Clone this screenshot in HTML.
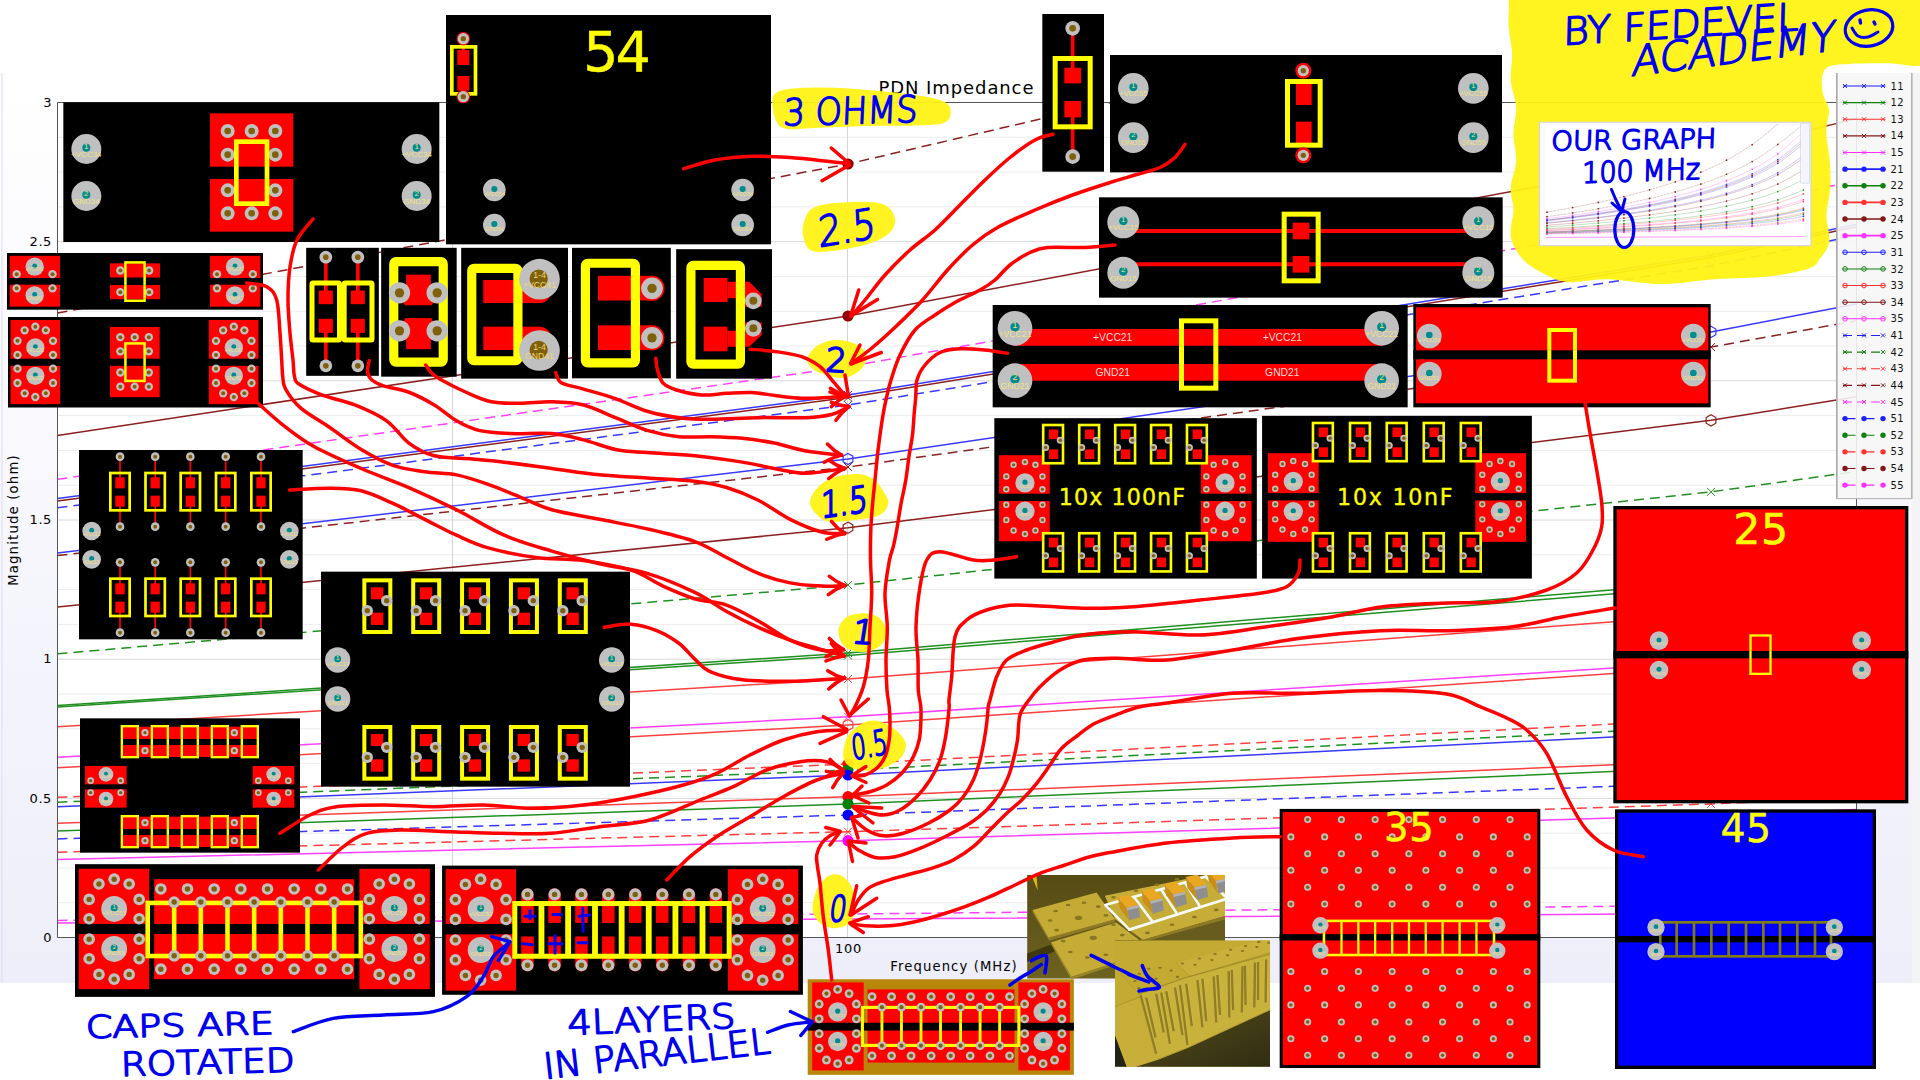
<!DOCTYPE html>
<html lang="en"><head><meta charset="utf-8"><title>PDN Impedance - capacitor layout comparison</title>
<style>html,body{margin:0;padding:0;background:#fff;overflow:hidden}svg{display:block}text{white-space:pre}</style></head>
<body><svg width="1920" height="1080" viewBox="0 0 1920 1080">
<defs>
<linearGradient id="wg" x1="0" y1="0" x2="0" y2="1"><stop offset="0" stop-color="#ffffff"/><stop offset="1" stop-color="#eeeefa"/></linearGradient>
<linearGradient id="g3d1" x1="0" y1="0" x2="0" y2="1"><stop offset="0" stop-color="#554b14"/><stop offset="1" stop-color="#6e6220"/></linearGradient>
<linearGradient id="g3d2" x1="0" y1="0" x2="1" y2="1"><stop offset="0" stop-color="#5a5018"/><stop offset="1" stop-color="#2e2c14"/></linearGradient>
<clipPath id="plotclip"><rect x="57.5" y="102.5" width="1799" height="835"/></clipPath>
<clipPath id="c3d1"><rect x="1027.2" y="875.1" width="197.8" height="103.4"/></clipPath>
<clipPath id="c3d2"><rect x="1114.9" y="940.2" width="155.1" height="126.6"/></clipPath>
</defs>
<rect x="0" y="0" width="1920" height="1080" fill="#ffffff"/>
<rect x="0" y="73" width="1912" height="910" fill="url(#wg)"/>
<rect x="1912" y="73" width="8" height="910" fill="#f4f4f6"/>
<rect x="1.5" y="73" width="1" height="910" fill="#dcdcf4"/>
<rect x="57.5" y="102.5" width="1799" height="835" fill="#ffffff"/>
<line x1="57.5" y1="102.5" x2="1856.5" y2="102.5" stroke="#d8d8d8" stroke-width="1"/>
<line x1="57.5" y1="137.29" x2="1856.5" y2="137.29" stroke="#ececec" stroke-width="1"/>
<line x1="57.5" y1="172.08" x2="1856.5" y2="172.08" stroke="#ececec" stroke-width="1"/>
<line x1="57.5" y1="206.88" x2="1856.5" y2="206.88" stroke="#ececec" stroke-width="1"/>
<line x1="57.5" y1="241.67" x2="1856.5" y2="241.67" stroke="#d8d8d8" stroke-width="1"/>
<line x1="57.5" y1="276.46" x2="1856.5" y2="276.46" stroke="#ececec" stroke-width="1"/>
<line x1="57.5" y1="311.25" x2="1856.5" y2="311.25" stroke="#ececec" stroke-width="1"/>
<line x1="57.5" y1="346.04" x2="1856.5" y2="346.04" stroke="#ececec" stroke-width="1"/>
<line x1="57.5" y1="380.83" x2="1856.5" y2="380.83" stroke="#d8d8d8" stroke-width="1"/>
<line x1="57.5" y1="415.62" x2="1856.5" y2="415.62" stroke="#ececec" stroke-width="1"/>
<line x1="57.5" y1="450.42" x2="1856.5" y2="450.42" stroke="#ececec" stroke-width="1"/>
<line x1="57.5" y1="485.21" x2="1856.5" y2="485.21" stroke="#ececec" stroke-width="1"/>
<line x1="57.5" y1="520" x2="1856.5" y2="520" stroke="#d8d8d8" stroke-width="1"/>
<line x1="57.5" y1="554.79" x2="1856.5" y2="554.79" stroke="#ececec" stroke-width="1"/>
<line x1="57.5" y1="589.58" x2="1856.5" y2="589.58" stroke="#ececec" stroke-width="1"/>
<line x1="57.5" y1="624.38" x2="1856.5" y2="624.38" stroke="#ececec" stroke-width="1"/>
<line x1="57.5" y1="659.17" x2="1856.5" y2="659.17" stroke="#d8d8d8" stroke-width="1"/>
<line x1="57.5" y1="693.96" x2="1856.5" y2="693.96" stroke="#ececec" stroke-width="1"/>
<line x1="57.5" y1="728.75" x2="1856.5" y2="728.75" stroke="#ececec" stroke-width="1"/>
<line x1="57.5" y1="763.54" x2="1856.5" y2="763.54" stroke="#ececec" stroke-width="1"/>
<line x1="57.5" y1="798.33" x2="1856.5" y2="798.33" stroke="#d8d8d8" stroke-width="1"/>
<line x1="57.5" y1="833.12" x2="1856.5" y2="833.12" stroke="#ececec" stroke-width="1"/>
<line x1="57.5" y1="867.92" x2="1856.5" y2="867.92" stroke="#ececec" stroke-width="1"/>
<line x1="57.5" y1="902.71" x2="1856.5" y2="902.71" stroke="#ececec" stroke-width="1"/>
<line x1="57.5" y1="937.5" x2="1856.5" y2="937.5" stroke="#d8d8d8" stroke-width="1"/>
<line x1="452.5" y1="102.5" x2="452.5" y2="937.5" stroke="#d4d4d4" stroke-width="1"/>
<line x1="847.5" y1="102.5" x2="847.5" y2="937.5" stroke="#d4d4d4" stroke-width="1"/>
<g clip-path="url(#plotclip)">
<path d="M57.5 313L848 164L1711 -37.71L1856.5 -81.91" fill="none" stroke="#8c2020" stroke-width="1.5" stroke-dasharray="10 6"/>
<circle cx="848" cy="164" r="5.6" fill="#900000"/>
<circle cx="1711" cy="-37.71" r="5.6" fill="#900000"/>
<path d="M57.5 435.6L848 316L1711 154.09L1856.5 118.61" fill="none" stroke="#8c2020" stroke-width="1.5"/>
<circle cx="848" cy="316" r="5.6" fill="#900000"/>
<circle cx="1711" cy="154.09" r="5.6" fill="#900000"/>
<path d="M57.5 479.3L848 366.5L1711 213.8L1856.5 180.33" fill="none" stroke="#ff40ff" stroke-width="1.5" stroke-dasharray="10 6"/>
<path d="M844 362.5l8 8m0 -8l-8 8" stroke="#ff40ff" stroke-width="1" fill="none"/>
<path d="M1707 209.8l8 8m0 -8l-8 8" stroke="#ff40ff" stroke-width="1" fill="none"/>
<path d="M57.5 498.4L848 395L1711 255.02L1856.5 224.35" fill="none" stroke="#3838ff" stroke-width="1.5"/>
<path d="M844 391l8 8m0 -8l-8 8" stroke="#3838ff" stroke-width="1" fill="none"/>
<path d="M1707 251.02l8 8m0 -8l-8 8" stroke="#3838ff" stroke-width="1" fill="none"/>
<path d="M57.5 501L848 397.5L1711 257.39L1856.5 226.68" fill="none" stroke="#8c2020" stroke-width="1.5"/>
<path d="M844 393.5l8 8m0 -8l-8 8" stroke="#8c2020" stroke-width="1" fill="none"/>
<path d="M1707 253.39l8 8m0 -8l-8 8" stroke="#8c2020" stroke-width="1" fill="none"/>
<path d="M57.5 507.8L848 405L1711 265.84L1856.5 235.34" fill="none" stroke="#3838ff" stroke-width="1.5" stroke-dasharray="10 6"/>
<path d="M844 401l8 8m0 -8l-8 8" stroke="#3838ff" stroke-width="1" fill="none"/>
<path d="M1707 261.84l8 8m0 -8l-8 8" stroke="#3838ff" stroke-width="1" fill="none"/>
<path d="M57.5 552.9L848 459L1711 331.89L1856.5 304.02" fill="none" stroke="#3838ff" stroke-width="1.5"/>
<polygon points="848,453.4 852.85,456.2 852.85,461.8 848,464.6 843.15,461.8 843.15,456.2" fill="none" stroke="#3838ff" stroke-width="1.2"/>
<polygon points="1711,326.29 1715.85,329.09 1715.85,334.69 1711,337.49 1706.15,334.69 1706.15,329.09" fill="none" stroke="#3838ff" stroke-width="1.2"/>
<path d="M57.5 555.6L848 467L1711 347.06L1856.5 320.77" fill="none" stroke="#8c2020" stroke-width="1.5" stroke-dasharray="10 6"/>
<path d="M844 463l8 8m0 -8l-8 8" stroke="#8c2020" stroke-width="1" fill="none"/>
<path d="M1707 343.06l8 8m0 -8l-8 8" stroke="#8c2020" stroke-width="1" fill="none"/>
<path d="M57.5 607L848 527.7L1711 420.35L1856.5 396.82" fill="none" stroke="#8c2020" stroke-width="1.5"/>
<polygon points="848,522.1 852.85,524.9 852.85,530.5 848,533.3 843.15,530.5 843.15,524.9" fill="none" stroke="#8c2020" stroke-width="1.2"/>
<polygon points="1711,414.75 1715.85,417.55 1715.85,423.15 1711,425.95 1706.15,423.15 1706.15,417.55" fill="none" stroke="#8c2020" stroke-width="1.2"/>
<path d="M57.5 653.8L848 585L1711 491.86L1856.5 471.45" fill="none" stroke="#209020" stroke-width="1.5" stroke-dasharray="10 6"/>
<path d="M844 581l8 8m0 -8l-8 8" stroke="#209020" stroke-width="1" fill="none"/>
<path d="M1707 487.86l8 8m0 -8l-8 8" stroke="#209020" stroke-width="1" fill="none"/>
<path d="M57.5 705.6L848 653L1711 581.79L1856.5 566.19" fill="none" stroke="#209020" stroke-width="1.5"/>
<path d="M844 649l8 8m0 -8l-8 8" stroke="#209020" stroke-width="1" fill="none"/>
<path d="M1707 577.79l8 8m0 -8l-8 8" stroke="#209020" stroke-width="1" fill="none"/>
<path d="M57.5 707L848 655.6L1711 586.02L1856.5 570.77" fill="none" stroke="#209020" stroke-width="1.5"/>
<path d="M844 651.6l8 8m0 -8l-8 8" stroke="#209020" stroke-width="1" fill="none"/>
<path d="M1707 582.02l8 8m0 -8l-8 8" stroke="#209020" stroke-width="1" fill="none"/>
<path d="M57.5 726.7L848 679L1711 614.43L1856.5 600.27" fill="none" stroke="#ff4040" stroke-width="1.5"/>
<path d="M844 675l8 8m0 -8l-8 8" stroke="#ff4040" stroke-width="1" fill="none"/>
<path d="M1707 610.43l8 8m0 -8l-8 8" stroke="#ff4040" stroke-width="1" fill="none"/>
<path d="M57.5 757.3L848 716.7L1711 661.74L1856.5 649.69" fill="none" stroke="#ff40ff" stroke-width="1.5"/>
<path d="M844 712.7l8 8m0 -8l-8 8" stroke="#ff40ff" stroke-width="1" fill="none"/>
<path d="M1707 657.74l8 8m0 -8l-8 8" stroke="#ff40ff" stroke-width="1" fill="none"/>
<path d="M57.5 767.8L848 725L1711 667.06L1856.5 654.36" fill="none" stroke="#ff4040" stroke-width="1.5"/>
<polygon points="848,719.4 852.85,722.2 852.85,727.8 848,730.6 843.15,727.8 843.15,722.2" fill="none" stroke="#ff4040" stroke-width="1.2"/>
<polygon points="1711,661.46 1715.85,664.26 1715.85,669.86 1711,672.66 1706.15,669.86 1706.15,664.26" fill="none" stroke="#ff4040" stroke-width="1.2"/>
<path d="M57.5 797.3L848 764L1711 718.92L1856.5 709.04" fill="none" stroke="#ff4040" stroke-width="1.5" stroke-dasharray="10 6"/>
<circle cx="848" cy="764" r="5.6" fill="#ff0000"/>
<circle cx="1711" cy="718.92" r="5.6" fill="#ff0000"/>
<path d="M57.5 802.2L848 770L1711 726.41L1856.5 716.86" fill="none" stroke="#209020" stroke-width="1.5" stroke-dasharray="10 6"/>
<circle cx="848" cy="770" r="5.6" fill="#008000"/>
<circle cx="1711" cy="726.41" r="5.6" fill="#008000"/>
<path d="M57.5 806.7L848 775L1711 732.09L1856.5 722.68" fill="none" stroke="#3838ff" stroke-width="1.5"/>
<circle cx="848" cy="775" r="5.6" fill="#0000ff"/>
<circle cx="1711" cy="732.09" r="5.6" fill="#0000ff"/>
<path d="M57.5 823.3L848 796.7L1711 760.69L1856.5 752.8" fill="none" stroke="#ff4040" stroke-width="1.5"/>
<circle cx="848" cy="796.7" r="5.6" fill="#ff0000"/>
<circle cx="1711" cy="760.69" r="5.6" fill="#ff0000"/>
<path d="M57.5 831.1L848 804L1711 767.31L1856.5 759.27" fill="none" stroke="#209020" stroke-width="1.5"/>
<circle cx="848" cy="804" r="5.6" fill="#008000"/>
<circle cx="1711" cy="767.31" r="5.6" fill="#008000"/>
<path d="M57.5 838.9L848 815L1711 782.65L1856.5 775.55" fill="none" stroke="#3838ff" stroke-width="1.5" stroke-dasharray="10 6"/>
<circle cx="848" cy="815" r="5.6" fill="#0000ff"/>
<circle cx="1711" cy="782.65" r="5.6" fill="#0000ff"/>
<path d="M57.5 852.2L848 831.7L1711 803.95L1856.5 797.87" fill="none" stroke="#ff4040" stroke-width="1.5" stroke-dasharray="10 6"/>
<path d="M844 827.7l8 8m0 -8l-8 8" stroke="#ff4040" stroke-width="1" fill="none"/>
<path d="M1707 799.95l8 8m0 -8l-8 8" stroke="#ff4040" stroke-width="1" fill="none"/>
<path d="M57.5 859.6L848 840.7L1711 815.11L1856.5 809.51" fill="none" stroke="#ff40ff" stroke-width="1.5"/>
<circle cx="848" cy="840.7" r="5.6" fill="#ff00ff"/>
<circle cx="1711" cy="815.11" r="5.6" fill="#ff00ff"/>
<path d="M57.5 920.4L848 914L1711 905.34L1856.5 903.44" fill="none" stroke="#ff40ff" stroke-width="1.5" stroke-dasharray="10 6"/>
<path d="M57.5 923L848 919L1711 913.59L1856.5 912.4" fill="none" stroke="#ff40ff" stroke-width="1.5"/>
</g>
<path d="M57.5 102.5V937.5H1856.5V102.5Z" fill="none" stroke="#555555" stroke-width="1"/>
<text x="52" y="106.7" font-size="13" fill="#000" font-family='"DejaVu Sans", "Liberation Sans", sans-serif' text-anchor="end" letter-spacing="0.6">3</text>
<text x="52" y="245.87" font-size="13" fill="#000" font-family='"DejaVu Sans", "Liberation Sans", sans-serif' text-anchor="end" letter-spacing="0.6">2.5</text>
<text x="52" y="385.03" font-size="13" fill="#000" font-family='"DejaVu Sans", "Liberation Sans", sans-serif' text-anchor="end" letter-spacing="0.6">2</text>
<text x="52" y="524.2" font-size="13" fill="#000" font-family='"DejaVu Sans", "Liberation Sans", sans-serif' text-anchor="end" letter-spacing="0.6">1.5</text>
<text x="52" y="663.37" font-size="13" fill="#000" font-family='"DejaVu Sans", "Liberation Sans", sans-serif' text-anchor="end" letter-spacing="0.6">1</text>
<text x="52" y="802.53" font-size="13" fill="#000" font-family='"DejaVu Sans", "Liberation Sans", sans-serif' text-anchor="end" letter-spacing="0.6">0.5</text>
<text x="52" y="941.7" font-size="13" fill="#000" font-family='"DejaVu Sans", "Liberation Sans", sans-serif' text-anchor="end" letter-spacing="0.6">0</text>
<text x="848.5" y="953" font-size="13" fill="#000" font-family='"DejaVu Sans", "Liberation Sans", sans-serif' text-anchor="middle" letter-spacing="0.8">100</text>
<text x="954" y="971" font-size="13.2" fill="#000" font-family='"DejaVu Sans", "Liberation Sans", sans-serif' text-anchor="middle" letter-spacing="1.1">Frequency (MHz)</text>
<text x="956.5" y="94" font-size="18" fill="#000" font-family='"DejaVu Sans", "Liberation Sans", sans-serif' text-anchor="middle" letter-spacing="0.9">PDN Impedance</text>
<text transform="translate(18 520) rotate(-90)" font-size="13.2" text-anchor="middle" letter-spacing="1.2" font-family='"DejaVu Sans","Liberation Sans",sans-serif' fill="#000">Magnitude (ohm)</text>
<rect x="1837" y="73" width="75" height="426" fill="#f6f6f6" fill-opacity="0.9"/>
<rect x="1836" y="73" width="1.6" height="426" fill="#a8a8a8"/>
<rect x="1911" y="73" width="1.6" height="426" fill="#b4b4b4"/>
<rect x="1836" y="498" width="76" height="1.2" fill="#b8b8b8"/>
<line x1="1843" y1="86" x2="1885.5" y2="86" stroke="#2020ff" stroke-width="1.1"/>
<path d="M1843 84l4 4m0 -4l-4 4" stroke="#2020ff" stroke-width="1" fill="none"/>
<path d="M1862 84l4 4m0 -4l-4 4" stroke="#2020ff" stroke-width="1" fill="none"/>
<path d="M1881 84l4 4m0 -4l-4 4" stroke="#2020ff" stroke-width="1" fill="none"/>
<text x="1890.5" y="89.6" font-size="10" fill="#111" font-family='"DejaVu Sans", "Liberation Sans", sans-serif' letter-spacing="0.5">11</text>
<line x1="1843" y1="102.63" x2="1885.5" y2="102.63" stroke="#108010" stroke-width="1.1"/>
<path d="M1843 100.63l4 4m0 -4l-4 4" stroke="#108010" stroke-width="1" fill="none"/>
<path d="M1862 100.63l4 4m0 -4l-4 4" stroke="#108010" stroke-width="1" fill="none"/>
<path d="M1881 100.63l4 4m0 -4l-4 4" stroke="#108010" stroke-width="1" fill="none"/>
<text x="1890.5" y="106.23" font-size="10" fill="#111" font-family='"DejaVu Sans", "Liberation Sans", sans-serif' letter-spacing="0.5">12</text>
<line x1="1843" y1="119.26" x2="1885.5" y2="119.26" stroke="#ff3030" stroke-width="1.1"/>
<path d="M1843 117.26l4 4m0 -4l-4 4" stroke="#ff3030" stroke-width="1" fill="none"/>
<path d="M1862 117.26l4 4m0 -4l-4 4" stroke="#ff3030" stroke-width="1" fill="none"/>
<path d="M1881 117.26l4 4m0 -4l-4 4" stroke="#ff3030" stroke-width="1" fill="none"/>
<text x="1890.5" y="122.86" font-size="10" fill="#111" font-family='"DejaVu Sans", "Liberation Sans", sans-serif' letter-spacing="0.5">13</text>
<line x1="1843" y1="135.89" x2="1885.5" y2="135.89" stroke="#801818" stroke-width="1.1"/>
<path d="M1843 133.89l4 4m0 -4l-4 4" stroke="#801818" stroke-width="1" fill="none"/>
<path d="M1862 133.89l4 4m0 -4l-4 4" stroke="#801818" stroke-width="1" fill="none"/>
<path d="M1881 133.89l4 4m0 -4l-4 4" stroke="#801818" stroke-width="1" fill="none"/>
<text x="1890.5" y="139.49" font-size="10" fill="#111" font-family='"DejaVu Sans", "Liberation Sans", sans-serif' letter-spacing="0.5">14</text>
<line x1="1843" y1="152.52" x2="1885.5" y2="152.52" stroke="#ff30ff" stroke-width="1.1"/>
<path d="M1843 150.52l4 4m0 -4l-4 4" stroke="#ff30ff" stroke-width="1" fill="none"/>
<path d="M1862 150.52l4 4m0 -4l-4 4" stroke="#ff30ff" stroke-width="1" fill="none"/>
<path d="M1881 150.52l4 4m0 -4l-4 4" stroke="#ff30ff" stroke-width="1" fill="none"/>
<text x="1890.5" y="156.12" font-size="10" fill="#111" font-family='"DejaVu Sans", "Liberation Sans", sans-serif' letter-spacing="0.5">15</text>
<line x1="1843" y1="169.15" x2="1885.5" y2="169.15" stroke="#2020ff" stroke-width="1.6"/>
<circle cx="1845" cy="169.15" r="2.7" fill="#2020ff"/>
<circle cx="1864" cy="169.15" r="2.7" fill="#2020ff"/>
<circle cx="1883" cy="169.15" r="2.7" fill="#2020ff"/>
<text x="1890.5" y="172.75" font-size="10" fill="#111" font-family='"DejaVu Sans", "Liberation Sans", sans-serif' letter-spacing="0.5">21</text>
<line x1="1843" y1="185.78" x2="1885.5" y2="185.78" stroke="#108010" stroke-width="1.6"/>
<circle cx="1845" cy="185.78" r="2.7" fill="#108010"/>
<circle cx="1864" cy="185.78" r="2.7" fill="#108010"/>
<circle cx="1883" cy="185.78" r="2.7" fill="#108010"/>
<text x="1890.5" y="189.38" font-size="10" fill="#111" font-family='"DejaVu Sans", "Liberation Sans", sans-serif' letter-spacing="0.5">22</text>
<line x1="1843" y1="202.41" x2="1885.5" y2="202.41" stroke="#ff3030" stroke-width="1.6"/>
<circle cx="1845" cy="202.41" r="2.7" fill="#ff3030"/>
<circle cx="1864" cy="202.41" r="2.7" fill="#ff3030"/>
<circle cx="1883" cy="202.41" r="2.7" fill="#ff3030"/>
<text x="1890.5" y="206.01" font-size="10" fill="#111" font-family='"DejaVu Sans", "Liberation Sans", sans-serif' letter-spacing="0.5">23</text>
<line x1="1843" y1="219.04" x2="1885.5" y2="219.04" stroke="#801818" stroke-width="1.6"/>
<circle cx="1845" cy="219.04" r="2.7" fill="#801818"/>
<circle cx="1864" cy="219.04" r="2.7" fill="#801818"/>
<circle cx="1883" cy="219.04" r="2.7" fill="#801818"/>
<text x="1890.5" y="222.64" font-size="10" fill="#111" font-family='"DejaVu Sans", "Liberation Sans", sans-serif' letter-spacing="0.5">24</text>
<line x1="1843" y1="235.67" x2="1885.5" y2="235.67" stroke="#ff30ff" stroke-width="1.6"/>
<circle cx="1845" cy="235.67" r="2.7" fill="#ff30ff"/>
<circle cx="1864" cy="235.67" r="2.7" fill="#ff30ff"/>
<circle cx="1883" cy="235.67" r="2.7" fill="#ff30ff"/>
<text x="1890.5" y="239.27" font-size="10" fill="#111" font-family='"DejaVu Sans", "Liberation Sans", sans-serif' letter-spacing="0.5">25</text>
<line x1="1843" y1="252.3" x2="1885.5" y2="252.3" stroke="#2020ff" stroke-width="1.1"/>
<circle cx="1845" cy="252.3" r="2.3" fill="none" stroke="#2020ff" stroke-width="1"/>
<circle cx="1864" cy="252.3" r="2.3" fill="none" stroke="#2020ff" stroke-width="1"/>
<circle cx="1883" cy="252.3" r="2.3" fill="none" stroke="#2020ff" stroke-width="1"/>
<text x="1890.5" y="255.9" font-size="10" fill="#111" font-family='"DejaVu Sans", "Liberation Sans", sans-serif' letter-spacing="0.5">31</text>
<line x1="1843" y1="268.93" x2="1885.5" y2="268.93" stroke="#108010" stroke-width="1.1"/>
<circle cx="1845" cy="268.93" r="2.3" fill="none" stroke="#108010" stroke-width="1"/>
<circle cx="1864" cy="268.93" r="2.3" fill="none" stroke="#108010" stroke-width="1"/>
<circle cx="1883" cy="268.93" r="2.3" fill="none" stroke="#108010" stroke-width="1"/>
<text x="1890.5" y="272.53" font-size="10" fill="#111" font-family='"DejaVu Sans", "Liberation Sans", sans-serif' letter-spacing="0.5">32</text>
<line x1="1843" y1="285.56" x2="1885.5" y2="285.56" stroke="#ff3030" stroke-width="1.1"/>
<circle cx="1845" cy="285.56" r="2.3" fill="none" stroke="#ff3030" stroke-width="1"/>
<circle cx="1864" cy="285.56" r="2.3" fill="none" stroke="#ff3030" stroke-width="1"/>
<circle cx="1883" cy="285.56" r="2.3" fill="none" stroke="#ff3030" stroke-width="1"/>
<text x="1890.5" y="289.16" font-size="10" fill="#111" font-family='"DejaVu Sans", "Liberation Sans", sans-serif' letter-spacing="0.5">33</text>
<line x1="1843" y1="302.19" x2="1885.5" y2="302.19" stroke="#801818" stroke-width="1.1"/>
<circle cx="1845" cy="302.19" r="2.3" fill="none" stroke="#801818" stroke-width="1"/>
<circle cx="1864" cy="302.19" r="2.3" fill="none" stroke="#801818" stroke-width="1"/>
<circle cx="1883" cy="302.19" r="2.3" fill="none" stroke="#801818" stroke-width="1"/>
<text x="1890.5" y="305.79" font-size="10" fill="#111" font-family='"DejaVu Sans", "Liberation Sans", sans-serif' letter-spacing="0.5">34</text>
<line x1="1843" y1="318.82" x2="1885.5" y2="318.82" stroke="#ff30ff" stroke-width="1.1"/>
<circle cx="1845" cy="318.82" r="2.3" fill="none" stroke="#ff30ff" stroke-width="1"/>
<circle cx="1864" cy="318.82" r="2.3" fill="none" stroke="#ff30ff" stroke-width="1"/>
<circle cx="1883" cy="318.82" r="2.3" fill="none" stroke="#ff30ff" stroke-width="1"/>
<text x="1890.5" y="322.42" font-size="10" fill="#111" font-family='"DejaVu Sans", "Liberation Sans", sans-serif' letter-spacing="0.5">35</text>
<line x1="1843" y1="335.45" x2="1885.5" y2="335.45" stroke="#2020ff" stroke-width="1.1" stroke-dasharray="9 5"/>
<path d="M1843 333.45l4 4m0 -4l-4 4" stroke="#2020ff" stroke-width="1" fill="none"/>
<path d="M1862 333.45l4 4m0 -4l-4 4" stroke="#2020ff" stroke-width="1" fill="none"/>
<path d="M1881 333.45l4 4m0 -4l-4 4" stroke="#2020ff" stroke-width="1" fill="none"/>
<text x="1890.5" y="339.05" font-size="10" fill="#111" font-family='"DejaVu Sans", "Liberation Sans", sans-serif' letter-spacing="0.5">41</text>
<line x1="1843" y1="352.08" x2="1885.5" y2="352.08" stroke="#108010" stroke-width="1.1" stroke-dasharray="9 5"/>
<path d="M1843 350.08l4 4m0 -4l-4 4" stroke="#108010" stroke-width="1" fill="none"/>
<path d="M1862 350.08l4 4m0 -4l-4 4" stroke="#108010" stroke-width="1" fill="none"/>
<path d="M1881 350.08l4 4m0 -4l-4 4" stroke="#108010" stroke-width="1" fill="none"/>
<text x="1890.5" y="355.68" font-size="10" fill="#111" font-family='"DejaVu Sans", "Liberation Sans", sans-serif' letter-spacing="0.5">42</text>
<line x1="1843" y1="368.71" x2="1885.5" y2="368.71" stroke="#ff3030" stroke-width="1.1" stroke-dasharray="9 5"/>
<path d="M1843 366.71l4 4m0 -4l-4 4" stroke="#ff3030" stroke-width="1" fill="none"/>
<path d="M1862 366.71l4 4m0 -4l-4 4" stroke="#ff3030" stroke-width="1" fill="none"/>
<path d="M1881 366.71l4 4m0 -4l-4 4" stroke="#ff3030" stroke-width="1" fill="none"/>
<text x="1890.5" y="372.31" font-size="10" fill="#111" font-family='"DejaVu Sans", "Liberation Sans", sans-serif' letter-spacing="0.5">43</text>
<line x1="1843" y1="385.34" x2="1885.5" y2="385.34" stroke="#801818" stroke-width="1.1" stroke-dasharray="9 5"/>
<path d="M1843 383.34l4 4m0 -4l-4 4" stroke="#801818" stroke-width="1" fill="none"/>
<path d="M1862 383.34l4 4m0 -4l-4 4" stroke="#801818" stroke-width="1" fill="none"/>
<path d="M1881 383.34l4 4m0 -4l-4 4" stroke="#801818" stroke-width="1" fill="none"/>
<text x="1890.5" y="388.94" font-size="10" fill="#111" font-family='"DejaVu Sans", "Liberation Sans", sans-serif' letter-spacing="0.5">44</text>
<line x1="1843" y1="401.97" x2="1885.5" y2="401.97" stroke="#ff30ff" stroke-width="1.1" stroke-dasharray="9 5"/>
<path d="M1843 399.97l4 4m0 -4l-4 4" stroke="#ff30ff" stroke-width="1" fill="none"/>
<path d="M1862 399.97l4 4m0 -4l-4 4" stroke="#ff30ff" stroke-width="1" fill="none"/>
<path d="M1881 399.97l4 4m0 -4l-4 4" stroke="#ff30ff" stroke-width="1" fill="none"/>
<text x="1890.5" y="405.57" font-size="10" fill="#111" font-family='"DejaVu Sans", "Liberation Sans", sans-serif' letter-spacing="0.5">45</text>
<line x1="1843" y1="418.6" x2="1885.5" y2="418.6" stroke="#2020ff" stroke-width="1.1" stroke-dasharray="12.5 6.5"/>
<circle cx="1845" cy="418.6" r="2.7" fill="#2020ff"/>
<circle cx="1864" cy="418.6" r="2.7" fill="#2020ff"/>
<circle cx="1883" cy="418.6" r="2.7" fill="#2020ff"/>
<text x="1890.5" y="422.2" font-size="10" fill="#111" font-family='"DejaVu Sans", "Liberation Sans", sans-serif' letter-spacing="0.5">51</text>
<line x1="1843" y1="435.23" x2="1885.5" y2="435.23" stroke="#108010" stroke-width="1.1" stroke-dasharray="12.5 6.5"/>
<circle cx="1845" cy="435.23" r="2.7" fill="#108010"/>
<circle cx="1864" cy="435.23" r="2.7" fill="#108010"/>
<circle cx="1883" cy="435.23" r="2.7" fill="#108010"/>
<text x="1890.5" y="438.83" font-size="10" fill="#111" font-family='"DejaVu Sans", "Liberation Sans", sans-serif' letter-spacing="0.5">52</text>
<line x1="1843" y1="451.86" x2="1885.5" y2="451.86" stroke="#ff3030" stroke-width="1.1" stroke-dasharray="12.5 6.5"/>
<circle cx="1845" cy="451.86" r="2.7" fill="#ff3030"/>
<circle cx="1864" cy="451.86" r="2.7" fill="#ff3030"/>
<circle cx="1883" cy="451.86" r="2.7" fill="#ff3030"/>
<text x="1890.5" y="455.46" font-size="10" fill="#111" font-family='"DejaVu Sans", "Liberation Sans", sans-serif' letter-spacing="0.5">53</text>
<line x1="1843" y1="468.49" x2="1885.5" y2="468.49" stroke="#801818" stroke-width="1.1" stroke-dasharray="12.5 6.5"/>
<circle cx="1845" cy="468.49" r="2.7" fill="#801818"/>
<circle cx="1864" cy="468.49" r="2.7" fill="#801818"/>
<circle cx="1883" cy="468.49" r="2.7" fill="#801818"/>
<text x="1890.5" y="472.09" font-size="10" fill="#111" font-family='"DejaVu Sans", "Liberation Sans", sans-serif' letter-spacing="0.5">54</text>
<line x1="1843" y1="485.12" x2="1885.5" y2="485.12" stroke="#ff30ff" stroke-width="1.1" stroke-dasharray="12.5 6.5"/>
<circle cx="1845" cy="485.12" r="2.7" fill="#ff30ff"/>
<circle cx="1864" cy="485.12" r="2.7" fill="#ff30ff"/>
<circle cx="1883" cy="485.12" r="2.7" fill="#ff30ff"/>
<text x="1890.5" y="488.72" font-size="10" fill="#111" font-family='"DejaVu Sans", "Liberation Sans", sans-serif' letter-spacing="0.5">55</text>
<path d="M1508.59 -16.11C1508.46 -25.96 1473.68 -42.96 1508.06 -53.71C1542.43 -64.45 1640.08 -80.56 1714.82 -80.56C1789.56 -80.56 1916.22 -72.5 1956.5 -53.71C1996.78 -34.91 1961.87 12.62 1956.5 32.22C1951.13 51.83 1935.46 58.72 1924.27 63.91C1913.09 69.1 1901.9 63.37 1889.37 63.37C1876.83 63.37 1859.16 63.37 1849.09 63.91C1839.02 64.45 1833.42 64.49 1828.95 66.6C1824.47 68.7 1823.22 71.97 1822.23 76.53C1821.25 81.1 1821.92 88.39 1823.04 93.98C1824.16 99.58 1828.41 103.83 1828.95 110.1C1829.48 116.36 1826.13 123.08 1826.26 131.58C1826.4 140.08 1829.08 151.72 1829.75 161.12C1830.42 170.52 1830.83 179.02 1830.29 187.97C1829.75 196.92 1826.71 205.87 1826.53 214.82C1826.35 223.77 1830.29 234.43 1829.22 241.68C1828.14 248.93 1823.49 253.85 1820.09 258.32C1816.68 262.8 1817.4 265.49 1808.81 268.53C1800.21 271.57 1784.19 274.79 1768.53 276.58C1752.86 278.37 1732.72 278.02 1714.82 279.27C1696.92 280.52 1679.02 284.1 1661.12 284.1C1643.22 284.1 1623.08 279.63 1607.41 279.27C1591.75 278.91 1578.32 283.21 1567.13 281.95C1555.94 280.7 1547.89 275.78 1540.28 271.75C1532.67 267.72 1526.41 263.69 1521.48 257.79C1516.56 251.88 1512.08 244.36 1510.74 236.31C1509.4 228.25 1513.43 217.51 1513.43 209.45C1513.43 201.4 1510.29 196.03 1510.74 187.97C1511.19 179.91 1515.66 170.07 1516.11 161.12C1516.56 152.17 1513.43 143.22 1513.43 134.26C1513.43 125.31 1516.56 116.36 1516.11 107.41C1515.66 98.46 1511.41 89.51 1510.74 80.56C1510.07 71.61 1512.44 62.66 1512.08 53.71C1511.73 44.75 1509.13 34.91 1508.59 26.85C1508.06 18.8 1508.86 12.53 1508.86 5.37C1508.86 -1.79 1508.73 -6.27 1508.59 -16.11Z" fill="#fff314" fill-opacity="0.95"/>
<g>
<rect x="1539.47" y="122.18" width="271.48" height="123.52" fill="#fbfbfd"/>
<rect x="1539.47" y="122.18" width="271.48" height="123.52" fill="none" stroke="#d0d0e0" stroke-width="1"/>
<rect x="1546.19" y="126.21" width="257.79" height="112.24" fill="#ffffff"/>
<path d="M1546.99 212.15C1551.27 211.38 1564.09 209.18 1572.64 207.56C1581.19 205.94 1589.73 204.25 1598.28 202.43C1606.83 200.6 1615.38 198.69 1623.93 196.6C1632.47 194.5 1641.02 192.3 1649.57 189.85C1658.12 187.39 1666.67 184.81 1675.21 181.87C1683.76 178.93 1692.31 175.83 1700.86 172.21C1709.41 168.6 1717.96 164.77 1726.5 160.18C1735.05 155.59 1743.6 150.69 1752.15 144.67C1760.7 138.65 1773.52 127.49 1777.79 124.06" fill="none" stroke="#8c2020" stroke-width="0.43" stroke-linecap="round" stroke-linejoin="round" stroke-opacity="0.6" stroke-dasharray="2 1.5"/>
<circle cx="1546.99" cy="212.15" r="0.86" fill="#8c2020"/>
<circle cx="1572.64" cy="207.56" r="0.86" fill="#8c2020"/>
<circle cx="1598.28" cy="202.43" r="0.86" fill="#8c2020"/>
<circle cx="1623.93" cy="196.6" r="0.86" fill="#8c2020"/>
<circle cx="1649.57" cy="189.85" r="0.86" fill="#8c2020"/>
<circle cx="1675.21" cy="181.87" r="0.86" fill="#8c2020"/>
<circle cx="1700.86" cy="172.21" r="0.86" fill="#8c2020"/>
<circle cx="1726.5" cy="160.18" r="0.86" fill="#8c2020"/>
<circle cx="1752.15" cy="144.67" r="0.86" fill="#8c2020"/>
<path d="M1546.99 216.67C1551.27 216.05 1564.09 214.25 1572.64 212.93C1581.19 211.6 1589.73 210.23 1598.28 208.74C1606.83 207.24 1615.38 205.69 1623.93 203.98C1632.47 202.26 1641.02 200.47 1649.57 198.46C1658.12 196.46 1666.67 194.35 1675.21 191.95C1683.76 189.55 1692.31 187.01 1700.86 184.06C1709.41 181.11 1717.96 177.99 1726.5 174.24C1735.05 170.49 1743.6 166.53 1752.15 161.57C1760.7 156.61 1769.24 150.73 1777.79 144.48C1786.34 138.23 1799.16 127.46 1803.44 124.06" fill="none" stroke="#8c2020" stroke-width="0.43" stroke-linecap="round" stroke-linejoin="round" stroke-opacity="0.6" stroke-dasharray="2 1.5"/>
<circle cx="1546.99" cy="216.67" r="0.86" fill="#8c2020"/>
<circle cx="1572.64" cy="212.93" r="0.86" fill="#8c2020"/>
<circle cx="1598.28" cy="208.74" r="0.86" fill="#8c2020"/>
<circle cx="1623.93" cy="203.98" r="0.86" fill="#8c2020"/>
<circle cx="1649.57" cy="198.46" r="0.86" fill="#8c2020"/>
<circle cx="1675.21" cy="191.95" r="0.86" fill="#8c2020"/>
<circle cx="1700.86" cy="184.06" r="0.86" fill="#8c2020"/>
<circle cx="1726.5" cy="174.24" r="0.86" fill="#8c2020"/>
<circle cx="1752.15" cy="161.57" r="0.86" fill="#8c2020"/>
<circle cx="1777.79" cy="144.48" r="0.86" fill="#8c2020"/>
<path d="M1546.99 218.73C1551.27 218.17 1564.09 216.55 1572.64 215.37C1581.19 214.18 1589.73 212.94 1598.28 211.6C1606.83 210.26 1615.38 208.87 1623.93 207.33C1632.47 205.79 1641.02 204.18 1649.57 202.38C1658.12 200.58 1666.67 198.69 1675.21 196.53C1683.76 194.37 1692.31 192.1 1700.86 189.45C1709.41 186.8 1717.96 183.99 1726.5 180.63C1735.05 177.26 1743.6 173.7 1752.15 169.25C1760.7 164.79 1769.24 160.12 1777.79 153.91C1786.34 147.69 1799.16 135.6 1803.44 131.94" fill="none" stroke="#ff40ff" stroke-width="0.43" stroke-linecap="round" stroke-linejoin="round" stroke-opacity="0.6" stroke-dasharray="none"/>
<circle cx="1546.99" cy="218.73" r="0.86" fill="#ff40ff"/>
<circle cx="1572.64" cy="215.37" r="0.86" fill="#ff40ff"/>
<circle cx="1598.28" cy="211.6" r="0.86" fill="#ff40ff"/>
<circle cx="1623.93" cy="207.33" r="0.86" fill="#ff40ff"/>
<circle cx="1649.57" cy="202.38" r="0.86" fill="#ff40ff"/>
<circle cx="1675.21" cy="196.53" r="0.86" fill="#ff40ff"/>
<circle cx="1700.86" cy="189.45" r="0.86" fill="#ff40ff"/>
<circle cx="1726.5" cy="180.63" r="0.86" fill="#ff40ff"/>
<circle cx="1752.15" cy="169.25" r="0.86" fill="#ff40ff"/>
<circle cx="1777.79" cy="153.91" r="0.86" fill="#ff40ff"/>
<circle cx="1803.44" cy="131.94" r="0.86" fill="#ff40ff"/>
<path d="M1546.99 219.97C1551.27 219.44 1564.09 217.94 1572.64 216.83C1581.19 215.72 1589.73 214.57 1598.28 213.32C1606.83 212.08 1615.38 210.77 1623.93 209.34C1632.47 207.91 1641.02 206.41 1649.57 204.73C1658.12 203.05 1666.67 201.29 1675.21 199.28C1683.76 197.27 1692.31 195.15 1700.86 192.68C1709.41 190.21 1717.96 187.6 1726.5 184.46C1735.05 181.32 1743.6 178.01 1752.15 173.86C1760.7 169.71 1769.24 165.35 1777.79 159.56C1786.34 153.77 1799.16 142.5 1803.44 139.09" fill="none" stroke="#3838ff" stroke-width="0.43" stroke-linecap="round" stroke-linejoin="round" stroke-opacity="0.6" stroke-dasharray="none"/>
<circle cx="1546.99" cy="219.97" r="0.86" fill="#3838ff"/>
<circle cx="1572.64" cy="216.83" r="0.86" fill="#3838ff"/>
<circle cx="1598.28" cy="213.32" r="0.86" fill="#3838ff"/>
<circle cx="1623.93" cy="209.34" r="0.86" fill="#3838ff"/>
<circle cx="1649.57" cy="204.73" r="0.86" fill="#3838ff"/>
<circle cx="1675.21" cy="199.28" r="0.86" fill="#3838ff"/>
<circle cx="1700.86" cy="192.68" r="0.86" fill="#3838ff"/>
<circle cx="1726.5" cy="184.46" r="0.86" fill="#3838ff"/>
<circle cx="1752.15" cy="173.86" r="0.86" fill="#3838ff"/>
<circle cx="1777.79" cy="159.56" r="0.86" fill="#3838ff"/>
<circle cx="1803.44" cy="139.09" r="0.86" fill="#3838ff"/>
<path d="M1546.99 220.38C1551.27 219.87 1564.09 218.4 1572.64 217.32C1581.19 216.24 1589.73 215.12 1598.28 213.9C1606.83 212.68 1615.38 211.41 1623.93 210.01C1632.47 208.61 1641.02 207.15 1649.57 205.51C1658.12 203.88 1666.67 202.15 1675.21 200.19C1683.76 198.24 1692.31 196.17 1700.86 193.76C1709.41 191.35 1717.96 188.8 1726.5 185.74C1735.05 182.68 1743.6 179.44 1752.15 175.39C1760.7 171.34 1769.24 167.1 1777.79 161.44C1786.34 155.79 1799.16 144.8 1803.44 141.47" fill="none" stroke="#8c2020" stroke-width="0.43" stroke-linecap="round" stroke-linejoin="round" stroke-opacity="0.6" stroke-dasharray="none"/>
<circle cx="1546.99" cy="220.38" r="0.86" fill="#8c2020"/>
<circle cx="1572.64" cy="217.32" r="0.86" fill="#8c2020"/>
<circle cx="1598.28" cy="213.9" r="0.86" fill="#8c2020"/>
<circle cx="1623.93" cy="210.01" r="0.86" fill="#8c2020"/>
<circle cx="1649.57" cy="205.51" r="0.86" fill="#8c2020"/>
<circle cx="1675.21" cy="200.19" r="0.86" fill="#8c2020"/>
<circle cx="1700.86" cy="193.76" r="0.86" fill="#8c2020"/>
<circle cx="1726.5" cy="185.74" r="0.86" fill="#8c2020"/>
<circle cx="1752.15" cy="175.39" r="0.86" fill="#8c2020"/>
<circle cx="1777.79" cy="161.44" r="0.86" fill="#8c2020"/>
<circle cx="1803.44" cy="141.47" r="0.86" fill="#8c2020"/>
<path d="M1546.99 220.79C1551.27 220.29 1564.09 218.86 1572.64 217.81C1581.19 216.75 1589.73 215.66 1598.28 214.47C1606.83 213.28 1615.38 212.05 1623.93 210.68C1632.47 209.32 1641.02 207.89 1649.57 206.3C1658.12 204.7 1666.67 203.02 1675.21 201.11C1683.76 199.2 1692.31 197.18 1700.86 194.83C1709.41 192.48 1717.96 190 1726.5 187.01C1735.05 184.03 1743.6 180.88 1752.15 176.93C1760.7 172.98 1769.24 168.84 1777.79 163.33C1786.34 157.82 1799.16 147.1 1803.44 143.86" fill="none" stroke="#3838ff" stroke-width="0.43" stroke-linecap="round" stroke-linejoin="round" stroke-opacity="0.6" stroke-dasharray="none"/>
<circle cx="1546.99" cy="220.79" r="0.86" fill="#3838ff"/>
<circle cx="1572.64" cy="217.81" r="0.86" fill="#3838ff"/>
<circle cx="1598.28" cy="214.47" r="0.86" fill="#3838ff"/>
<circle cx="1623.93" cy="210.68" r="0.86" fill="#3838ff"/>
<circle cx="1649.57" cy="206.3" r="0.86" fill="#3838ff"/>
<circle cx="1675.21" cy="201.11" r="0.86" fill="#3838ff"/>
<circle cx="1700.86" cy="194.83" r="0.86" fill="#3838ff"/>
<circle cx="1726.5" cy="187.01" r="0.86" fill="#3838ff"/>
<circle cx="1752.15" cy="176.93" r="0.86" fill="#3838ff"/>
<circle cx="1777.79" cy="163.33" r="0.86" fill="#3838ff"/>
<circle cx="1803.44" cy="143.86" r="0.86" fill="#3838ff"/>
<path d="M1546.99 222.85C1551.27 222.41 1564.09 221.16 1572.64 220.25C1581.19 219.33 1589.73 218.38 1598.28 217.34C1606.83 216.3 1615.38 215.22 1623.93 214.04C1632.47 212.85 1641.02 211.6 1649.57 210.21C1658.12 208.82 1666.67 207.36 1675.21 205.69C1683.76 204.03 1692.31 202.27 1700.86 200.22C1709.41 198.17 1717.96 196 1726.5 193.4C1735.05 190.8 1743.6 188.05 1752.15 184.61C1760.7 181.17 1769.24 177.56 1777.79 172.75C1786.34 167.95 1799.16 158.61 1803.44 155.78" fill="none" stroke="#3838ff" stroke-width="0.43" stroke-linecap="round" stroke-linejoin="round" stroke-opacity="0.6" stroke-dasharray="none"/>
<circle cx="1546.99" cy="222.85" r="0.86" fill="#3838ff"/>
<circle cx="1572.64" cy="220.25" r="0.86" fill="#3838ff"/>
<circle cx="1598.28" cy="217.34" r="0.86" fill="#3838ff"/>
<circle cx="1623.93" cy="214.04" r="0.86" fill="#3838ff"/>
<circle cx="1649.57" cy="210.21" r="0.86" fill="#3838ff"/>
<circle cx="1675.21" cy="205.69" r="0.86" fill="#3838ff"/>
<circle cx="1700.86" cy="200.22" r="0.86" fill="#3838ff"/>
<circle cx="1726.5" cy="193.4" r="0.86" fill="#3838ff"/>
<circle cx="1752.15" cy="184.61" r="0.86" fill="#3838ff"/>
<circle cx="1777.79" cy="172.75" r="0.86" fill="#3838ff"/>
<circle cx="1803.44" cy="155.78" r="0.86" fill="#3838ff"/>
<path d="M1546.99 223.26C1551.27 222.84 1564.09 221.63 1572.64 220.74C1581.19 219.84 1589.73 218.92 1598.28 217.91C1606.83 216.91 1615.38 215.86 1623.93 214.71C1632.47 213.55 1641.02 212.35 1649.57 211C1658.12 209.65 1666.67 208.22 1675.21 206.61C1683.76 204.99 1692.31 203.28 1700.86 201.3C1709.41 199.31 1717.96 197.21 1726.5 194.68C1735.05 192.16 1743.6 189.49 1752.15 186.15C1760.7 182.81 1769.24 179.3 1777.79 174.64C1786.34 169.98 1799.16 160.91 1803.44 158.16" fill="none" stroke="#8c2020" stroke-width="0.43" stroke-linecap="round" stroke-linejoin="round" stroke-opacity="0.6" stroke-dasharray="none"/>
<circle cx="1546.99" cy="223.26" r="0.86" fill="#8c2020"/>
<circle cx="1572.64" cy="220.74" r="0.86" fill="#8c2020"/>
<circle cx="1598.28" cy="217.91" r="0.86" fill="#8c2020"/>
<circle cx="1623.93" cy="214.71" r="0.86" fill="#8c2020"/>
<circle cx="1649.57" cy="211" r="0.86" fill="#8c2020"/>
<circle cx="1675.21" cy="206.61" r="0.86" fill="#8c2020"/>
<circle cx="1700.86" cy="201.3" r="0.86" fill="#8c2020"/>
<circle cx="1726.5" cy="194.68" r="0.86" fill="#8c2020"/>
<circle cx="1752.15" cy="186.15" r="0.86" fill="#8c2020"/>
<circle cx="1777.79" cy="174.64" r="0.86" fill="#8c2020"/>
<circle cx="1803.44" cy="158.16" r="0.86" fill="#8c2020"/>
<path d="M1546.99 225.32C1551.27 224.96 1564.09 223.93 1572.64 223.18C1581.19 222.42 1589.73 221.63 1598.28 220.78C1606.83 219.93 1615.38 219.04 1623.93 218.06C1632.47 217.08 1641.02 216.06 1649.57 214.91C1658.12 213.77 1666.67 212.56 1675.21 211.19C1683.76 209.82 1692.31 208.37 1700.86 206.68C1709.41 205 1717.96 203.21 1726.5 201.07C1735.05 198.93 1743.6 196.66 1752.15 193.83C1760.7 190.99 1769.24 188.02 1777.79 184.06C1786.34 180.11 1799.16 172.41 1803.44 170.08" fill="none" stroke="#8c2020" stroke-width="0.43" stroke-linecap="round" stroke-linejoin="round" stroke-opacity="0.6" stroke-dasharray="none"/>
<circle cx="1546.99" cy="225.32" r="0.86" fill="#8c2020"/>
<circle cx="1572.64" cy="223.18" r="0.86" fill="#8c2020"/>
<circle cx="1598.28" cy="220.78" r="0.86" fill="#8c2020"/>
<circle cx="1623.93" cy="218.06" r="0.86" fill="#8c2020"/>
<circle cx="1649.57" cy="214.91" r="0.86" fill="#8c2020"/>
<circle cx="1675.21" cy="211.19" r="0.86" fill="#8c2020"/>
<circle cx="1700.86" cy="206.68" r="0.86" fill="#8c2020"/>
<circle cx="1726.5" cy="201.07" r="0.86" fill="#8c2020"/>
<circle cx="1752.15" cy="193.83" r="0.86" fill="#8c2020"/>
<circle cx="1777.79" cy="184.06" r="0.86" fill="#8c2020"/>
<circle cx="1803.44" cy="170.08" r="0.86" fill="#8c2020"/>
<path d="M1546.99 226.96C1551.27 226.66 1564.09 225.78 1572.64 225.13C1581.19 224.48 1589.73 223.81 1598.28 223.08C1606.83 222.35 1615.38 221.58 1623.93 220.74C1632.47 219.91 1641.02 219.03 1649.57 218.04C1658.12 217.06 1666.67 216.03 1675.21 214.85C1683.76 213.68 1692.31 212.44 1700.86 210.99C1709.41 209.54 1717.96 208.02 1726.5 206.18C1735.05 204.34 1743.6 202.4 1752.15 199.97C1760.7 197.54 1769.24 195 1777.79 191.6C1786.34 188.21 1799.16 181.62 1803.44 179.62" fill="none" stroke="#209020" stroke-width="0.43" stroke-linecap="round" stroke-linejoin="round" stroke-opacity="0.6" stroke-dasharray="none"/>
<circle cx="1546.99" cy="226.96" r="0.86" fill="#209020"/>
<circle cx="1572.64" cy="225.13" r="0.86" fill="#209020"/>
<circle cx="1598.28" cy="223.08" r="0.86" fill="#209020"/>
<circle cx="1623.93" cy="220.74" r="0.86" fill="#209020"/>
<circle cx="1649.57" cy="218.04" r="0.86" fill="#209020"/>
<circle cx="1675.21" cy="214.85" r="0.86" fill="#209020"/>
<circle cx="1700.86" cy="210.99" r="0.86" fill="#209020"/>
<circle cx="1726.5" cy="206.18" r="0.86" fill="#209020"/>
<circle cx="1752.15" cy="199.97" r="0.86" fill="#209020"/>
<circle cx="1777.79" cy="191.6" r="0.86" fill="#209020"/>
<circle cx="1803.44" cy="179.62" r="0.86" fill="#209020"/>
<path d="M1546.99 228.78C1551.27 228.53 1564.09 227.8 1572.64 227.28C1581.19 226.75 1589.73 226.2 1598.28 225.6C1606.83 225 1615.38 224.38 1623.93 223.7C1632.47 223.01 1641.02 222.29 1649.57 221.49C1658.12 220.69 1666.67 219.85 1675.21 218.88C1683.76 217.92 1692.31 216.91 1700.86 215.73C1709.41 214.55 1717.96 213.3 1726.5 211.8C1735.05 210.3 1743.6 208.72 1752.15 206.73C1760.7 204.75 1769.24 202.67 1777.79 199.9C1786.34 197.13 1799.16 191.74 1803.44 190.11" fill="none" stroke="#209020" stroke-width="0.43" stroke-linecap="round" stroke-linejoin="round" stroke-opacity="0.6" stroke-dasharray="none"/>
<circle cx="1546.99" cy="228.78" r="0.86" fill="#209020"/>
<circle cx="1572.64" cy="227.28" r="0.86" fill="#209020"/>
<circle cx="1598.28" cy="225.6" r="0.86" fill="#209020"/>
<circle cx="1623.93" cy="223.7" r="0.86" fill="#209020"/>
<circle cx="1649.57" cy="221.49" r="0.86" fill="#209020"/>
<circle cx="1675.21" cy="218.88" r="0.86" fill="#209020"/>
<circle cx="1700.86" cy="215.73" r="0.86" fill="#209020"/>
<circle cx="1726.5" cy="211.8" r="0.86" fill="#209020"/>
<circle cx="1752.15" cy="206.73" r="0.86" fill="#209020"/>
<circle cx="1777.79" cy="199.9" r="0.86" fill="#209020"/>
<circle cx="1803.44" cy="190.11" r="0.86" fill="#209020"/>
<path d="M1546.99 229.43C1551.27 229.2 1564.09 228.54 1572.64 228.06C1581.19 227.57 1589.73 227.07 1598.28 226.52C1606.83 225.97 1615.38 225.4 1623.93 224.77C1632.47 224.14 1641.02 223.48 1649.57 222.74C1658.12 222.01 1666.67 221.23 1675.21 220.35C1683.76 219.47 1692.31 218.54 1700.86 217.45C1709.41 216.37 1717.96 215.22 1726.5 213.84C1735.05 212.47 1743.6 211.01 1752.15 209.19C1760.7 207.37 1769.24 205.46 1777.79 202.91C1786.34 200.37 1799.16 195.42 1803.44 193.93" fill="none" stroke="#ff4040" stroke-width="0.43" stroke-linecap="round" stroke-linejoin="round" stroke-opacity="0.6" stroke-dasharray="none"/>
<circle cx="1546.99" cy="229.43" r="0.86" fill="#ff4040"/>
<circle cx="1572.64" cy="228.06" r="0.86" fill="#ff4040"/>
<circle cx="1598.28" cy="226.52" r="0.86" fill="#ff4040"/>
<circle cx="1623.93" cy="224.77" r="0.86" fill="#ff4040"/>
<circle cx="1649.57" cy="222.74" r="0.86" fill="#ff4040"/>
<circle cx="1675.21" cy="220.35" r="0.86" fill="#ff4040"/>
<circle cx="1700.86" cy="217.45" r="0.86" fill="#ff4040"/>
<circle cx="1726.5" cy="213.84" r="0.86" fill="#ff4040"/>
<circle cx="1752.15" cy="209.19" r="0.86" fill="#ff4040"/>
<circle cx="1777.79" cy="202.91" r="0.86" fill="#ff4040"/>
<circle cx="1803.44" cy="193.93" r="0.86" fill="#ff4040"/>
<path d="M1546.99 230.42C1551.27 230.22 1564.09 229.65 1572.64 229.23C1581.19 228.81 1589.73 228.37 1598.28 227.89C1606.83 227.42 1615.38 226.92 1623.93 226.38C1632.47 225.83 1641.02 225.26 1649.57 224.62C1658.12 223.99 1666.67 223.31 1675.21 222.55C1683.76 221.79 1692.31 220.98 1700.86 220.04C1709.41 219.1 1717.96 218.1 1726.5 216.91C1735.05 215.72 1743.6 214.46 1752.15 212.88C1760.7 211.3 1769.24 209.64 1777.79 207.44C1786.34 205.23 1799.16 200.95 1803.44 199.65" fill="none" stroke="#ff40ff" stroke-width="0.43" stroke-linecap="round" stroke-linejoin="round" stroke-opacity="0.6" stroke-dasharray="none"/>
<circle cx="1546.99" cy="230.42" r="0.86" fill="#ff40ff"/>
<circle cx="1572.64" cy="229.23" r="0.86" fill="#ff40ff"/>
<circle cx="1598.28" cy="227.89" r="0.86" fill="#ff40ff"/>
<circle cx="1623.93" cy="226.38" r="0.86" fill="#ff40ff"/>
<circle cx="1649.57" cy="224.62" r="0.86" fill="#ff40ff"/>
<circle cx="1675.21" cy="222.55" r="0.86" fill="#ff40ff"/>
<circle cx="1700.86" cy="220.04" r="0.86" fill="#ff40ff"/>
<circle cx="1726.5" cy="216.91" r="0.86" fill="#ff40ff"/>
<circle cx="1752.15" cy="212.88" r="0.86" fill="#ff40ff"/>
<circle cx="1777.79" cy="207.44" r="0.86" fill="#ff40ff"/>
<circle cx="1803.44" cy="199.65" r="0.86" fill="#ff40ff"/>
<path d="M1546.99 230.75C1551.27 230.56 1564.09 230.02 1572.64 229.62C1581.19 229.22 1589.73 228.8 1598.28 228.35C1606.83 227.9 1615.38 227.43 1623.93 226.92C1632.47 226.4 1641.02 225.86 1649.57 225.25C1658.12 224.64 1666.67 224.01 1675.21 223.28C1683.76 222.56 1692.31 221.79 1700.86 220.9C1709.41 220.01 1717.96 219.07 1726.5 217.93C1735.05 216.8 1743.6 215.6 1752.15 214.11C1760.7 212.61 1769.24 211.04 1777.79 208.95C1786.34 206.85 1799.16 202.79 1803.44 201.56" fill="none" stroke="#ff4040" stroke-width="0.43" stroke-linecap="round" stroke-linejoin="round" stroke-opacity="0.6" stroke-dasharray="none"/>
<circle cx="1546.99" cy="230.75" r="0.86" fill="#ff4040"/>
<circle cx="1572.64" cy="229.62" r="0.86" fill="#ff4040"/>
<circle cx="1598.28" cy="228.35" r="0.86" fill="#ff4040"/>
<circle cx="1623.93" cy="226.92" r="0.86" fill="#ff4040"/>
<circle cx="1649.57" cy="225.25" r="0.86" fill="#ff4040"/>
<circle cx="1675.21" cy="223.28" r="0.86" fill="#ff4040"/>
<circle cx="1700.86" cy="220.9" r="0.86" fill="#ff4040"/>
<circle cx="1726.5" cy="217.93" r="0.86" fill="#ff4040"/>
<circle cx="1752.15" cy="214.11" r="0.86" fill="#ff4040"/>
<circle cx="1777.79" cy="208.95" r="0.86" fill="#ff4040"/>
<circle cx="1803.44" cy="201.56" r="0.86" fill="#ff4040"/>
<path d="M1546.99 231.9C1551.27 231.75 1564.09 231.31 1572.64 230.98C1581.19 230.66 1589.73 230.32 1598.28 229.96C1606.83 229.59 1615.38 229.21 1623.93 228.79C1632.47 228.37 1641.02 227.93 1649.57 227.44C1658.12 226.95 1666.67 226.44 1675.21 225.85C1683.76 225.26 1692.31 224.64 1700.86 223.92C1709.41 223.19 1717.96 222.43 1726.5 221.51C1735.05 220.59 1743.6 219.62 1752.15 218.41C1760.7 217.19 1769.24 215.92 1777.79 214.22C1786.34 212.53 1799.16 209.23 1803.44 208.23" fill="none" stroke="#ff4040" stroke-width="0.43" stroke-linecap="round" stroke-linejoin="round" stroke-opacity="0.6" stroke-dasharray="none"/>
<circle cx="1546.99" cy="231.9" r="0.86" fill="#ff4040"/>
<circle cx="1572.64" cy="230.98" r="0.86" fill="#ff4040"/>
<circle cx="1598.28" cy="229.96" r="0.86" fill="#ff4040"/>
<circle cx="1623.93" cy="228.79" r="0.86" fill="#ff4040"/>
<circle cx="1649.57" cy="227.44" r="0.86" fill="#ff4040"/>
<circle cx="1675.21" cy="225.85" r="0.86" fill="#ff4040"/>
<circle cx="1700.86" cy="223.92" r="0.86" fill="#ff4040"/>
<circle cx="1726.5" cy="221.51" r="0.86" fill="#ff4040"/>
<circle cx="1752.15" cy="218.41" r="0.86" fill="#ff4040"/>
<circle cx="1777.79" cy="214.22" r="0.86" fill="#ff4040"/>
<circle cx="1803.44" cy="208.23" r="0.86" fill="#ff4040"/>
<path d="M1546.99 232.07C1551.27 231.92 1564.09 231.49 1572.64 231.18C1581.19 230.87 1589.73 230.54 1598.28 230.19C1606.83 229.84 1615.38 229.47 1623.93 229.06C1632.47 228.66 1641.02 228.23 1649.57 227.76C1658.12 227.28 1666.67 226.78 1675.21 226.21C1683.76 225.65 1692.31 225.05 1700.86 224.35C1709.41 223.65 1717.96 222.91 1726.5 222.02C1735.05 221.13 1743.6 220.2 1752.15 219.02C1760.7 217.85 1769.24 216.62 1777.79 214.98C1786.34 213.34 1799.16 210.15 1803.44 209.19" fill="none" stroke="#209020" stroke-width="0.43" stroke-linecap="round" stroke-linejoin="round" stroke-opacity="0.6" stroke-dasharray="none"/>
<circle cx="1546.99" cy="232.07" r="0.86" fill="#209020"/>
<circle cx="1572.64" cy="231.18" r="0.86" fill="#209020"/>
<circle cx="1598.28" cy="230.19" r="0.86" fill="#209020"/>
<circle cx="1623.93" cy="229.06" r="0.86" fill="#209020"/>
<circle cx="1649.57" cy="227.76" r="0.86" fill="#209020"/>
<circle cx="1675.21" cy="226.21" r="0.86" fill="#209020"/>
<circle cx="1700.86" cy="224.35" r="0.86" fill="#209020"/>
<circle cx="1726.5" cy="222.02" r="0.86" fill="#209020"/>
<circle cx="1752.15" cy="219.02" r="0.86" fill="#209020"/>
<circle cx="1777.79" cy="214.98" r="0.86" fill="#209020"/>
<circle cx="1803.44" cy="209.19" r="0.86" fill="#209020"/>
<path d="M1546.99 232.23C1551.27 232.09 1564.09 231.68 1572.64 231.38C1581.19 231.07 1589.73 230.76 1598.28 230.42C1606.83 230.08 1615.38 229.72 1623.93 229.33C1632.47 228.94 1641.02 228.53 1649.57 228.07C1658.12 227.61 1666.67 227.13 1675.21 226.58C1683.76 226.03 1692.31 225.45 1700.86 224.78C1709.41 224.1 1717.96 223.39 1726.5 222.53C1735.05 221.68 1743.6 220.77 1752.15 219.64C1760.7 218.5 1769.24 217.31 1777.79 215.73C1786.34 214.15 1799.16 211.07 1803.44 210.14" fill="none" stroke="#3838ff" stroke-width="0.43" stroke-linecap="round" stroke-linejoin="round" stroke-opacity="0.6" stroke-dasharray="none"/>
<circle cx="1546.99" cy="232.23" r="0.86" fill="#3838ff"/>
<circle cx="1572.64" cy="231.38" r="0.86" fill="#3838ff"/>
<circle cx="1598.28" cy="230.42" r="0.86" fill="#3838ff"/>
<circle cx="1623.93" cy="229.33" r="0.86" fill="#3838ff"/>
<circle cx="1649.57" cy="228.07" r="0.86" fill="#3838ff"/>
<circle cx="1675.21" cy="226.58" r="0.86" fill="#3838ff"/>
<circle cx="1700.86" cy="224.78" r="0.86" fill="#3838ff"/>
<circle cx="1726.5" cy="222.53" r="0.86" fill="#3838ff"/>
<circle cx="1752.15" cy="219.64" r="0.86" fill="#3838ff"/>
<circle cx="1777.79" cy="215.73" r="0.86" fill="#3838ff"/>
<circle cx="1803.44" cy="210.14" r="0.86" fill="#3838ff"/>
<path d="M1546.99 232.73C1551.27 232.6 1564.09 232.23 1572.64 231.96C1581.19 231.69 1589.73 231.41 1598.28 231.11C1606.83 230.8 1615.38 230.48 1623.93 230.13C1632.47 229.79 1641.02 229.42 1649.57 229.01C1658.12 228.6 1666.67 228.17 1675.21 227.68C1683.76 227.19 1692.31 226.67 1700.86 226.07C1709.41 225.47 1717.96 224.83 1726.5 224.07C1735.05 223.3 1743.6 222.49 1752.15 221.48C1760.7 220.47 1769.24 219.41 1777.79 217.99C1786.34 216.58 1799.16 213.83 1803.44 213" fill="none" stroke="#ff4040" stroke-width="0.43" stroke-linecap="round" stroke-linejoin="round" stroke-opacity="0.6" stroke-dasharray="none"/>
<circle cx="1546.99" cy="232.73" r="0.86" fill="#ff4040"/>
<circle cx="1572.64" cy="231.96" r="0.86" fill="#ff4040"/>
<circle cx="1598.28" cy="231.11" r="0.86" fill="#ff4040"/>
<circle cx="1623.93" cy="230.13" r="0.86" fill="#ff4040"/>
<circle cx="1649.57" cy="229.01" r="0.86" fill="#ff4040"/>
<circle cx="1675.21" cy="227.68" r="0.86" fill="#ff4040"/>
<circle cx="1700.86" cy="226.07" r="0.86" fill="#ff4040"/>
<circle cx="1726.5" cy="224.07" r="0.86" fill="#ff4040"/>
<circle cx="1752.15" cy="221.48" r="0.86" fill="#ff4040"/>
<circle cx="1777.79" cy="217.99" r="0.86" fill="#ff4040"/>
<circle cx="1803.44" cy="213" r="0.86" fill="#ff4040"/>
<path d="M1546.99 232.97C1551.27 232.85 1564.09 232.51 1572.64 232.25C1581.19 232 1589.73 231.74 1598.28 231.45C1606.83 231.16 1615.38 230.87 1623.93 230.54C1632.47 230.21 1641.02 229.86 1649.57 229.48C1658.12 229.1 1666.67 228.69 1675.21 228.23C1683.76 227.77 1692.31 227.28 1700.86 226.72C1709.41 226.15 1717.96 225.55 1726.5 224.83C1735.05 224.11 1743.6 223.35 1752.15 222.4C1760.7 221.45 1769.24 220.45 1777.79 219.12C1786.34 217.8 1799.16 215.21 1803.44 214.43" fill="none" stroke="#209020" stroke-width="0.43" stroke-linecap="round" stroke-linejoin="round" stroke-opacity="0.6" stroke-dasharray="none"/>
<circle cx="1546.99" cy="232.97" r="0.86" fill="#209020"/>
<circle cx="1572.64" cy="232.25" r="0.86" fill="#209020"/>
<circle cx="1598.28" cy="231.45" r="0.86" fill="#209020"/>
<circle cx="1623.93" cy="230.54" r="0.86" fill="#209020"/>
<circle cx="1649.57" cy="229.48" r="0.86" fill="#209020"/>
<circle cx="1675.21" cy="228.23" r="0.86" fill="#209020"/>
<circle cx="1700.86" cy="226.72" r="0.86" fill="#209020"/>
<circle cx="1726.5" cy="224.83" r="0.86" fill="#209020"/>
<circle cx="1752.15" cy="222.4" r="0.86" fill="#209020"/>
<circle cx="1777.79" cy="219.12" r="0.86" fill="#209020"/>
<circle cx="1803.44" cy="214.43" r="0.86" fill="#209020"/>
<path d="M1546.99 233.3C1551.27 233.19 1564.09 232.88 1572.64 232.64C1581.19 232.41 1589.73 232.17 1598.28 231.91C1606.83 231.65 1615.38 231.37 1623.93 231.07C1632.47 230.77 1641.02 230.46 1649.57 230.11C1658.12 229.75 1666.67 229.38 1675.21 228.96C1683.76 228.54 1692.31 228.1 1700.86 227.58C1709.41 227.06 1717.96 226.51 1726.5 225.85C1735.05 225.2 1743.6 224.5 1752.15 223.63C1760.7 222.76 1769.24 221.85 1777.79 220.63C1786.34 219.42 1799.16 217.05 1803.44 216.34" fill="none" stroke="#3838ff" stroke-width="0.43" stroke-linecap="round" stroke-linejoin="round" stroke-opacity="0.6" stroke-dasharray="none"/>
<circle cx="1546.99" cy="233.3" r="0.86" fill="#3838ff"/>
<circle cx="1572.64" cy="232.64" r="0.86" fill="#3838ff"/>
<circle cx="1598.28" cy="231.91" r="0.86" fill="#3838ff"/>
<circle cx="1623.93" cy="231.07" r="0.86" fill="#3838ff"/>
<circle cx="1649.57" cy="230.11" r="0.86" fill="#3838ff"/>
<circle cx="1675.21" cy="228.96" r="0.86" fill="#3838ff"/>
<circle cx="1700.86" cy="227.58" r="0.86" fill="#3838ff"/>
<circle cx="1726.5" cy="225.85" r="0.86" fill="#3838ff"/>
<circle cx="1752.15" cy="223.63" r="0.86" fill="#3838ff"/>
<circle cx="1777.79" cy="220.63" r="0.86" fill="#3838ff"/>
<circle cx="1803.44" cy="216.34" r="0.86" fill="#3838ff"/>
<path d="M1546.99 233.8C1551.27 233.7 1564.09 233.43 1572.64 233.23C1581.19 233.03 1589.73 232.82 1598.28 232.6C1606.83 232.37 1615.38 232.14 1623.93 231.88C1632.47 231.62 1641.02 231.35 1649.57 231.05C1658.12 230.74 1666.67 230.42 1675.21 230.06C1683.76 229.7 1692.31 229.32 1700.86 228.87C1709.41 228.43 1717.96 227.95 1726.5 227.39C1735.05 226.82 1743.6 226.22 1752.15 225.47C1760.7 224.73 1769.24 223.94 1777.79 222.89C1786.34 221.85 1799.16 219.81 1803.44 219.2" fill="none" stroke="#ff4040" stroke-width="0.43" stroke-linecap="round" stroke-linejoin="round" stroke-opacity="0.6" stroke-dasharray="2 1.5"/>
<circle cx="1546.99" cy="233.8" r="0.86" fill="#ff4040"/>
<circle cx="1572.64" cy="233.23" r="0.86" fill="#ff4040"/>
<circle cx="1598.28" cy="232.6" r="0.86" fill="#ff4040"/>
<circle cx="1623.93" cy="231.88" r="0.86" fill="#ff4040"/>
<circle cx="1649.57" cy="231.05" r="0.86" fill="#ff4040"/>
<circle cx="1675.21" cy="230.06" r="0.86" fill="#ff4040"/>
<circle cx="1700.86" cy="228.87" r="0.86" fill="#ff4040"/>
<circle cx="1726.5" cy="227.39" r="0.86" fill="#ff4040"/>
<circle cx="1752.15" cy="225.47" r="0.86" fill="#ff4040"/>
<circle cx="1777.79" cy="222.89" r="0.86" fill="#ff4040"/>
<circle cx="1803.44" cy="219.2" r="0.86" fill="#ff4040"/>
<path d="M1546.99 234.04C1551.27 233.96 1564.09 233.71 1572.64 233.52C1581.19 233.34 1589.73 233.15 1598.28 232.94C1606.83 232.73 1615.38 232.52 1623.93 232.28C1632.47 232.04 1641.02 231.79 1649.57 231.52C1658.12 231.24 1666.67 230.95 1675.21 230.61C1683.76 230.28 1692.31 229.93 1700.86 229.52C1709.41 229.11 1717.96 228.67 1726.5 228.15C1735.05 227.63 1743.6 227.08 1752.15 226.4C1760.7 225.71 1769.24 224.99 1777.79 224.02C1786.34 223.06 1799.16 221.2 1803.44 220.63" fill="none" stroke="#ff40ff" stroke-width="0.43" stroke-linecap="round" stroke-linejoin="round" stroke-opacity="0.6" stroke-dasharray="2 1.5"/>
<circle cx="1546.99" cy="234.04" r="0.86" fill="#ff40ff"/>
<circle cx="1572.64" cy="233.52" r="0.86" fill="#ff40ff"/>
<circle cx="1598.28" cy="232.94" r="0.86" fill="#ff40ff"/>
<circle cx="1623.93" cy="232.28" r="0.86" fill="#ff40ff"/>
<circle cx="1649.57" cy="231.52" r="0.86" fill="#ff40ff"/>
<circle cx="1675.21" cy="230.61" r="0.86" fill="#ff40ff"/>
<circle cx="1700.86" cy="229.52" r="0.86" fill="#ff40ff"/>
<circle cx="1726.5" cy="228.15" r="0.86" fill="#ff40ff"/>
<circle cx="1752.15" cy="226.4" r="0.86" fill="#ff40ff"/>
<circle cx="1777.79" cy="224.02" r="0.86" fill="#ff40ff"/>
<circle cx="1803.44" cy="220.63" r="0.86" fill="#ff40ff"/>
<path d="M1546.19 237.38 L1803.97 236.57" fill="none" stroke="#ff40ff" stroke-width="0.54" stroke-linecap="round" stroke-linejoin="round"/>
<rect x="1800.75" y="123.52" width="8.59" height="59.61" fill="#f4f4fa" stroke="#c8c8d8" stroke-width="0.5"/>
</g>
<path d="M772.5 105C772.38 100 771.67 95.33 776.25 92.5C780.83 89.67 789.38 88.75 800 88C810.62 87.25 825 87.33 840 88C855 88.67 875.42 90.5 890 92C904.58 93.5 918.12 95.17 927.5 97C936.88 98.83 942.38 100.33 946.25 103C950.12 105.67 951.17 109.67 950.75 113C950.33 116.33 949.71 120.92 943.75 123C937.79 125.08 928.12 125 915 125.5C901.88 126 881.67 125.58 865 126C848.33 126.42 827.92 127.5 815 128C802.08 128.5 793.83 129.92 787.5 129C781.17 128.08 779.5 126.5 777 122.5C774.5 118.5 772.62 110 772.5 105Z" fill="#fff314" fill-opacity="0.94"/>
<path d="M803.75 222.5C805.62 217.21 806.88 210.42 815 207C823.12 203.58 841.04 202.42 852.5 202C863.96 201.58 876.67 201.71 883.75 204.5C890.83 207.29 894.17 213.88 895 218.75C895.83 223.62 893.54 229.46 888.75 233.75C883.96 238.04 875.62 241.62 866.25 244.5C856.88 247.38 841.67 250 832.5 251C823.33 252 816.04 252.54 811.25 250.5C806.46 248.46 805 243.42 803.75 238.75C802.5 234.08 801.88 227.79 803.75 222.5Z" fill="#fff314" fill-opacity="0.94"/>
<path d="M807.5 358C808.54 354.33 812.92 348.5 817.5 345.5C822.08 342.5 828.75 340.29 835 340C841.25 339.71 849.71 341.25 855 343.75C860.29 346.25 865.79 350.71 866.75 355C867.71 359.29 864.58 365.67 860.75 369.5C856.92 373.33 849.92 377.21 843.75 378C837.58 378.79 829.17 376 823.75 374.25C818.33 372.5 813.96 370.21 811.25 367.5C808.54 364.79 806.46 361.67 807.5 358Z" fill="#fff314" fill-opacity="0.94"/>
<path d="M810 501.67C810.42 497.17 814.17 490.78 818.33 486.67C822.5 482.56 828.06 479.08 835 477C841.94 474.92 853.47 473.67 860 474.17C866.53 474.67 870.22 477.08 874.17 480C878.11 482.92 881.31 487.78 883.67 491.67C886.03 495.56 888.89 499.5 888.33 503.33C887.78 507.17 885.06 512 880.33 514.67C875.61 517.33 868.39 518.17 860 519.33C851.61 520.5 837.36 522.61 830 521.67C822.64 520.72 819.17 517 815.83 513.67C812.5 510.33 809.58 506.17 810 501.67Z" fill="#fff314" fill-opacity="0.94"/>
<path d="M838.33 631.67C838.33 626.94 841.11 621.39 845 618.33C848.89 615.28 856.11 613.5 861.67 613.33C867.22 613.17 874.17 614.28 878.33 617.33C882.5 620.39 886.39 626.89 886.67 631.67C886.94 636.44 883.89 642.61 880 646C876.11 649.39 869.17 651.89 863.33 652C857.5 652.11 849.17 650.06 845 646.67C840.83 643.28 838.33 636.39 838.33 631.67Z" fill="#fff314" fill-opacity="0.94"/>
<path d="M843.33 751.67C843.89 747.28 845.28 740 848.33 735.33C851.39 730.67 856.94 726.08 861.67 723.67C866.39 721.25 871.39 720.06 876.67 720.83C881.94 721.61 888.89 725.42 893.33 728.33C897.78 731.25 901.25 735.22 903.33 738.33C905.42 741.44 906.33 743.67 905.83 747C905.33 750.33 903.53 755.06 900.33 758.33C897.14 761.61 891.72 764.58 886.67 766.67C881.61 768.75 875.56 770.56 870 770.83C864.44 771.11 857.5 769.86 853.33 768.33C849.17 766.81 846.67 764.44 845 761.67C843.33 758.89 842.78 756.06 843.33 751.67Z" fill="#fff314" fill-opacity="0.94"/>
<path d="M812.5 906.67C812.78 902.17 814.58 894.67 816.67 890C818.75 885.33 822.17 881.28 825 878.67C827.83 876.06 830.56 874.61 833.67 874.33C836.78 874.06 840.67 874.89 843.67 877C846.67 879.11 849.78 883.17 851.67 887C853.56 890.83 854.58 895.33 855 900C855.42 904.67 855.56 910.83 854.17 915C852.78 919.17 850.08 922.78 846.67 925C843.25 927.22 837.78 928.44 833.67 928.33C829.56 928.22 825.11 926.22 822 924.33C818.89 922.44 816.58 919.94 815 917C813.42 914.06 812.22 911.17 812.5 906.67Z" fill="#fff314" fill-opacity="0.94"/>
<rect x="63.33" y="102.33" width="376" height="139.67" fill="#000000"/>
<rect x="210" y="113.33" width="83.33" height="53.33" fill="#ff0000"/>
<rect x="210" y="179" width="83.33" height="52.67" fill="#ff0000"/>
<circle cx="227.67" cy="131" r="7" fill="#c0c0c0"/>
<circle cx="227.67" cy="131" r="3.33" fill="#80600a"/>
<circle cx="251.67" cy="131" r="7" fill="#c0c0c0"/>
<circle cx="251.67" cy="131" r="3.33" fill="#80600a"/>
<circle cx="275.33" cy="131" r="7" fill="#c0c0c0"/>
<circle cx="275.33" cy="131" r="3.33" fill="#80600a"/>
<circle cx="227.67" cy="154.67" r="7" fill="#c0c0c0"/>
<circle cx="227.67" cy="154.67" r="3.33" fill="#80600a"/>
<circle cx="275.33" cy="154.67" r="7" fill="#c0c0c0"/>
<circle cx="275.33" cy="154.67" r="3.33" fill="#80600a"/>
<circle cx="227.67" cy="190.33" r="7" fill="#c0c0c0"/>
<circle cx="227.67" cy="190.33" r="3.33" fill="#80600a"/>
<circle cx="275.33" cy="190.33" r="7" fill="#c0c0c0"/>
<circle cx="275.33" cy="190.33" r="3.33" fill="#80600a"/>
<circle cx="227.67" cy="213.33" r="7" fill="#c0c0c0"/>
<circle cx="227.67" cy="213.33" r="3.33" fill="#80600a"/>
<circle cx="251.67" cy="213.33" r="7" fill="#c0c0c0"/>
<circle cx="251.67" cy="213.33" r="3.33" fill="#80600a"/>
<circle cx="275.33" cy="213.33" r="7" fill="#c0c0c0"/>
<circle cx="275.33" cy="213.33" r="3.33" fill="#80600a"/>
<rect x="236.33" y="141.67" width="30.67" height="62" fill="none" stroke="#ffff00" stroke-width="4.67"/>
<circle cx="86.33" cy="149" r="15" fill="#c0c0c0"/>
<circle cx="86.33" cy="147.8" r="4.05" fill="#008c8c"/>
<text x="86.33" y="148.7" font-size="8" fill="#f0e088" font-family='"Liberation Sans", sans-serif' text-anchor="middle">1</text>
<text x="86.33" y="156.5" font-size="8" fill="#f0e088" font-family='"Liberation Sans", sans-serif' text-anchor="middle">+VCC34</text>
<circle cx="86.33" cy="196" r="15" fill="#c0c0c0"/>
<circle cx="86.33" cy="194.8" r="4.05" fill="#008c8c"/>
<text x="86.33" y="195.7" font-size="8" fill="#f0e088" font-family='"Liberation Sans", sans-serif' text-anchor="middle">2</text>
<text x="86.33" y="203.5" font-size="8" fill="#f0e088" font-family='"Liberation Sans", sans-serif' text-anchor="middle">GND34</text>
<circle cx="416.67" cy="149" r="15" fill="#c0c0c0"/>
<circle cx="416.67" cy="147.8" r="4.05" fill="#008c8c"/>
<text x="416.67" y="148.7" font-size="8" fill="#f0e088" font-family='"Liberation Sans", sans-serif' text-anchor="middle">1</text>
<text x="416.67" y="156.5" font-size="8" fill="#f0e088" font-family='"Liberation Sans", sans-serif' text-anchor="middle">+VCC34</text>
<circle cx="416.67" cy="196" r="15" fill="#c0c0c0"/>
<circle cx="416.67" cy="194.8" r="4.05" fill="#008c8c"/>
<text x="416.67" y="195.7" font-size="8" fill="#f0e088" font-family='"Liberation Sans", sans-serif' text-anchor="middle">2</text>
<text x="416.67" y="203.5" font-size="8" fill="#f0e088" font-family='"Liberation Sans", sans-serif' text-anchor="middle">GND34</text>
<rect x="446" y="15" width="325" height="229.33" fill="#000000"/>
<line x1="463.33" y1="38.33" x2="463.33" y2="51.67" stroke="#ff0000" stroke-width="3.33"/>
<line x1="463.33" y1="89.33" x2="463.33" y2="96.67" stroke="#ff0000" stroke-width="3.33"/>
<rect x="457.33" y="50" width="12" height="15" fill="#ff0000"/>
<rect x="457.33" y="76" width="12" height="14.67" fill="#ff0000"/>
<rect x="451.83" y="46.83" width="23.67" height="47" fill="none" stroke="#ffff00" stroke-width="3.67"/>
<circle cx="463.33" cy="38.67" r="6.67" fill="#ff0000"/>
<circle cx="463.33" cy="38.67" r="5.67" fill="#c0c0c0"/>
<circle cx="463.33" cy="38.67" r="2.67" fill="#80600a"/>
<circle cx="463.33" cy="96.67" r="6.67" fill="#ff0000"/>
<circle cx="463.33" cy="96.67" r="5.67" fill="#c0c0c0"/>
<circle cx="463.33" cy="96.67" r="2.67" fill="#80600a"/>
<circle cx="494.33" cy="190" r="11.33" fill="#c0c0c0"/>
<circle cx="494.33" cy="189.09" r="3.06" fill="#008c8c"/>
<text x="494.33" y="195.67" font-size="5.67" fill="#f0e088" font-family='"Liberation Sans", sans-serif' text-anchor="middle">+VCC54</text>
<circle cx="494.33" cy="225" r="11.33" fill="#c0c0c0"/>
<circle cx="494.33" cy="224.09" r="3.06" fill="#008c8c"/>
<text x="494.33" y="230.67" font-size="5.67" fill="#f0e088" font-family='"Liberation Sans", sans-serif' text-anchor="middle">GND54</text>
<circle cx="742.67" cy="190" r="11.33" fill="#c0c0c0"/>
<circle cx="742.67" cy="189.09" r="3.06" fill="#008c8c"/>
<text x="742.67" y="195.67" font-size="5.67" fill="#f0e088" font-family='"Liberation Sans", sans-serif' text-anchor="middle">+VCC54</text>
<circle cx="742.67" cy="225" r="11.33" fill="#c0c0c0"/>
<circle cx="742.67" cy="224.09" r="3.06" fill="#008c8c"/>
<text x="742.67" y="230.67" font-size="5.67" fill="#f0e088" font-family='"Liberation Sans", sans-serif' text-anchor="middle">GND54</text>
<text x="583.33" y="71" font-size="55.33" fill="#ffff00" font-family='"DejaVu Sans", "Liberation Sans", sans-serif' letter-spacing="-3" stroke="#ffff00" stroke-width="0.5">54</text>
<rect x="7" y="253" width="256" height="56.67" fill="#000000"/>
<rect x="9.67" y="255.83" width="50.33" height="22.17" fill="#ff0000"/>
<rect x="9.67" y="284.67" width="50.33" height="22" fill="#ff0000"/>
<circle cx="16.67" cy="274.17" r="4.17" fill="#c0c0c0"/>
<circle cx="16.67" cy="274.17" r="2" fill="#80600a"/>
<circle cx="52.5" cy="274.17" r="4.17" fill="#c0c0c0"/>
<circle cx="52.5" cy="274.17" r="2" fill="#80600a"/>
<circle cx="16.67" cy="288.33" r="4.17" fill="#c0c0c0"/>
<circle cx="16.67" cy="288.33" r="2" fill="#80600a"/>
<circle cx="52.5" cy="288.33" r="4.17" fill="#c0c0c0"/>
<circle cx="52.5" cy="288.33" r="2" fill="#80600a"/>
<circle cx="34.67" cy="266.67" r="9.17" fill="#c0c0c0"/>
<circle cx="34.67" cy="265.93" r="2.48" fill="#008c8c"/>
<text x="34.67" y="271.25" font-size="4.67" fill="#f0e088" font-family='"Liberation Sans", sans-serif' text-anchor="middle">+VCC42</text>
<circle cx="34.67" cy="295.33" r="9.17" fill="#c0c0c0"/>
<circle cx="34.67" cy="294.6" r="2.48" fill="#008c8c"/>
<text x="34.67" y="299.92" font-size="4.67" fill="#f0e088" font-family='"Liberation Sans", sans-serif' text-anchor="middle">GND42</text>
<rect x="210" y="255.83" width="50.33" height="22.17" fill="#ff0000"/>
<rect x="210" y="284.67" width="50.33" height="22" fill="#ff0000"/>
<circle cx="217" cy="274.17" r="4.17" fill="#c0c0c0"/>
<circle cx="217" cy="274.17" r="2" fill="#80600a"/>
<circle cx="252.83" cy="274.17" r="4.17" fill="#c0c0c0"/>
<circle cx="252.83" cy="274.17" r="2" fill="#80600a"/>
<circle cx="217" cy="288.33" r="4.17" fill="#c0c0c0"/>
<circle cx="217" cy="288.33" r="2" fill="#80600a"/>
<circle cx="252.83" cy="288.33" r="4.17" fill="#c0c0c0"/>
<circle cx="252.83" cy="288.33" r="2" fill="#80600a"/>
<circle cx="235" cy="266.67" r="9.17" fill="#c0c0c0"/>
<circle cx="235" cy="265.93" r="2.48" fill="#008c8c"/>
<text x="235" y="271.25" font-size="4.67" fill="#f0e088" font-family='"Liberation Sans", sans-serif' text-anchor="middle">+VCC42</text>
<circle cx="235" cy="295.33" r="9.17" fill="#c0c0c0"/>
<circle cx="235" cy="294.6" r="2.48" fill="#008c8c"/>
<text x="235" y="299.92" font-size="4.67" fill="#f0e088" font-family='"Liberation Sans", sans-serif' text-anchor="middle">GND42</text>
<rect x="110" y="263.33" width="50" height="14.17" fill="#ff0000"/>
<rect x="110" y="285" width="50" height="14.17" fill="#ff0000"/>
<circle cx="120.33" cy="270.5" r="4.17" fill="#c0c0c0"/>
<circle cx="120.33" cy="270.5" r="2" fill="#80600a"/>
<circle cx="149.17" cy="270.5" r="4.17" fill="#c0c0c0"/>
<circle cx="149.17" cy="270.5" r="2" fill="#80600a"/>
<circle cx="120.33" cy="292.17" r="4.17" fill="#c0c0c0"/>
<circle cx="120.33" cy="292.17" r="2" fill="#80600a"/>
<circle cx="149.17" cy="292.17" r="4.17" fill="#c0c0c0"/>
<circle cx="149.17" cy="292.17" r="2" fill="#80600a"/>
<rect x="125.42" y="262.42" width="19.17" height="38.33" fill="none" stroke="#ffff00" stroke-width="2.5"/>
<rect x="8" y="317" width="255" height="90.5" fill="#000000"/>
<rect x="10.5" y="320" width="49.67" height="38.67" fill="#ff0000"/>
<rect x="10.5" y="365.83" width="49.67" height="38.33" fill="#ff0000"/>
<circle cx="24.67" cy="330.33" r="4.17" fill="#c0c0c0"/>
<circle cx="24.67" cy="330.33" r="2" fill="#80600a"/>
<circle cx="35.33" cy="326.67" r="4.17" fill="#c0c0c0"/>
<circle cx="35.33" cy="326.67" r="2" fill="#80600a"/>
<circle cx="45.83" cy="330.33" r="4.17" fill="#c0c0c0"/>
<circle cx="45.83" cy="330.33" r="2" fill="#80600a"/>
<circle cx="17.5" cy="340.83" r="4.17" fill="#c0c0c0"/>
<circle cx="17.5" cy="340.83" r="2" fill="#80600a"/>
<circle cx="53" cy="340.83" r="4.17" fill="#c0c0c0"/>
<circle cx="53" cy="340.83" r="2" fill="#80600a"/>
<circle cx="17.5" cy="355" r="4.17" fill="#c0c0c0"/>
<circle cx="17.5" cy="355" r="2" fill="#80600a"/>
<circle cx="53" cy="355" r="4.17" fill="#c0c0c0"/>
<circle cx="53" cy="355" r="2" fill="#80600a"/>
<circle cx="17.5" cy="368.67" r="4.17" fill="#c0c0c0"/>
<circle cx="17.5" cy="368.67" r="2" fill="#80600a"/>
<circle cx="53" cy="368.67" r="4.17" fill="#c0c0c0"/>
<circle cx="53" cy="368.67" r="2" fill="#80600a"/>
<circle cx="17.5" cy="383" r="4.17" fill="#c0c0c0"/>
<circle cx="17.5" cy="383" r="2" fill="#80600a"/>
<circle cx="53" cy="383" r="4.17" fill="#c0c0c0"/>
<circle cx="53" cy="383" r="2" fill="#80600a"/>
<circle cx="24.67" cy="393.33" r="4.17" fill="#c0c0c0"/>
<circle cx="24.67" cy="393.33" r="2" fill="#80600a"/>
<circle cx="35.33" cy="397" r="4.17" fill="#c0c0c0"/>
<circle cx="35.33" cy="397" r="2" fill="#80600a"/>
<circle cx="45.83" cy="393.33" r="4.17" fill="#c0c0c0"/>
<circle cx="45.83" cy="393.33" r="2" fill="#80600a"/>
<circle cx="35.33" cy="347.5" r="9.17" fill="#c0c0c0"/>
<circle cx="35.33" cy="346.77" r="2.48" fill="#008c8c"/>
<text x="35.33" y="352.08" font-size="4.67" fill="#f0e088" font-family='"Liberation Sans", sans-serif' text-anchor="middle">+VCC32</text>
<circle cx="35.33" cy="375.83" r="9.17" fill="#c0c0c0"/>
<circle cx="35.33" cy="375.1" r="2.48" fill="#008c8c"/>
<text x="35.33" y="380.42" font-size="4.67" fill="#f0e088" font-family='"Liberation Sans", sans-serif' text-anchor="middle">GND32</text>
<rect x="208.83" y="320" width="49.67" height="38.67" fill="#ff0000"/>
<rect x="208.83" y="365.83" width="49.67" height="38.33" fill="#ff0000"/>
<circle cx="223.17" cy="330.33" r="4.17" fill="#c0c0c0"/>
<circle cx="223.17" cy="330.33" r="2" fill="#80600a"/>
<circle cx="233.83" cy="326.67" r="4.17" fill="#c0c0c0"/>
<circle cx="233.83" cy="326.67" r="2" fill="#80600a"/>
<circle cx="244.33" cy="330.33" r="4.17" fill="#c0c0c0"/>
<circle cx="244.33" cy="330.33" r="2" fill="#80600a"/>
<circle cx="216" cy="340.83" r="4.17" fill="#c0c0c0"/>
<circle cx="216" cy="340.83" r="2" fill="#80600a"/>
<circle cx="251.5" cy="340.83" r="4.17" fill="#c0c0c0"/>
<circle cx="251.5" cy="340.83" r="2" fill="#80600a"/>
<circle cx="216" cy="355" r="4.17" fill="#c0c0c0"/>
<circle cx="216" cy="355" r="2" fill="#80600a"/>
<circle cx="251.5" cy="355" r="4.17" fill="#c0c0c0"/>
<circle cx="251.5" cy="355" r="2" fill="#80600a"/>
<circle cx="216" cy="368.67" r="4.17" fill="#c0c0c0"/>
<circle cx="216" cy="368.67" r="2" fill="#80600a"/>
<circle cx="251.5" cy="368.67" r="4.17" fill="#c0c0c0"/>
<circle cx="251.5" cy="368.67" r="2" fill="#80600a"/>
<circle cx="216" cy="383" r="4.17" fill="#c0c0c0"/>
<circle cx="216" cy="383" r="2" fill="#80600a"/>
<circle cx="251.5" cy="383" r="4.17" fill="#c0c0c0"/>
<circle cx="251.5" cy="383" r="2" fill="#80600a"/>
<circle cx="223.17" cy="393.33" r="4.17" fill="#c0c0c0"/>
<circle cx="223.17" cy="393.33" r="2" fill="#80600a"/>
<circle cx="233.83" cy="397" r="4.17" fill="#c0c0c0"/>
<circle cx="233.83" cy="397" r="2" fill="#80600a"/>
<circle cx="244.33" cy="393.33" r="4.17" fill="#c0c0c0"/>
<circle cx="244.33" cy="393.33" r="2" fill="#80600a"/>
<circle cx="233.83" cy="347.5" r="9.17" fill="#c0c0c0"/>
<circle cx="233.83" cy="346.77" r="2.48" fill="#008c8c"/>
<text x="233.83" y="352.08" font-size="4.67" fill="#f0e088" font-family='"Liberation Sans", sans-serif' text-anchor="middle">+VCC32</text>
<circle cx="233.83" cy="375.83" r="9.17" fill="#c0c0c0"/>
<circle cx="233.83" cy="375.1" r="2.48" fill="#008c8c"/>
<text x="233.83" y="380.42" font-size="4.67" fill="#f0e088" font-family='"Liberation Sans", sans-serif' text-anchor="middle">GND32</text>
<rect x="110" y="327" width="49.67" height="31.67" fill="#ff0000"/>
<rect x="110" y="365.83" width="49.67" height="31.33" fill="#ff0000"/>
<circle cx="120.33" cy="337.17" r="4.17" fill="#c0c0c0"/>
<circle cx="120.33" cy="337.17" r="2" fill="#80600a"/>
<circle cx="134.67" cy="337.17" r="4.17" fill="#c0c0c0"/>
<circle cx="134.67" cy="337.17" r="2" fill="#80600a"/>
<circle cx="148.83" cy="337.17" r="4.17" fill="#c0c0c0"/>
<circle cx="148.83" cy="337.17" r="2" fill="#80600a"/>
<circle cx="120.33" cy="351.33" r="4.17" fill="#c0c0c0"/>
<circle cx="120.33" cy="351.33" r="2" fill="#80600a"/>
<circle cx="148.83" cy="351.33" r="4.17" fill="#c0c0c0"/>
<circle cx="148.83" cy="351.33" r="2" fill="#80600a"/>
<circle cx="120.33" cy="372.5" r="4.17" fill="#c0c0c0"/>
<circle cx="120.33" cy="372.5" r="2" fill="#80600a"/>
<circle cx="148.83" cy="372.5" r="4.17" fill="#c0c0c0"/>
<circle cx="148.83" cy="372.5" r="2" fill="#80600a"/>
<circle cx="120.33" cy="386.67" r="4.17" fill="#c0c0c0"/>
<circle cx="120.33" cy="386.67" r="2" fill="#80600a"/>
<circle cx="134.67" cy="386.67" r="4.17" fill="#c0c0c0"/>
<circle cx="134.67" cy="386.67" r="2" fill="#80600a"/>
<circle cx="148.83" cy="386.67" r="4.17" fill="#c0c0c0"/>
<circle cx="148.83" cy="386.67" r="2" fill="#80600a"/>
<rect x="125.42" y="343.42" width="19.17" height="37.5" fill="none" stroke="#ffff00" stroke-width="2.5"/>
<rect x="306.17" y="247.83" width="72.67" height="128" fill="#000000"/>
<line x1="325.83" y1="257.17" x2="325.83" y2="291.67" stroke="#ff0000" stroke-width="3.67"/>
<line x1="325.83" y1="331.67" x2="325.83" y2="365.83" stroke="#ff0000" stroke-width="3.67"/>
<rect x="318.83" y="290.5" width="14" height="13.67" fill="#ff0000"/>
<rect x="318.83" y="318.83" width="14" height="14" fill="#ff0000"/>
<line x1="357.83" y1="257.17" x2="357.83" y2="291.67" stroke="#ff0000" stroke-width="3.67"/>
<line x1="357.83" y1="331.67" x2="357.83" y2="365.83" stroke="#ff0000" stroke-width="3.67"/>
<rect x="350.83" y="290.5" width="14" height="13.67" fill="#ff0000"/>
<rect x="350.83" y="318.83" width="14" height="14" fill="#ff0000"/>
<rect x="312" y="283" width="27.5" height="57" fill="none" stroke="#ffff00" stroke-width="5" rx="1"/>
<rect x="344.17" y="283" width="27.83" height="57" fill="none" stroke="#ffff00" stroke-width="5" rx="1"/>
<circle cx="325.83" cy="257.17" r="6.33" fill="#c0c0c0"/>
<circle cx="325.83" cy="257.17" r="2.83" fill="#80600a"/>
<circle cx="357.83" cy="257.17" r="6.33" fill="#c0c0c0"/>
<circle cx="357.83" cy="257.17" r="2.83" fill="#80600a"/>
<circle cx="325.83" cy="365.83" r="6.33" fill="#c0c0c0"/>
<circle cx="325.83" cy="365.83" r="2.83" fill="#80600a"/>
<circle cx="357.83" cy="365.83" r="6.33" fill="#c0c0c0"/>
<circle cx="357.83" cy="365.83" r="2.83" fill="#80600a"/>
<rect x="381.17" y="247.83" width="75.5" height="128.83" fill="#000000"/>
<rect x="406.17" y="274.67" width="24.67" height="30.33" fill="#ff0000"/>
<rect x="406.17" y="318.33" width="24.67" height="30.83" fill="#ff0000"/>
<polygon points="399.5,290 406.17,283.33 430.83,283.33 437.17,290 437.17,298.33 431.67,305.33 405,305.33 399.5,298.33" fill="#ff0000"/>
<polygon points="399.5,333.33 405,318.33 431.67,318.33 437.17,333.33 431.67,340 405,340" fill="#ff0000"/>
<rect x="393.75" y="261.58" width="49.5" height="100.5" fill="none" stroke="#ffff00" stroke-width="9.17" rx="2.33"/>
<circle cx="399.5" cy="292.83" r="10.67" fill="#c0c0c0"/>
<circle cx="399.5" cy="292.83" r="4.67" fill="#80600a"/>
<circle cx="437.17" cy="292.83" r="10.67" fill="#c0c0c0"/>
<circle cx="437.17" cy="292.83" r="4.67" fill="#80600a"/>
<circle cx="399.5" cy="330.83" r="10.67" fill="#c0c0c0"/>
<circle cx="399.5" cy="330.83" r="4.67" fill="#80600a"/>
<circle cx="437.17" cy="330.83" r="10.67" fill="#c0c0c0"/>
<circle cx="437.17" cy="330.83" r="4.67" fill="#80600a"/>
<rect x="461.17" y="247.83" width="106.83" height="130.83" fill="#000000"/>
<rect x="483.33" y="280" width="56.17" height="23" fill="#ff0000"/>
<circle cx="539.5" cy="291.5" r="11.5" fill="#ff0000"/>
<rect x="483.33" y="326.67" width="56.17" height="23.33" fill="#ff0000"/>
<circle cx="539.5" cy="338.33" r="11.67" fill="#ff0000"/>
<rect x="471.75" y="268.42" width="46.17" height="92.33" fill="none" stroke="#ffff00" stroke-width="9.17" rx="2.33"/>
<circle cx="539.5" cy="279.17" r="20.33" fill="#c0c0c0"/>
<circle cx="538.67" cy="278.67" r="9.17" fill="#80600a"/>
<text x="539.5" y="278.33" font-size="8.67" fill="#f0d878" font-family='"Liberation Sans", sans-serif' text-anchor="middle">1-4</text>
<text x="539.5" y="287.83" font-size="8.67" fill="#f0d878" font-family='"Liberation Sans", sans-serif' text-anchor="middle">+VCC41</text>
<circle cx="539.5" cy="350.5" r="20.33" fill="#c0c0c0"/>
<circle cx="538.67" cy="350" r="9.17" fill="#80600a"/>
<text x="539.5" y="349.67" font-size="8.67" fill="#f0d878" font-family='"Liberation Sans", sans-serif' text-anchor="middle">1-4</text>
<text x="539.5" y="359.17" font-size="8.67" fill="#f0d878" font-family='"Liberation Sans", sans-serif' text-anchor="middle">GND41</text>
<rect x="572" y="247.83" width="98.83" height="130.5" fill="#000000"/>
<rect x="598" y="275.83" width="54" height="24.67" fill="#ff0000"/>
<circle cx="652" cy="288.33" r="12.5" fill="#ff0000"/>
<rect x="598" y="325.33" width="54" height="24.67" fill="#ff0000"/>
<circle cx="652" cy="337.83" r="12.5" fill="#ff0000"/>
<rect x="585.42" y="263.25" width="50" height="99.67" fill="none" stroke="#ffff00" stroke-width="9.17" rx="2.33"/>
<circle cx="652" cy="288.33" r="10.83" fill="#c0c0c0"/>
<circle cx="652" cy="288.33" r="4.67" fill="#80600a"/>
<circle cx="652" cy="337.83" r="10.83" fill="#c0c0c0"/>
<circle cx="652" cy="337.83" r="4.67" fill="#80600a"/>
<rect x="676.17" y="249.17" width="95.83" height="129.5" fill="#000000"/>
<rect x="703.67" y="278" width="23.83" height="24" fill="#ff0000"/>
<rect x="703.67" y="326.67" width="23.83" height="24.67" fill="#ff0000"/>
<polygon points="727.5,281.67 749.17,281.67 761.67,294.17 761.67,306.67 745,306.67 745,298.33 727.5,298.33" fill="#ff0000"/>
<polygon points="727.5,330.83 745,330.83 745,322.5 761.67,322.5 761.67,335 749.17,346.67 727.5,346.67" fill="#ff0000"/>
<rect x="690.92" y="265.42" width="49.5" height="98.67" fill="none" stroke="#ffff00" stroke-width="9.17" rx="2.33"/>
<circle cx="753.33" cy="300.83" r="8.33" fill="#c0c0c0"/>
<circle cx="753.33" cy="300.83" r="4" fill="#80600a"/>
<circle cx="753.33" cy="328.33" r="8.33" fill="#c0c0c0"/>
<circle cx="753.33" cy="328.33" r="4" fill="#80600a"/>
<rect x="79" y="450" width="223.67" height="189.33" fill="#000000"/>
<line x1="120" y1="456.67" x2="120" y2="479" stroke="#ff0000" stroke-width="1.67"/>
<line x1="120" y1="505" x2="120" y2="526.67" stroke="#ff0000" stroke-width="1.67"/>
<rect x="115.33" y="477.33" width="9.33" height="11" fill="#ff0000"/>
<rect x="115.33" y="495.67" width="9.33" height="11" fill="#ff0000"/>
<rect x="110.33" y="473" width="19.33" height="37.33" fill="none" stroke="#ffff00" stroke-width="2.67"/>
<circle cx="120" cy="456.67" r="4.33" fill="#c0c0c0"/>
<circle cx="120" cy="456.67" r="2" fill="#80600a"/>
<circle cx="120" cy="526.67" r="4.33" fill="#c0c0c0"/>
<circle cx="120" cy="526.67" r="2" fill="#80600a"/>
<line x1="120" y1="562.33" x2="120" y2="585" stroke="#ff0000" stroke-width="1.67"/>
<line x1="120" y1="611" x2="120" y2="632.67" stroke="#ff0000" stroke-width="1.67"/>
<rect x="115.33" y="583.33" width="9.33" height="11" fill="#ff0000"/>
<rect x="115.33" y="601.67" width="9.33" height="11" fill="#ff0000"/>
<rect x="110.33" y="578.67" width="19.33" height="37.33" fill="none" stroke="#ffff00" stroke-width="2.67"/>
<circle cx="120" cy="562.33" r="4.33" fill="#c0c0c0"/>
<circle cx="120" cy="562.33" r="2" fill="#80600a"/>
<circle cx="120" cy="632.67" r="4.33" fill="#c0c0c0"/>
<circle cx="120" cy="632.67" r="2" fill="#80600a"/>
<line x1="155.17" y1="456.67" x2="155.17" y2="479" stroke="#ff0000" stroke-width="1.67"/>
<line x1="155.17" y1="505" x2="155.17" y2="526.67" stroke="#ff0000" stroke-width="1.67"/>
<rect x="150.5" y="477.33" width="9.33" height="11" fill="#ff0000"/>
<rect x="150.5" y="495.67" width="9.33" height="11" fill="#ff0000"/>
<rect x="145.5" y="473" width="19.33" height="37.33" fill="none" stroke="#ffff00" stroke-width="2.67"/>
<circle cx="155.17" cy="456.67" r="4.33" fill="#c0c0c0"/>
<circle cx="155.17" cy="456.67" r="2" fill="#80600a"/>
<circle cx="155.17" cy="526.67" r="4.33" fill="#c0c0c0"/>
<circle cx="155.17" cy="526.67" r="2" fill="#80600a"/>
<line x1="155.17" y1="562.33" x2="155.17" y2="585" stroke="#ff0000" stroke-width="1.67"/>
<line x1="155.17" y1="611" x2="155.17" y2="632.67" stroke="#ff0000" stroke-width="1.67"/>
<rect x="150.5" y="583.33" width="9.33" height="11" fill="#ff0000"/>
<rect x="150.5" y="601.67" width="9.33" height="11" fill="#ff0000"/>
<rect x="145.5" y="578.67" width="19.33" height="37.33" fill="none" stroke="#ffff00" stroke-width="2.67"/>
<circle cx="155.17" cy="562.33" r="4.33" fill="#c0c0c0"/>
<circle cx="155.17" cy="562.33" r="2" fill="#80600a"/>
<circle cx="155.17" cy="632.67" r="4.33" fill="#c0c0c0"/>
<circle cx="155.17" cy="632.67" r="2" fill="#80600a"/>
<line x1="190.33" y1="456.67" x2="190.33" y2="479" stroke="#ff0000" stroke-width="1.67"/>
<line x1="190.33" y1="505" x2="190.33" y2="526.67" stroke="#ff0000" stroke-width="1.67"/>
<rect x="185.67" y="477.33" width="9.33" height="11" fill="#ff0000"/>
<rect x="185.67" y="495.67" width="9.33" height="11" fill="#ff0000"/>
<rect x="180.67" y="473" width="19.33" height="37.33" fill="none" stroke="#ffff00" stroke-width="2.67"/>
<circle cx="190.33" cy="456.67" r="4.33" fill="#c0c0c0"/>
<circle cx="190.33" cy="456.67" r="2" fill="#80600a"/>
<circle cx="190.33" cy="526.67" r="4.33" fill="#c0c0c0"/>
<circle cx="190.33" cy="526.67" r="2" fill="#80600a"/>
<line x1="190.33" y1="562.33" x2="190.33" y2="585" stroke="#ff0000" stroke-width="1.67"/>
<line x1="190.33" y1="611" x2="190.33" y2="632.67" stroke="#ff0000" stroke-width="1.67"/>
<rect x="185.67" y="583.33" width="9.33" height="11" fill="#ff0000"/>
<rect x="185.67" y="601.67" width="9.33" height="11" fill="#ff0000"/>
<rect x="180.67" y="578.67" width="19.33" height="37.33" fill="none" stroke="#ffff00" stroke-width="2.67"/>
<circle cx="190.33" cy="562.33" r="4.33" fill="#c0c0c0"/>
<circle cx="190.33" cy="562.33" r="2" fill="#80600a"/>
<circle cx="190.33" cy="632.67" r="4.33" fill="#c0c0c0"/>
<circle cx="190.33" cy="632.67" r="2" fill="#80600a"/>
<line x1="225.67" y1="456.67" x2="225.67" y2="479" stroke="#ff0000" stroke-width="1.67"/>
<line x1="225.67" y1="505" x2="225.67" y2="526.67" stroke="#ff0000" stroke-width="1.67"/>
<rect x="221" y="477.33" width="9.33" height="11" fill="#ff0000"/>
<rect x="221" y="495.67" width="9.33" height="11" fill="#ff0000"/>
<rect x="216" y="473" width="19.33" height="37.33" fill="none" stroke="#ffff00" stroke-width="2.67"/>
<circle cx="225.67" cy="456.67" r="4.33" fill="#c0c0c0"/>
<circle cx="225.67" cy="456.67" r="2" fill="#80600a"/>
<circle cx="225.67" cy="526.67" r="4.33" fill="#c0c0c0"/>
<circle cx="225.67" cy="526.67" r="2" fill="#80600a"/>
<line x1="225.67" y1="562.33" x2="225.67" y2="585" stroke="#ff0000" stroke-width="1.67"/>
<line x1="225.67" y1="611" x2="225.67" y2="632.67" stroke="#ff0000" stroke-width="1.67"/>
<rect x="221" y="583.33" width="9.33" height="11" fill="#ff0000"/>
<rect x="221" y="601.67" width="9.33" height="11" fill="#ff0000"/>
<rect x="216" y="578.67" width="19.33" height="37.33" fill="none" stroke="#ffff00" stroke-width="2.67"/>
<circle cx="225.67" cy="562.33" r="4.33" fill="#c0c0c0"/>
<circle cx="225.67" cy="562.33" r="2" fill="#80600a"/>
<circle cx="225.67" cy="632.67" r="4.33" fill="#c0c0c0"/>
<circle cx="225.67" cy="632.67" r="2" fill="#80600a"/>
<line x1="261" y1="456.67" x2="261" y2="479" stroke="#ff0000" stroke-width="1.67"/>
<line x1="261" y1="505" x2="261" y2="526.67" stroke="#ff0000" stroke-width="1.67"/>
<rect x="256.33" y="477.33" width="9.33" height="11" fill="#ff0000"/>
<rect x="256.33" y="495.67" width="9.33" height="11" fill="#ff0000"/>
<rect x="251.33" y="473" width="19.33" height="37.33" fill="none" stroke="#ffff00" stroke-width="2.67"/>
<circle cx="261" cy="456.67" r="4.33" fill="#c0c0c0"/>
<circle cx="261" cy="456.67" r="2" fill="#80600a"/>
<circle cx="261" cy="526.67" r="4.33" fill="#c0c0c0"/>
<circle cx="261" cy="526.67" r="2" fill="#80600a"/>
<line x1="261" y1="562.33" x2="261" y2="585" stroke="#ff0000" stroke-width="1.67"/>
<line x1="261" y1="611" x2="261" y2="632.67" stroke="#ff0000" stroke-width="1.67"/>
<rect x="256.33" y="583.33" width="9.33" height="11" fill="#ff0000"/>
<rect x="256.33" y="601.67" width="9.33" height="11" fill="#ff0000"/>
<rect x="251.33" y="578.67" width="19.33" height="37.33" fill="none" stroke="#ffff00" stroke-width="2.67"/>
<circle cx="261" cy="562.33" r="4.33" fill="#c0c0c0"/>
<circle cx="261" cy="562.33" r="2" fill="#80600a"/>
<circle cx="261" cy="632.67" r="4.33" fill="#c0c0c0"/>
<circle cx="261" cy="632.67" r="2" fill="#80600a"/>
<circle cx="91.67" cy="531" r="9.33" fill="#c0c0c0"/>
<circle cx="91.67" cy="530.25" r="2.52" fill="#008c8c"/>
<text x="91.67" y="535.67" font-size="4.67" fill="#f0e088" font-family='"Liberation Sans", sans-serif' text-anchor="middle">+VCC12</text>
<circle cx="91.67" cy="559.33" r="9.33" fill="#c0c0c0"/>
<circle cx="91.67" cy="558.59" r="2.52" fill="#008c8c"/>
<text x="91.67" y="564" font-size="4.67" fill="#f0e088" font-family='"Liberation Sans", sans-serif' text-anchor="middle">GND12</text>
<circle cx="289.33" cy="531" r="9.33" fill="#c0c0c0"/>
<circle cx="289.33" cy="530.25" r="2.52" fill="#008c8c"/>
<text x="289.33" y="535.67" font-size="4.67" fill="#f0e088" font-family='"Liberation Sans", sans-serif' text-anchor="middle">+VCC12</text>
<circle cx="289.33" cy="559.33" r="9.33" fill="#c0c0c0"/>
<circle cx="289.33" cy="558.59" r="2.52" fill="#008c8c"/>
<text x="289.33" y="564" font-size="4.67" fill="#f0e088" font-family='"Liberation Sans", sans-serif' text-anchor="middle">GND12</text>
<rect x="321" y="571.67" width="309" height="215" fill="#000000"/>
<rect x="371" y="587.33" width="12.33" height="12" fill="#ff0000"/>
<rect x="371" y="612.67" width="12.33" height="12.33" fill="#ff0000"/>
<rect x="364.33" y="580.33" width="26" height="51.67" fill="none" stroke="#ffff00" stroke-width="4"/>
<circle cx="386.67" cy="600.67" r="5.67" fill="#c0c0c0"/>
<circle cx="386.67" cy="600.67" r="2.67" fill="#80600a"/>
<circle cx="367.33" cy="610.67" r="5.67" fill="#c0c0c0"/>
<circle cx="367.33" cy="610.67" r="2.67" fill="#80600a"/>
<rect x="371" y="734" width="12.33" height="12" fill="#ff0000"/>
<rect x="371" y="759.33" width="12.33" height="12.33" fill="#ff0000"/>
<rect x="364.33" y="727" width="26" height="51.67" fill="none" stroke="#ffff00" stroke-width="4"/>
<circle cx="386.67" cy="747.33" r="5.67" fill="#c0c0c0"/>
<circle cx="386.67" cy="747.33" r="2.67" fill="#80600a"/>
<circle cx="367.33" cy="757.33" r="5.67" fill="#c0c0c0"/>
<circle cx="367.33" cy="757.33" r="2.67" fill="#80600a"/>
<rect x="419.87" y="587.33" width="12.33" height="12" fill="#ff0000"/>
<rect x="419.87" y="612.67" width="12.33" height="12.33" fill="#ff0000"/>
<rect x="413.2" y="580.33" width="26" height="51.67" fill="none" stroke="#ffff00" stroke-width="4"/>
<circle cx="435.53" cy="600.67" r="5.67" fill="#c0c0c0"/>
<circle cx="435.53" cy="600.67" r="2.67" fill="#80600a"/>
<circle cx="416.2" cy="610.67" r="5.67" fill="#c0c0c0"/>
<circle cx="416.2" cy="610.67" r="2.67" fill="#80600a"/>
<rect x="419.87" y="734" width="12.33" height="12" fill="#ff0000"/>
<rect x="419.87" y="759.33" width="12.33" height="12.33" fill="#ff0000"/>
<rect x="413.2" y="727" width="26" height="51.67" fill="none" stroke="#ffff00" stroke-width="4"/>
<circle cx="435.53" cy="747.33" r="5.67" fill="#c0c0c0"/>
<circle cx="435.53" cy="747.33" r="2.67" fill="#80600a"/>
<circle cx="416.2" cy="757.33" r="5.67" fill="#c0c0c0"/>
<circle cx="416.2" cy="757.33" r="2.67" fill="#80600a"/>
<rect x="468.73" y="587.33" width="12.33" height="12" fill="#ff0000"/>
<rect x="468.73" y="612.67" width="12.33" height="12.33" fill="#ff0000"/>
<rect x="462.07" y="580.33" width="26" height="51.67" fill="none" stroke="#ffff00" stroke-width="4"/>
<circle cx="484.4" cy="600.67" r="5.67" fill="#c0c0c0"/>
<circle cx="484.4" cy="600.67" r="2.67" fill="#80600a"/>
<circle cx="465.07" cy="610.67" r="5.67" fill="#c0c0c0"/>
<circle cx="465.07" cy="610.67" r="2.67" fill="#80600a"/>
<rect x="468.73" y="734" width="12.33" height="12" fill="#ff0000"/>
<rect x="468.73" y="759.33" width="12.33" height="12.33" fill="#ff0000"/>
<rect x="462.07" y="727" width="26" height="51.67" fill="none" stroke="#ffff00" stroke-width="4"/>
<circle cx="484.4" cy="747.33" r="5.67" fill="#c0c0c0"/>
<circle cx="484.4" cy="747.33" r="2.67" fill="#80600a"/>
<circle cx="465.07" cy="757.33" r="5.67" fill="#c0c0c0"/>
<circle cx="465.07" cy="757.33" r="2.67" fill="#80600a"/>
<rect x="517.6" y="587.33" width="12.33" height="12" fill="#ff0000"/>
<rect x="517.6" y="612.67" width="12.33" height="12.33" fill="#ff0000"/>
<rect x="510.93" y="580.33" width="26" height="51.67" fill="none" stroke="#ffff00" stroke-width="4"/>
<circle cx="533.27" cy="600.67" r="5.67" fill="#c0c0c0"/>
<circle cx="533.27" cy="600.67" r="2.67" fill="#80600a"/>
<circle cx="513.93" cy="610.67" r="5.67" fill="#c0c0c0"/>
<circle cx="513.93" cy="610.67" r="2.67" fill="#80600a"/>
<rect x="517.6" y="734" width="12.33" height="12" fill="#ff0000"/>
<rect x="517.6" y="759.33" width="12.33" height="12.33" fill="#ff0000"/>
<rect x="510.93" y="727" width="26" height="51.67" fill="none" stroke="#ffff00" stroke-width="4"/>
<circle cx="533.27" cy="747.33" r="5.67" fill="#c0c0c0"/>
<circle cx="533.27" cy="747.33" r="2.67" fill="#80600a"/>
<circle cx="513.93" cy="757.33" r="5.67" fill="#c0c0c0"/>
<circle cx="513.93" cy="757.33" r="2.67" fill="#80600a"/>
<rect x="566.47" y="587.33" width="12.33" height="12" fill="#ff0000"/>
<rect x="566.47" y="612.67" width="12.33" height="12.33" fill="#ff0000"/>
<rect x="559.8" y="580.33" width="26" height="51.67" fill="none" stroke="#ffff00" stroke-width="4"/>
<circle cx="582.13" cy="600.67" r="5.67" fill="#c0c0c0"/>
<circle cx="582.13" cy="600.67" r="2.67" fill="#80600a"/>
<circle cx="562.8" cy="610.67" r="5.67" fill="#c0c0c0"/>
<circle cx="562.8" cy="610.67" r="2.67" fill="#80600a"/>
<rect x="566.47" y="734" width="12.33" height="12" fill="#ff0000"/>
<rect x="566.47" y="759.33" width="12.33" height="12.33" fill="#ff0000"/>
<rect x="559.8" y="727" width="26" height="51.67" fill="none" stroke="#ffff00" stroke-width="4"/>
<circle cx="582.13" cy="747.33" r="5.67" fill="#c0c0c0"/>
<circle cx="582.13" cy="747.33" r="2.67" fill="#80600a"/>
<circle cx="562.8" cy="757.33" r="5.67" fill="#c0c0c0"/>
<circle cx="562.8" cy="757.33" r="2.67" fill="#80600a"/>
<circle cx="337.67" cy="660" r="12.67" fill="#c0c0c0"/>
<circle cx="337.67" cy="658.99" r="3.42" fill="#008c8c"/>
<text x="337.67" y="659.75" font-size="6" fill="#f0e088" font-family='"Liberation Sans", sans-serif' text-anchor="middle">1</text>
<text x="337.67" y="666.33" font-size="6" fill="#f0e088" font-family='"Liberation Sans", sans-serif' text-anchor="middle">+VCC13</text>
<circle cx="337.67" cy="699" r="12.67" fill="#c0c0c0"/>
<circle cx="337.67" cy="697.99" r="3.42" fill="#008c8c"/>
<text x="337.67" y="698.75" font-size="6" fill="#f0e088" font-family='"Liberation Sans", sans-serif' text-anchor="middle">2</text>
<text x="337.67" y="705.33" font-size="6" fill="#f0e088" font-family='"Liberation Sans", sans-serif' text-anchor="middle">GND13</text>
<circle cx="611.67" cy="660" r="12.67" fill="#c0c0c0"/>
<circle cx="611.67" cy="658.99" r="3.42" fill="#008c8c"/>
<text x="611.67" y="659.75" font-size="6" fill="#f0e088" font-family='"Liberation Sans", sans-serif' text-anchor="middle">1</text>
<text x="611.67" y="666.33" font-size="6" fill="#f0e088" font-family='"Liberation Sans", sans-serif' text-anchor="middle">+VCC13</text>
<circle cx="611.67" cy="699" r="12.67" fill="#c0c0c0"/>
<circle cx="611.67" cy="697.99" r="3.42" fill="#008c8c"/>
<text x="611.67" y="698.75" font-size="6" fill="#f0e088" font-family='"Liberation Sans", sans-serif' text-anchor="middle">2</text>
<text x="611.67" y="705.33" font-size="6" fill="#f0e088" font-family='"Liberation Sans", sans-serif' text-anchor="middle">GND13</text>
<rect x="80" y="718.33" width="220" height="134.33" fill="#000000"/>
<rect x="121.67" y="726.67" width="136.67" height="12.33" fill="#ff0000"/>
<rect x="121.67" y="745" width="136.67" height="12" fill="#ff0000"/>
<rect x="121.83" y="726.17" width="16" height="31" fill="none" stroke="#ffff00" stroke-width="2.33"/>
<rect x="151.83" y="726.17" width="16" height="31" fill="none" stroke="#ffff00" stroke-width="2.33"/>
<rect x="181.83" y="726.17" width="16" height="31" fill="none" stroke="#ffff00" stroke-width="2.33"/>
<rect x="211.83" y="726.17" width="16" height="31" fill="none" stroke="#ffff00" stroke-width="2.33"/>
<rect x="241.83" y="726.17" width="16" height="31" fill="none" stroke="#ffff00" stroke-width="2.33"/>
<circle cx="145" cy="732.67" r="3.67" fill="#c0c0c0"/>
<circle cx="145" cy="732.67" r="1.67" fill="#80600a"/>
<circle cx="145" cy="750.67" r="3.67" fill="#c0c0c0"/>
<circle cx="145" cy="750.67" r="1.67" fill="#80600a"/>
<circle cx="234.33" cy="732.67" r="3.67" fill="#c0c0c0"/>
<circle cx="234.33" cy="732.67" r="1.67" fill="#80600a"/>
<circle cx="234.33" cy="750.67" r="3.67" fill="#c0c0c0"/>
<circle cx="234.33" cy="750.67" r="1.67" fill="#80600a"/>
<rect x="121.67" y="816.67" width="136.67" height="12.33" fill="#ff0000"/>
<rect x="121.67" y="835" width="136.67" height="12" fill="#ff0000"/>
<rect x="121.83" y="816.17" width="16" height="31" fill="none" stroke="#ffff00" stroke-width="2.33"/>
<rect x="151.83" y="816.17" width="16" height="31" fill="none" stroke="#ffff00" stroke-width="2.33"/>
<rect x="181.83" y="816.17" width="16" height="31" fill="none" stroke="#ffff00" stroke-width="2.33"/>
<rect x="211.83" y="816.17" width="16" height="31" fill="none" stroke="#ffff00" stroke-width="2.33"/>
<rect x="241.83" y="816.17" width="16" height="31" fill="none" stroke="#ffff00" stroke-width="2.33"/>
<circle cx="145" cy="822.67" r="3.67" fill="#c0c0c0"/>
<circle cx="145" cy="822.67" r="1.67" fill="#80600a"/>
<circle cx="145" cy="840.67" r="3.67" fill="#c0c0c0"/>
<circle cx="145" cy="840.67" r="1.67" fill="#80600a"/>
<circle cx="234.33" cy="822.67" r="3.67" fill="#c0c0c0"/>
<circle cx="234.33" cy="822.67" r="1.67" fill="#80600a"/>
<circle cx="234.33" cy="840.67" r="3.67" fill="#c0c0c0"/>
<circle cx="234.33" cy="840.67" r="1.67" fill="#80600a"/>
<rect x="85" y="766" width="41.67" height="18.33" fill="#ff0000"/>
<rect x="85" y="789.33" width="41.67" height="18.33" fill="#ff0000"/>
<circle cx="90.67" cy="780.67" r="3.33" fill="#c0c0c0"/>
<circle cx="90.67" cy="780.67" r="1.67" fill="#80600a"/>
<circle cx="120.67" cy="780.67" r="3.33" fill="#c0c0c0"/>
<circle cx="120.67" cy="780.67" r="1.67" fill="#80600a"/>
<circle cx="90.67" cy="792.67" r="3.33" fill="#c0c0c0"/>
<circle cx="90.67" cy="792.67" r="1.67" fill="#80600a"/>
<circle cx="120.67" cy="792.67" r="3.33" fill="#c0c0c0"/>
<circle cx="120.67" cy="792.67" r="1.67" fill="#80600a"/>
<circle cx="106" cy="774.33" r="7.33" fill="#c0c0c0"/>
<circle cx="106" cy="773.75" r="1.98" fill="#008c8c"/>
<text x="106" y="778" font-size="3.33" fill="#f0e088" font-family='"Liberation Sans", sans-serif' text-anchor="middle">+VCC33</text>
<circle cx="106" cy="799" r="7.33" fill="#c0c0c0"/>
<circle cx="106" cy="798.41" r="1.98" fill="#008c8c"/>
<text x="106" y="802.67" font-size="3.33" fill="#f0e088" font-family='"Liberation Sans", sans-serif' text-anchor="middle">GND33</text>
<rect x="252.67" y="766" width="41.67" height="18.33" fill="#ff0000"/>
<rect x="252.67" y="789.33" width="41.67" height="18.33" fill="#ff0000"/>
<circle cx="258.33" cy="780.67" r="3.33" fill="#c0c0c0"/>
<circle cx="258.33" cy="780.67" r="1.67" fill="#80600a"/>
<circle cx="288.33" cy="780.67" r="3.33" fill="#c0c0c0"/>
<circle cx="288.33" cy="780.67" r="1.67" fill="#80600a"/>
<circle cx="258.33" cy="792.67" r="3.33" fill="#c0c0c0"/>
<circle cx="258.33" cy="792.67" r="1.67" fill="#80600a"/>
<circle cx="288.33" cy="792.67" r="3.33" fill="#c0c0c0"/>
<circle cx="288.33" cy="792.67" r="1.67" fill="#80600a"/>
<circle cx="273.67" cy="774.33" r="7.33" fill="#c0c0c0"/>
<circle cx="273.67" cy="773.75" r="1.98" fill="#008c8c"/>
<text x="273.67" y="778" font-size="3.33" fill="#f0e088" font-family='"Liberation Sans", sans-serif' text-anchor="middle">+VCC33</text>
<circle cx="273.67" cy="799" r="7.33" fill="#c0c0c0"/>
<circle cx="273.67" cy="798.41" r="1.98" fill="#008c8c"/>
<text x="273.67" y="802.67" font-size="3.33" fill="#f0e088" font-family='"Liberation Sans", sans-serif' text-anchor="middle">GND33</text>
<rect x="75" y="864.17" width="360" height="132.71" fill="#000000"/>
<rect x="78.75" y="868.75" width="70.42" height="55.21" fill="#ff0000"/>
<rect x="78.75" y="933.96" width="70.42" height="55.21" fill="#ff0000"/>
<circle cx="98.96" cy="883.96" r="5.83" fill="#c0c0c0"/>
<circle cx="98.96" cy="883.96" r="2.71" fill="#80600a"/>
<circle cx="114.17" cy="879.17" r="5.83" fill="#c0c0c0"/>
<circle cx="114.17" cy="879.17" r="2.71" fill="#80600a"/>
<circle cx="129.17" cy="883.96" r="5.83" fill="#c0c0c0"/>
<circle cx="129.17" cy="883.96" r="2.71" fill="#80600a"/>
<circle cx="89.17" cy="899.38" r="5.83" fill="#c0c0c0"/>
<circle cx="89.17" cy="899.38" r="2.71" fill="#80600a"/>
<circle cx="139.17" cy="899.38" r="5.83" fill="#c0c0c0"/>
<circle cx="139.17" cy="899.38" r="2.71" fill="#80600a"/>
<circle cx="89.17" cy="918.75" r="5.83" fill="#c0c0c0"/>
<circle cx="89.17" cy="918.75" r="2.71" fill="#80600a"/>
<circle cx="139.17" cy="918.75" r="5.83" fill="#c0c0c0"/>
<circle cx="139.17" cy="918.75" r="2.71" fill="#80600a"/>
<circle cx="89.17" cy="939.17" r="5.83" fill="#c0c0c0"/>
<circle cx="89.17" cy="939.17" r="2.71" fill="#80600a"/>
<circle cx="139.17" cy="939.17" r="5.83" fill="#c0c0c0"/>
<circle cx="139.17" cy="939.17" r="2.71" fill="#80600a"/>
<circle cx="89.17" cy="958.75" r="5.83" fill="#c0c0c0"/>
<circle cx="89.17" cy="958.75" r="2.71" fill="#80600a"/>
<circle cx="139.17" cy="958.75" r="5.83" fill="#c0c0c0"/>
<circle cx="139.17" cy="958.75" r="2.71" fill="#80600a"/>
<circle cx="98.96" cy="974.38" r="5.83" fill="#c0c0c0"/>
<circle cx="98.96" cy="974.38" r="2.71" fill="#80600a"/>
<circle cx="114.17" cy="979.17" r="5.83" fill="#c0c0c0"/>
<circle cx="114.17" cy="979.17" r="2.71" fill="#80600a"/>
<circle cx="129.17" cy="974.38" r="5.83" fill="#c0c0c0"/>
<circle cx="129.17" cy="974.38" r="2.71" fill="#80600a"/>
<circle cx="114.17" cy="908.96" r="12.92" fill="#c0c0c0"/>
<circle cx="114.17" cy="907.92" r="3.49" fill="#008c8c"/>
<text x="114.17" y="908.7" font-size="6.25" fill="#f0e088" font-family='"Liberation Sans", sans-serif' text-anchor="middle">1</text>
<text x="114.17" y="915.42" font-size="6.25" fill="#f0e088" font-family='"Liberation Sans", sans-serif' text-anchor="middle">+VCC53</text>
<circle cx="114.17" cy="948.96" r="12.92" fill="#c0c0c0"/>
<circle cx="114.17" cy="947.92" r="3.49" fill="#008c8c"/>
<text x="114.17" y="948.7" font-size="6.25" fill="#f0e088" font-family='"Liberation Sans", sans-serif' text-anchor="middle">2</text>
<text x="114.17" y="955.42" font-size="6.25" fill="#f0e088" font-family='"Liberation Sans", sans-serif' text-anchor="middle">GND53</text>
<rect x="359.38" y="868.75" width="70.42" height="55.21" fill="#ff0000"/>
<rect x="359.38" y="933.96" width="70.42" height="55.21" fill="#ff0000"/>
<circle cx="379.17" cy="883.96" r="5.83" fill="#c0c0c0"/>
<circle cx="379.17" cy="883.96" r="2.71" fill="#80600a"/>
<circle cx="394.38" cy="879.17" r="5.83" fill="#c0c0c0"/>
<circle cx="394.38" cy="879.17" r="2.71" fill="#80600a"/>
<circle cx="409.38" cy="883.96" r="5.83" fill="#c0c0c0"/>
<circle cx="409.38" cy="883.96" r="2.71" fill="#80600a"/>
<circle cx="369.38" cy="899.38" r="5.83" fill="#c0c0c0"/>
<circle cx="369.38" cy="899.38" r="2.71" fill="#80600a"/>
<circle cx="419.38" cy="899.38" r="5.83" fill="#c0c0c0"/>
<circle cx="419.38" cy="899.38" r="2.71" fill="#80600a"/>
<circle cx="369.38" cy="918.75" r="5.83" fill="#c0c0c0"/>
<circle cx="369.38" cy="918.75" r="2.71" fill="#80600a"/>
<circle cx="419.38" cy="918.75" r="5.83" fill="#c0c0c0"/>
<circle cx="419.38" cy="918.75" r="2.71" fill="#80600a"/>
<circle cx="369.38" cy="939.17" r="5.83" fill="#c0c0c0"/>
<circle cx="369.38" cy="939.17" r="2.71" fill="#80600a"/>
<circle cx="419.38" cy="939.17" r="5.83" fill="#c0c0c0"/>
<circle cx="419.38" cy="939.17" r="2.71" fill="#80600a"/>
<circle cx="369.38" cy="958.75" r="5.83" fill="#c0c0c0"/>
<circle cx="369.38" cy="958.75" r="2.71" fill="#80600a"/>
<circle cx="419.38" cy="958.75" r="5.83" fill="#c0c0c0"/>
<circle cx="419.38" cy="958.75" r="2.71" fill="#80600a"/>
<circle cx="379.17" cy="974.38" r="5.83" fill="#c0c0c0"/>
<circle cx="379.17" cy="974.38" r="2.71" fill="#80600a"/>
<circle cx="394.38" cy="979.17" r="5.83" fill="#c0c0c0"/>
<circle cx="394.38" cy="979.17" r="2.71" fill="#80600a"/>
<circle cx="409.38" cy="974.38" r="5.83" fill="#c0c0c0"/>
<circle cx="409.38" cy="974.38" r="2.71" fill="#80600a"/>
<circle cx="394.38" cy="908.96" r="12.92" fill="#c0c0c0"/>
<circle cx="394.38" cy="907.92" r="3.49" fill="#008c8c"/>
<text x="394.38" y="908.7" font-size="6.25" fill="#f0e088" font-family='"Liberation Sans", sans-serif' text-anchor="middle">1</text>
<text x="394.38" y="915.42" font-size="6.25" fill="#f0e088" font-family='"Liberation Sans", sans-serif' text-anchor="middle">+VCC53</text>
<circle cx="394.38" cy="948.96" r="12.92" fill="#c0c0c0"/>
<circle cx="394.38" cy="947.92" r="3.49" fill="#008c8c"/>
<text x="394.38" y="948.7" font-size="6.25" fill="#f0e088" font-family='"Liberation Sans", sans-serif' text-anchor="middle">2</text>
<text x="394.38" y="955.42" font-size="6.25" fill="#f0e088" font-family='"Liberation Sans", sans-serif' text-anchor="middle">GND53</text>
<rect x="154.17" y="879.17" width="200" height="44.79" fill="#ff0000"/>
<rect x="154.17" y="933.96" width="200" height="45.21" fill="#ff0000"/>
<circle cx="160.83" cy="888.96" r="5.83" fill="#c0c0c0"/>
<circle cx="160.83" cy="888.96" r="2.71" fill="#80600a"/>
<circle cx="187.5" cy="888.96" r="5.83" fill="#c0c0c0"/>
<circle cx="187.5" cy="888.96" r="2.71" fill="#80600a"/>
<circle cx="214.17" cy="888.96" r="5.83" fill="#c0c0c0"/>
<circle cx="214.17" cy="888.96" r="2.71" fill="#80600a"/>
<circle cx="240.83" cy="888.96" r="5.83" fill="#c0c0c0"/>
<circle cx="240.83" cy="888.96" r="2.71" fill="#80600a"/>
<circle cx="267.5" cy="888.96" r="5.83" fill="#c0c0c0"/>
<circle cx="267.5" cy="888.96" r="2.71" fill="#80600a"/>
<circle cx="294.17" cy="888.96" r="5.83" fill="#c0c0c0"/>
<circle cx="294.17" cy="888.96" r="2.71" fill="#80600a"/>
<circle cx="320.83" cy="888.96" r="5.83" fill="#c0c0c0"/>
<circle cx="320.83" cy="888.96" r="2.71" fill="#80600a"/>
<circle cx="347.5" cy="888.96" r="5.83" fill="#c0c0c0"/>
<circle cx="347.5" cy="888.96" r="2.71" fill="#80600a"/>
<circle cx="160.83" cy="969.17" r="5.83" fill="#c0c0c0"/>
<circle cx="160.83" cy="969.17" r="2.71" fill="#80600a"/>
<circle cx="187.5" cy="969.17" r="5.83" fill="#c0c0c0"/>
<circle cx="187.5" cy="969.17" r="2.71" fill="#80600a"/>
<circle cx="214.17" cy="969.17" r="5.83" fill="#c0c0c0"/>
<circle cx="214.17" cy="969.17" r="2.71" fill="#80600a"/>
<circle cx="240.83" cy="969.17" r="5.83" fill="#c0c0c0"/>
<circle cx="240.83" cy="969.17" r="2.71" fill="#80600a"/>
<circle cx="267.5" cy="969.17" r="5.83" fill="#c0c0c0"/>
<circle cx="267.5" cy="969.17" r="2.71" fill="#80600a"/>
<circle cx="294.17" cy="969.17" r="5.83" fill="#c0c0c0"/>
<circle cx="294.17" cy="969.17" r="2.71" fill="#80600a"/>
<circle cx="320.83" cy="969.17" r="5.83" fill="#c0c0c0"/>
<circle cx="320.83" cy="969.17" r="2.71" fill="#80600a"/>
<circle cx="347.5" cy="969.17" r="5.83" fill="#c0c0c0"/>
<circle cx="347.5" cy="969.17" r="2.71" fill="#80600a"/>
<rect x="147.71" y="902.92" width="213.12" height="53.12" fill="none" stroke="#ffff00" stroke-width="4.58"/>
<line x1="174.17" y1="902.08" x2="174.17" y2="956.67" stroke="#ffff00" stroke-width="4.58"/>
<line x1="200.83" y1="902.08" x2="200.83" y2="956.67" stroke="#ffff00" stroke-width="4.58"/>
<line x1="227.5" y1="902.08" x2="227.5" y2="956.67" stroke="#ffff00" stroke-width="4.58"/>
<line x1="254.17" y1="902.08" x2="254.17" y2="956.67" stroke="#ffff00" stroke-width="4.58"/>
<line x1="280.83" y1="902.08" x2="280.83" y2="956.67" stroke="#ffff00" stroke-width="4.58"/>
<line x1="307.5" y1="902.08" x2="307.5" y2="956.67" stroke="#ffff00" stroke-width="4.58"/>
<line x1="334.17" y1="902.08" x2="334.17" y2="956.67" stroke="#ffff00" stroke-width="4.58"/>
<circle cx="174.17" cy="902.08" r="5.83" fill="#c0c0c0"/>
<circle cx="174.17" cy="902.08" r="2.71" fill="#80600a"/>
<circle cx="200.83" cy="902.08" r="5.83" fill="#c0c0c0"/>
<circle cx="200.83" cy="902.08" r="2.71" fill="#80600a"/>
<circle cx="227.5" cy="902.08" r="5.83" fill="#c0c0c0"/>
<circle cx="227.5" cy="902.08" r="2.71" fill="#80600a"/>
<circle cx="254.17" cy="902.08" r="5.83" fill="#c0c0c0"/>
<circle cx="254.17" cy="902.08" r="2.71" fill="#80600a"/>
<circle cx="280.83" cy="902.08" r="5.83" fill="#c0c0c0"/>
<circle cx="280.83" cy="902.08" r="2.71" fill="#80600a"/>
<circle cx="307.5" cy="902.08" r="5.83" fill="#c0c0c0"/>
<circle cx="307.5" cy="902.08" r="2.71" fill="#80600a"/>
<circle cx="334.17" cy="902.08" r="5.83" fill="#c0c0c0"/>
<circle cx="334.17" cy="902.08" r="2.71" fill="#80600a"/>
<circle cx="174.17" cy="955.83" r="5.83" fill="#c0c0c0"/>
<circle cx="174.17" cy="955.83" r="2.71" fill="#80600a"/>
<circle cx="200.83" cy="955.83" r="5.83" fill="#c0c0c0"/>
<circle cx="200.83" cy="955.83" r="2.71" fill="#80600a"/>
<circle cx="227.5" cy="955.83" r="5.83" fill="#c0c0c0"/>
<circle cx="227.5" cy="955.83" r="2.71" fill="#80600a"/>
<circle cx="254.17" cy="955.83" r="5.83" fill="#c0c0c0"/>
<circle cx="254.17" cy="955.83" r="2.71" fill="#80600a"/>
<circle cx="280.83" cy="955.83" r="5.83" fill="#c0c0c0"/>
<circle cx="280.83" cy="955.83" r="2.71" fill="#80600a"/>
<circle cx="307.5" cy="955.83" r="5.83" fill="#c0c0c0"/>
<circle cx="307.5" cy="955.83" r="2.71" fill="#80600a"/>
<circle cx="334.17" cy="955.83" r="5.83" fill="#c0c0c0"/>
<circle cx="334.17" cy="955.83" r="2.71" fill="#80600a"/>
<rect x="442.08" y="865.62" width="360.83" height="129.17" fill="#000000"/>
<rect x="445.62" y="869.17" width="70.42" height="54.79" fill="#ff0000"/>
<rect x="445.62" y="934.38" width="70.42" height="56.25" fill="#ff0000"/>
<circle cx="465.42" cy="884.38" r="5.83" fill="#c0c0c0"/>
<circle cx="465.42" cy="884.38" r="2.71" fill="#80600a"/>
<circle cx="480.62" cy="879.17" r="5.83" fill="#c0c0c0"/>
<circle cx="480.62" cy="879.17" r="2.71" fill="#80600a"/>
<circle cx="496.04" cy="884.38" r="5.83" fill="#c0c0c0"/>
<circle cx="496.04" cy="884.38" r="2.71" fill="#80600a"/>
<circle cx="455.42" cy="899.58" r="5.83" fill="#c0c0c0"/>
<circle cx="455.42" cy="899.58" r="2.71" fill="#80600a"/>
<circle cx="506.04" cy="899.58" r="5.83" fill="#c0c0c0"/>
<circle cx="506.04" cy="899.58" r="2.71" fill="#80600a"/>
<circle cx="455.42" cy="919.38" r="5.83" fill="#c0c0c0"/>
<circle cx="455.42" cy="919.38" r="2.71" fill="#80600a"/>
<circle cx="506.04" cy="919.38" r="5.83" fill="#c0c0c0"/>
<circle cx="506.04" cy="919.38" r="2.71" fill="#80600a"/>
<circle cx="455.42" cy="940" r="5.83" fill="#c0c0c0"/>
<circle cx="455.42" cy="940" r="2.71" fill="#80600a"/>
<circle cx="506.04" cy="940" r="5.83" fill="#c0c0c0"/>
<circle cx="506.04" cy="940" r="2.71" fill="#80600a"/>
<circle cx="455.42" cy="959.79" r="5.83" fill="#c0c0c0"/>
<circle cx="455.42" cy="959.79" r="2.71" fill="#80600a"/>
<circle cx="506.04" cy="959.79" r="5.83" fill="#c0c0c0"/>
<circle cx="506.04" cy="959.79" r="2.71" fill="#80600a"/>
<circle cx="465.42" cy="975.42" r="5.83" fill="#c0c0c0"/>
<circle cx="465.42" cy="975.42" r="2.71" fill="#80600a"/>
<circle cx="480.62" cy="980.21" r="5.83" fill="#c0c0c0"/>
<circle cx="480.62" cy="980.21" r="2.71" fill="#80600a"/>
<circle cx="496.04" cy="975.42" r="5.83" fill="#c0c0c0"/>
<circle cx="496.04" cy="975.42" r="2.71" fill="#80600a"/>
<circle cx="480.62" cy="909.38" r="12.92" fill="#c0c0c0"/>
<circle cx="480.62" cy="908.34" r="3.49" fill="#008c8c"/>
<text x="480.62" y="909.12" font-size="6.25" fill="#f0e088" font-family='"Liberation Sans", sans-serif' text-anchor="middle">1</text>
<text x="480.62" y="915.83" font-size="6.25" fill="#f0e088" font-family='"Liberation Sans", sans-serif' text-anchor="middle">+VCC52</text>
<circle cx="480.62" cy="950" r="12.92" fill="#c0c0c0"/>
<circle cx="480.62" cy="948.97" r="3.49" fill="#008c8c"/>
<text x="480.62" y="949.74" font-size="6.25" fill="#f0e088" font-family='"Liberation Sans", sans-serif' text-anchor="middle">2</text>
<text x="480.62" y="956.46" font-size="6.25" fill="#f0e088" font-family='"Liberation Sans", sans-serif' text-anchor="middle">GND52</text>
<rect x="727.92" y="869.17" width="70.42" height="54.79" fill="#ff0000"/>
<rect x="727.92" y="934.38" width="70.42" height="56.25" fill="#ff0000"/>
<circle cx="747.5" cy="884.38" r="5.83" fill="#c0c0c0"/>
<circle cx="747.5" cy="884.38" r="2.71" fill="#80600a"/>
<circle cx="762.71" cy="879.17" r="5.83" fill="#c0c0c0"/>
<circle cx="762.71" cy="879.17" r="2.71" fill="#80600a"/>
<circle cx="778.12" cy="884.38" r="5.83" fill="#c0c0c0"/>
<circle cx="778.12" cy="884.38" r="2.71" fill="#80600a"/>
<circle cx="737.5" cy="899.58" r="5.83" fill="#c0c0c0"/>
<circle cx="737.5" cy="899.58" r="2.71" fill="#80600a"/>
<circle cx="788.12" cy="899.58" r="5.83" fill="#c0c0c0"/>
<circle cx="788.12" cy="899.58" r="2.71" fill="#80600a"/>
<circle cx="737.5" cy="919.38" r="5.83" fill="#c0c0c0"/>
<circle cx="737.5" cy="919.38" r="2.71" fill="#80600a"/>
<circle cx="788.12" cy="919.38" r="5.83" fill="#c0c0c0"/>
<circle cx="788.12" cy="919.38" r="2.71" fill="#80600a"/>
<circle cx="737.5" cy="940" r="5.83" fill="#c0c0c0"/>
<circle cx="737.5" cy="940" r="2.71" fill="#80600a"/>
<circle cx="788.12" cy="940" r="5.83" fill="#c0c0c0"/>
<circle cx="788.12" cy="940" r="2.71" fill="#80600a"/>
<circle cx="737.5" cy="959.79" r="5.83" fill="#c0c0c0"/>
<circle cx="737.5" cy="959.79" r="2.71" fill="#80600a"/>
<circle cx="788.12" cy="959.79" r="5.83" fill="#c0c0c0"/>
<circle cx="788.12" cy="959.79" r="2.71" fill="#80600a"/>
<circle cx="747.5" cy="975.42" r="5.83" fill="#c0c0c0"/>
<circle cx="747.5" cy="975.42" r="2.71" fill="#80600a"/>
<circle cx="762.71" cy="980.21" r="5.83" fill="#c0c0c0"/>
<circle cx="762.71" cy="980.21" r="2.71" fill="#80600a"/>
<circle cx="778.12" cy="975.42" r="5.83" fill="#c0c0c0"/>
<circle cx="778.12" cy="975.42" r="2.71" fill="#80600a"/>
<circle cx="762.71" cy="909.38" r="12.92" fill="#c0c0c0"/>
<circle cx="762.71" cy="908.34" r="3.49" fill="#008c8c"/>
<text x="762.71" y="909.12" font-size="6.25" fill="#f0e088" font-family='"Liberation Sans", sans-serif' text-anchor="middle">1</text>
<text x="762.71" y="915.83" font-size="6.25" fill="#f0e088" font-family='"Liberation Sans", sans-serif' text-anchor="middle">+VCC52</text>
<circle cx="762.71" cy="950" r="12.92" fill="#c0c0c0"/>
<circle cx="762.71" cy="948.97" r="3.49" fill="#008c8c"/>
<text x="762.71" y="949.74" font-size="6.25" fill="#f0e088" font-family='"Liberation Sans", sans-serif' text-anchor="middle">2</text>
<text x="762.71" y="956.46" font-size="6.25" fill="#f0e088" font-family='"Liberation Sans", sans-serif' text-anchor="middle">GND52</text>
<rect x="521.25" y="894.38" width="12.5" height="28.54" fill="#ff0000"/>
<rect x="521.25" y="936.46" width="12.5" height="28.75" fill="#ff0000"/>
<circle cx="527.5" cy="894.38" r="6.25" fill="#ff0000"/>
<circle cx="527.5" cy="965.21" r="6.25" fill="#ff0000"/>
<rect x="548.33" y="894.38" width="12.5" height="28.54" fill="#ff0000"/>
<rect x="548.33" y="936.46" width="12.5" height="28.75" fill="#ff0000"/>
<circle cx="554.58" cy="894.38" r="6.25" fill="#ff0000"/>
<circle cx="554.58" cy="965.21" r="6.25" fill="#ff0000"/>
<rect x="575.21" y="894.38" width="12.5" height="28.54" fill="#ff0000"/>
<rect x="575.21" y="936.46" width="12.5" height="28.75" fill="#ff0000"/>
<circle cx="581.46" cy="894.38" r="6.25" fill="#ff0000"/>
<circle cx="581.46" cy="965.21" r="6.25" fill="#ff0000"/>
<rect x="602.08" y="894.38" width="12.5" height="28.54" fill="#ff0000"/>
<rect x="602.08" y="936.46" width="12.5" height="28.75" fill="#ff0000"/>
<circle cx="608.33" cy="894.38" r="6.25" fill="#ff0000"/>
<circle cx="608.33" cy="965.21" r="6.25" fill="#ff0000"/>
<rect x="628.96" y="894.38" width="12.5" height="28.54" fill="#ff0000"/>
<rect x="628.96" y="936.46" width="12.5" height="28.75" fill="#ff0000"/>
<circle cx="635.21" cy="894.38" r="6.25" fill="#ff0000"/>
<circle cx="635.21" cy="965.21" r="6.25" fill="#ff0000"/>
<rect x="656.04" y="894.38" width="12.5" height="28.54" fill="#ff0000"/>
<rect x="656.04" y="936.46" width="12.5" height="28.75" fill="#ff0000"/>
<circle cx="662.29" cy="894.38" r="6.25" fill="#ff0000"/>
<circle cx="662.29" cy="965.21" r="6.25" fill="#ff0000"/>
<rect x="682.71" y="894.38" width="12.5" height="28.54" fill="#ff0000"/>
<rect x="682.71" y="936.46" width="12.5" height="28.75" fill="#ff0000"/>
<circle cx="688.96" cy="894.38" r="6.25" fill="#ff0000"/>
<circle cx="688.96" cy="965.21" r="6.25" fill="#ff0000"/>
<rect x="709.58" y="894.38" width="12.5" height="28.54" fill="#ff0000"/>
<rect x="709.58" y="936.46" width="12.5" height="28.75" fill="#ff0000"/>
<circle cx="715.83" cy="894.38" r="6.25" fill="#ff0000"/>
<circle cx="715.83" cy="965.21" r="6.25" fill="#ff0000"/>
<rect x="514.79" y="903.54" width="214.38" height="52.71" fill="none" stroke="#ffff00" stroke-width="5"/>
<line x1="541.46" y1="902.08" x2="541.46" y2="957.29" stroke="#ffff00" stroke-width="5.83"/>
<line x1="568.12" y1="902.08" x2="568.12" y2="957.29" stroke="#ffff00" stroke-width="5.83"/>
<line x1="595" y1="902.08" x2="595" y2="957.29" stroke="#ffff00" stroke-width="5.83"/>
<line x1="621.67" y1="902.08" x2="621.67" y2="957.29" stroke="#ffff00" stroke-width="5.83"/>
<line x1="648.75" y1="902.08" x2="648.75" y2="957.29" stroke="#ffff00" stroke-width="5.83"/>
<line x1="675.42" y1="902.08" x2="675.42" y2="957.29" stroke="#ffff00" stroke-width="5.83"/>
<line x1="702.5" y1="902.08" x2="702.5" y2="957.29" stroke="#ffff00" stroke-width="5.83"/>
<circle cx="527.5" cy="894.38" r="6.04" fill="#c0c0c0"/>
<circle cx="527.5" cy="894.38" r="2.71" fill="#80600a"/>
<circle cx="554.58" cy="894.38" r="6.04" fill="#c0c0c0"/>
<circle cx="554.58" cy="894.38" r="2.71" fill="#80600a"/>
<circle cx="581.46" cy="894.38" r="6.04" fill="#c0c0c0"/>
<circle cx="581.46" cy="894.38" r="2.71" fill="#80600a"/>
<circle cx="608.33" cy="894.38" r="6.04" fill="#c0c0c0"/>
<circle cx="608.33" cy="894.38" r="2.71" fill="#80600a"/>
<circle cx="635.21" cy="894.38" r="6.04" fill="#c0c0c0"/>
<circle cx="635.21" cy="894.38" r="2.71" fill="#80600a"/>
<circle cx="662.29" cy="894.38" r="6.04" fill="#c0c0c0"/>
<circle cx="662.29" cy="894.38" r="2.71" fill="#80600a"/>
<circle cx="688.96" cy="894.38" r="6.04" fill="#c0c0c0"/>
<circle cx="688.96" cy="894.38" r="2.71" fill="#80600a"/>
<circle cx="715.83" cy="894.38" r="6.04" fill="#c0c0c0"/>
<circle cx="715.83" cy="894.38" r="2.71" fill="#80600a"/>
<circle cx="527.5" cy="965.21" r="6.04" fill="#c0c0c0"/>
<circle cx="527.5" cy="965.21" r="2.71" fill="#80600a"/>
<circle cx="554.58" cy="965.21" r="6.04" fill="#c0c0c0"/>
<circle cx="554.58" cy="965.21" r="2.71" fill="#80600a"/>
<circle cx="581.46" cy="965.21" r="6.04" fill="#c0c0c0"/>
<circle cx="581.46" cy="965.21" r="2.71" fill="#80600a"/>
<circle cx="608.33" cy="965.21" r="6.04" fill="#c0c0c0"/>
<circle cx="608.33" cy="965.21" r="2.71" fill="#80600a"/>
<circle cx="635.21" cy="965.21" r="6.04" fill="#c0c0c0"/>
<circle cx="635.21" cy="965.21" r="2.71" fill="#80600a"/>
<circle cx="662.29" cy="965.21" r="6.04" fill="#c0c0c0"/>
<circle cx="662.29" cy="965.21" r="2.71" fill="#80600a"/>
<circle cx="688.96" cy="965.21" r="6.04" fill="#c0c0c0"/>
<circle cx="688.96" cy="965.21" r="2.71" fill="#80600a"/>
<circle cx="715.83" cy="965.21" r="6.04" fill="#c0c0c0"/>
<circle cx="715.83" cy="965.21" r="2.71" fill="#80600a"/>
<rect x="807.71" y="979.27" width="266.15" height="95.57" fill="#b8860b"/>
<rect x="812.14" y="982.4" width="51.56" height="88.02" fill="#ff0000"/>
<rect x="1018.39" y="982.4" width="51.56" height="88.02" fill="#ff0000"/>
<rect x="867.6" y="989.43" width="146.88" height="73.18" fill="#ff0000"/>
<rect x="807.71" y="1022.76" width="266.15" height="7.81" fill="#000000"/>
<circle cx="826.46" cy="993.59" r="4.43" fill="#c0c0c0"/>
<circle cx="826.46" cy="993.59" r="2.08" fill="#80600a"/>
<circle cx="837.66" cy="989.43" r="4.43" fill="#c0c0c0"/>
<circle cx="837.66" cy="989.43" r="2.08" fill="#80600a"/>
<circle cx="849.11" cy="993.59" r="4.43" fill="#c0c0c0"/>
<circle cx="849.11" cy="993.59" r="2.08" fill="#80600a"/>
<circle cx="819.17" cy="1004.01" r="4.43" fill="#c0c0c0"/>
<circle cx="819.17" cy="1004.01" r="2.08" fill="#80600a"/>
<circle cx="856.41" cy="1004.01" r="4.43" fill="#c0c0c0"/>
<circle cx="856.41" cy="1004.01" r="2.08" fill="#80600a"/>
<circle cx="819.17" cy="1018.85" r="4.43" fill="#c0c0c0"/>
<circle cx="819.17" cy="1018.85" r="2.08" fill="#80600a"/>
<circle cx="856.41" cy="1018.85" r="4.43" fill="#c0c0c0"/>
<circle cx="856.41" cy="1018.85" r="2.08" fill="#80600a"/>
<circle cx="819.17" cy="1033.7" r="4.43" fill="#c0c0c0"/>
<circle cx="819.17" cy="1033.7" r="2.08" fill="#80600a"/>
<circle cx="856.41" cy="1033.7" r="4.43" fill="#c0c0c0"/>
<circle cx="856.41" cy="1033.7" r="2.08" fill="#80600a"/>
<circle cx="819.17" cy="1048.28" r="4.43" fill="#c0c0c0"/>
<circle cx="819.17" cy="1048.28" r="2.08" fill="#80600a"/>
<circle cx="856.41" cy="1048.28" r="4.43" fill="#c0c0c0"/>
<circle cx="856.41" cy="1048.28" r="2.08" fill="#80600a"/>
<circle cx="826.46" cy="1060" r="4.43" fill="#c0c0c0"/>
<circle cx="826.46" cy="1060" r="2.08" fill="#80600a"/>
<circle cx="837.66" cy="1063.65" r="4.43" fill="#c0c0c0"/>
<circle cx="837.66" cy="1063.65" r="2.08" fill="#80600a"/>
<circle cx="849.11" cy="1060" r="4.43" fill="#c0c0c0"/>
<circle cx="849.11" cy="1060" r="2.08" fill="#80600a"/>
<circle cx="837.66" cy="1011.82" r="9.64" fill="#c0c0c0"/>
<circle cx="837.66" cy="1011.05" r="2.6" fill="#008c8c"/>
<text x="837.66" y="1016.64" font-size="4.17" fill="#f0e088" font-family='"Liberation Sans", sans-serif' text-anchor="middle">+VCC43</text>
<circle cx="837.66" cy="1041.51" r="9.64" fill="#c0c0c0"/>
<circle cx="837.66" cy="1040.74" r="2.6" fill="#008c8c"/>
<text x="837.66" y="1046.33" font-size="4.17" fill="#f0e088" font-family='"Liberation Sans", sans-serif' text-anchor="middle">GND43</text>
<circle cx="1031.93" cy="993.59" r="4.43" fill="#c0c0c0"/>
<circle cx="1031.93" cy="993.59" r="2.08" fill="#80600a"/>
<circle cx="1043.12" cy="989.43" r="4.43" fill="#c0c0c0"/>
<circle cx="1043.12" cy="989.43" r="2.08" fill="#80600a"/>
<circle cx="1054.58" cy="993.59" r="4.43" fill="#c0c0c0"/>
<circle cx="1054.58" cy="993.59" r="2.08" fill="#80600a"/>
<circle cx="1024.64" cy="1004.01" r="4.43" fill="#c0c0c0"/>
<circle cx="1024.64" cy="1004.01" r="2.08" fill="#80600a"/>
<circle cx="1061.88" cy="1004.01" r="4.43" fill="#c0c0c0"/>
<circle cx="1061.88" cy="1004.01" r="2.08" fill="#80600a"/>
<circle cx="1024.64" cy="1018.85" r="4.43" fill="#c0c0c0"/>
<circle cx="1024.64" cy="1018.85" r="2.08" fill="#80600a"/>
<circle cx="1061.88" cy="1018.85" r="4.43" fill="#c0c0c0"/>
<circle cx="1061.88" cy="1018.85" r="2.08" fill="#80600a"/>
<circle cx="1024.64" cy="1033.7" r="4.43" fill="#c0c0c0"/>
<circle cx="1024.64" cy="1033.7" r="2.08" fill="#80600a"/>
<circle cx="1061.88" cy="1033.7" r="4.43" fill="#c0c0c0"/>
<circle cx="1061.88" cy="1033.7" r="2.08" fill="#80600a"/>
<circle cx="1024.64" cy="1048.28" r="4.43" fill="#c0c0c0"/>
<circle cx="1024.64" cy="1048.28" r="2.08" fill="#80600a"/>
<circle cx="1061.88" cy="1048.28" r="4.43" fill="#c0c0c0"/>
<circle cx="1061.88" cy="1048.28" r="2.08" fill="#80600a"/>
<circle cx="1031.93" cy="1060" r="4.43" fill="#c0c0c0"/>
<circle cx="1031.93" cy="1060" r="2.08" fill="#80600a"/>
<circle cx="1043.12" cy="1063.65" r="4.43" fill="#c0c0c0"/>
<circle cx="1043.12" cy="1063.65" r="2.08" fill="#80600a"/>
<circle cx="1054.58" cy="1060" r="4.43" fill="#c0c0c0"/>
<circle cx="1054.58" cy="1060" r="2.08" fill="#80600a"/>
<circle cx="1043.12" cy="1011.82" r="9.64" fill="#c0c0c0"/>
<circle cx="1043.12" cy="1011.05" r="2.6" fill="#008c8c"/>
<text x="1043.12" y="1016.64" font-size="4.17" fill="#f0e088" font-family='"Liberation Sans", sans-serif' text-anchor="middle">+VCC43</text>
<circle cx="1043.12" cy="1041.51" r="9.64" fill="#c0c0c0"/>
<circle cx="1043.12" cy="1040.74" r="2.6" fill="#008c8c"/>
<text x="1043.12" y="1046.33" font-size="4.17" fill="#f0e088" font-family='"Liberation Sans", sans-serif' text-anchor="middle">GND43</text>
<circle cx="872.03" cy="996.72" r="4.43" fill="#c0c0c0"/>
<circle cx="872.03" cy="996.72" r="2.08" fill="#80600a"/>
<circle cx="891.56" cy="996.72" r="4.43" fill="#c0c0c0"/>
<circle cx="891.56" cy="996.72" r="2.08" fill="#80600a"/>
<circle cx="911.09" cy="996.72" r="4.43" fill="#c0c0c0"/>
<circle cx="911.09" cy="996.72" r="2.08" fill="#80600a"/>
<circle cx="931.15" cy="996.72" r="4.43" fill="#c0c0c0"/>
<circle cx="931.15" cy="996.72" r="2.08" fill="#80600a"/>
<circle cx="950.68" cy="996.72" r="4.43" fill="#c0c0c0"/>
<circle cx="950.68" cy="996.72" r="2.08" fill="#80600a"/>
<circle cx="970.21" cy="996.72" r="4.43" fill="#c0c0c0"/>
<circle cx="970.21" cy="996.72" r="2.08" fill="#80600a"/>
<circle cx="990" cy="996.72" r="4.43" fill="#c0c0c0"/>
<circle cx="990" cy="996.72" r="2.08" fill="#80600a"/>
<circle cx="1009.53" cy="996.72" r="4.43" fill="#c0c0c0"/>
<circle cx="1009.53" cy="996.72" r="2.08" fill="#80600a"/>
<circle cx="872.03" cy="1055.83" r="4.43" fill="#c0c0c0"/>
<circle cx="872.03" cy="1055.83" r="2.08" fill="#80600a"/>
<circle cx="891.56" cy="1055.83" r="4.43" fill="#c0c0c0"/>
<circle cx="891.56" cy="1055.83" r="2.08" fill="#80600a"/>
<circle cx="911.09" cy="1055.83" r="4.43" fill="#c0c0c0"/>
<circle cx="911.09" cy="1055.83" r="2.08" fill="#80600a"/>
<circle cx="931.15" cy="1055.83" r="4.43" fill="#c0c0c0"/>
<circle cx="931.15" cy="1055.83" r="2.08" fill="#80600a"/>
<circle cx="950.68" cy="1055.83" r="4.43" fill="#c0c0c0"/>
<circle cx="950.68" cy="1055.83" r="2.08" fill="#80600a"/>
<circle cx="970.21" cy="1055.83" r="4.43" fill="#c0c0c0"/>
<circle cx="970.21" cy="1055.83" r="2.08" fill="#80600a"/>
<circle cx="990" cy="1055.83" r="4.43" fill="#c0c0c0"/>
<circle cx="990" cy="1055.83" r="2.08" fill="#80600a"/>
<circle cx="1009.53" cy="1055.83" r="4.43" fill="#c0c0c0"/>
<circle cx="1009.53" cy="1055.83" r="2.08" fill="#80600a"/>
<rect x="862.4" y="1007.4" width="156.51" height="38.02" fill="none" stroke="#ffff00" stroke-width="3.12"/>
<line x1="881.93" y1="1007.14" x2="881.93" y2="1045.68" stroke="#ffff00" stroke-width="2.86"/>
<line x1="901.46" y1="1007.14" x2="901.46" y2="1045.68" stroke="#ffff00" stroke-width="2.86"/>
<line x1="920.99" y1="1007.14" x2="920.99" y2="1045.68" stroke="#ffff00" stroke-width="2.86"/>
<line x1="940.52" y1="1007.14" x2="940.52" y2="1045.68" stroke="#ffff00" stroke-width="2.86"/>
<line x1="960.57" y1="1007.14" x2="960.57" y2="1045.68" stroke="#ffff00" stroke-width="2.86"/>
<line x1="980.1" y1="1007.14" x2="980.1" y2="1045.68" stroke="#ffff00" stroke-width="2.86"/>
<line x1="999.64" y1="1007.14" x2="999.64" y2="1045.68" stroke="#ffff00" stroke-width="2.86"/>
<circle cx="881.93" cy="1007.14" r="4.43" fill="#c0c0c0"/>
<circle cx="881.93" cy="1007.14" r="2.08" fill="#80600a"/>
<circle cx="901.46" cy="1007.14" r="4.43" fill="#c0c0c0"/>
<circle cx="901.46" cy="1007.14" r="2.08" fill="#80600a"/>
<circle cx="920.99" cy="1007.14" r="4.43" fill="#c0c0c0"/>
<circle cx="920.99" cy="1007.14" r="2.08" fill="#80600a"/>
<circle cx="940.52" cy="1007.14" r="4.43" fill="#c0c0c0"/>
<circle cx="940.52" cy="1007.14" r="2.08" fill="#80600a"/>
<circle cx="960.57" cy="1007.14" r="4.43" fill="#c0c0c0"/>
<circle cx="960.57" cy="1007.14" r="2.08" fill="#80600a"/>
<circle cx="980.1" cy="1007.14" r="4.43" fill="#c0c0c0"/>
<circle cx="980.1" cy="1007.14" r="2.08" fill="#80600a"/>
<circle cx="999.64" cy="1007.14" r="4.43" fill="#c0c0c0"/>
<circle cx="999.64" cy="1007.14" r="2.08" fill="#80600a"/>
<circle cx="881.93" cy="1045.68" r="4.43" fill="#c0c0c0"/>
<circle cx="881.93" cy="1045.68" r="2.08" fill="#80600a"/>
<circle cx="901.46" cy="1045.68" r="4.43" fill="#c0c0c0"/>
<circle cx="901.46" cy="1045.68" r="2.08" fill="#80600a"/>
<circle cx="920.99" cy="1045.68" r="4.43" fill="#c0c0c0"/>
<circle cx="920.99" cy="1045.68" r="2.08" fill="#80600a"/>
<circle cx="940.52" cy="1045.68" r="4.43" fill="#c0c0c0"/>
<circle cx="940.52" cy="1045.68" r="2.08" fill="#80600a"/>
<circle cx="960.57" cy="1045.68" r="4.43" fill="#c0c0c0"/>
<circle cx="960.57" cy="1045.68" r="2.08" fill="#80600a"/>
<circle cx="980.1" cy="1045.68" r="4.43" fill="#c0c0c0"/>
<circle cx="980.1" cy="1045.68" r="2.08" fill="#80600a"/>
<circle cx="999.64" cy="1045.68" r="4.43" fill="#c0c0c0"/>
<circle cx="999.64" cy="1045.68" r="2.08" fill="#80600a"/>
<rect x="1042.33" y="14" width="61.67" height="157.67" fill="#000000"/>
<line x1="1072.67" y1="28.33" x2="1072.67" y2="70" stroke="#ff0000" stroke-width="3.67"/>
<line x1="1072.67" y1="115" x2="1072.67" y2="156.67" stroke="#ff0000" stroke-width="3.67"/>
<rect x="1064.33" y="67.67" width="16.67" height="15.67" fill="#ff0000"/>
<rect x="1064.33" y="101" width="16.67" height="16.33" fill="#ff0000"/>
<rect x="1055.17" y="58.5" width="35" height="68.33" fill="none" stroke="#ffff00" stroke-width="5"/>
<circle cx="1072.67" cy="28.33" r="7.33" fill="#c0c0c0"/>
<circle cx="1072.67" cy="28.33" r="3.33" fill="#80600a"/>
<circle cx="1072.67" cy="156.67" r="7.33" fill="#c0c0c0"/>
<circle cx="1072.67" cy="156.67" r="3.33" fill="#80600a"/>
<rect x="1110" y="55" width="392" height="117.33" fill="#000000"/>
<rect x="1296" y="83.33" width="15.67" height="21.67" fill="#ff0000"/>
<rect x="1296" y="121.67" width="15.67" height="21.67" fill="#ff0000"/>
<rect x="1287.5" y="81.5" width="32.67" height="63.67" fill="none" stroke="#ffff00" stroke-width="5"/>
<circle cx="1303.33" cy="70.67" r="8" fill="#ff0000"/>
<circle cx="1303.33" cy="70.67" r="5.67" fill="#c0c0c0"/>
<circle cx="1303.33" cy="70.67" r="2.67" fill="#80600a"/>
<circle cx="1303.33" cy="155.33" r="8" fill="#ff0000"/>
<circle cx="1303.33" cy="155.33" r="5.67" fill="#c0c0c0"/>
<circle cx="1303.33" cy="155.33" r="2.67" fill="#80600a"/>
<circle cx="1133.33" cy="88.33" r="15.33" fill="#c0c0c0"/>
<circle cx="1133.33" cy="87.11" r="4.14" fill="#008c8c"/>
<text x="1133.33" y="88.03" font-size="7.33" fill="#f0e088" font-family='"Liberation Sans", sans-serif' text-anchor="middle">1</text>
<text x="1133.33" y="96" font-size="7.33" fill="#f0e088" font-family='"Liberation Sans", sans-serif' text-anchor="middle">+VCC55</text>
<circle cx="1133.33" cy="137.67" r="15.33" fill="#c0c0c0"/>
<circle cx="1133.33" cy="136.44" r="4.14" fill="#008c8c"/>
<text x="1133.33" y="137.36" font-size="7.33" fill="#f0e088" font-family='"Liberation Sans", sans-serif' text-anchor="middle">2</text>
<text x="1133.33" y="145.33" font-size="7.33" fill="#f0e088" font-family='"Liberation Sans", sans-serif' text-anchor="middle">GND55</text>
<circle cx="1473.33" cy="88.33" r="15.33" fill="#c0c0c0"/>
<circle cx="1473.33" cy="87.11" r="4.14" fill="#008c8c"/>
<text x="1473.33" y="88.03" font-size="7.33" fill="#f0e088" font-family='"Liberation Sans", sans-serif' text-anchor="middle">1</text>
<text x="1473.33" y="96" font-size="7.33" fill="#f0e088" font-family='"Liberation Sans", sans-serif' text-anchor="middle">+VCC55</text>
<circle cx="1473.33" cy="137.67" r="15.33" fill="#c0c0c0"/>
<circle cx="1473.33" cy="136.44" r="4.14" fill="#008c8c"/>
<text x="1473.33" y="137.36" font-size="7.33" fill="#f0e088" font-family='"Liberation Sans", sans-serif' text-anchor="middle">2</text>
<text x="1473.33" y="145.33" font-size="7.33" fill="#f0e088" font-family='"Liberation Sans", sans-serif' text-anchor="middle">GND55</text>
<rect x="1099" y="197.33" width="403.67" height="100.33" fill="#000000"/>
<line x1="1120" y1="231" x2="1478.33" y2="231" stroke="#ff0000" stroke-width="4"/>
<line x1="1120" y1="264.33" x2="1478.33" y2="264.33" stroke="#ff0000" stroke-width="4"/>
<rect x="1292.67" y="222.67" width="16.67" height="16.67" fill="#ff0000"/>
<rect x="1292.67" y="256" width="16.67" height="16.67" fill="#ff0000"/>
<rect x="1284.17" y="214.17" width="34" height="66.67" fill="none" stroke="#ffff00" stroke-width="5"/>
<circle cx="1123.33" cy="222.33" r="16" fill="#c0c0c0"/>
<circle cx="1123.33" cy="221.05" r="4.32" fill="#008c8c"/>
<text x="1123.33" y="222.01" font-size="8" fill="#f0e088" font-family='"Liberation Sans", sans-serif' text-anchor="middle">1</text>
<text x="1123.33" y="230.33" font-size="8" fill="#f0e088" font-family='"Liberation Sans", sans-serif' text-anchor="middle">+VCC15</text>
<circle cx="1123.33" cy="272.67" r="16" fill="#c0c0c0"/>
<circle cx="1123.33" cy="271.39" r="4.32" fill="#008c8c"/>
<text x="1123.33" y="272.35" font-size="8" fill="#f0e088" font-family='"Liberation Sans", sans-serif' text-anchor="middle">2</text>
<text x="1123.33" y="280.67" font-size="8" fill="#f0e088" font-family='"Liberation Sans", sans-serif' text-anchor="middle">GND15</text>
<circle cx="1478.33" cy="222.33" r="16" fill="#c0c0c0"/>
<circle cx="1478.33" cy="221.05" r="4.32" fill="#008c8c"/>
<text x="1478.33" y="222.01" font-size="8" fill="#f0e088" font-family='"Liberation Sans", sans-serif' text-anchor="middle">1</text>
<text x="1478.33" y="230.33" font-size="8" fill="#f0e088" font-family='"Liberation Sans", sans-serif' text-anchor="middle">+VCC15</text>
<circle cx="1478.33" cy="272.67" r="16" fill="#c0c0c0"/>
<circle cx="1478.33" cy="271.39" r="4.32" fill="#008c8c"/>
<text x="1478.33" y="272.35" font-size="8" fill="#f0e088" font-family='"Liberation Sans", sans-serif' text-anchor="middle">2</text>
<text x="1478.33" y="280.67" font-size="8" fill="#f0e088" font-family='"Liberation Sans", sans-serif' text-anchor="middle">GND15</text>
<rect x="992.67" y="305" width="415" height="102.33" fill="#000000"/>
<line x1="1015" y1="337.33" x2="1381.67" y2="337.33" stroke="#ff0000" stroke-width="16.67" stroke-linecap="round"/>
<line x1="1015" y1="372.33" x2="1381.67" y2="372.33" stroke="#ff0000" stroke-width="16.67" stroke-linecap="round"/>
<rect x="1181.5" y="320.83" width="34.33" height="67.33" fill="none" stroke="#ffff00" stroke-width="5"/>
<circle cx="1015" cy="328.33" r="17.33" fill="#c0c0c0"/>
<circle cx="1015" cy="326.95" r="4.68" fill="#008c8c"/>
<text x="1015" y="327.99" font-size="8.67" fill="#f0e088" font-family='"Liberation Sans", sans-serif' text-anchor="middle">1</text>
<text x="1015" y="337" font-size="8.67" fill="#f0e088" font-family='"Liberation Sans", sans-serif' text-anchor="middle">+VCC21</text>
<circle cx="1015" cy="380.67" r="17.33" fill="#c0c0c0"/>
<circle cx="1015" cy="379.28" r="4.68" fill="#008c8c"/>
<text x="1015" y="380.32" font-size="8.67" fill="#f0e088" font-family='"Liberation Sans", sans-serif' text-anchor="middle">2</text>
<text x="1015" y="389.33" font-size="8.67" fill="#f0e088" font-family='"Liberation Sans", sans-serif' text-anchor="middle">GND21</text>
<circle cx="1381.67" cy="328.33" r="17.33" fill="#c0c0c0"/>
<circle cx="1381.67" cy="326.95" r="4.68" fill="#008c8c"/>
<text x="1381.67" y="327.99" font-size="8.67" fill="#f0e088" font-family='"Liberation Sans", sans-serif' text-anchor="middle">1</text>
<text x="1381.67" y="337" font-size="8.67" fill="#f0e088" font-family='"Liberation Sans", sans-serif' text-anchor="middle">+VCC21</text>
<circle cx="1381.67" cy="380.67" r="17.33" fill="#c0c0c0"/>
<circle cx="1381.67" cy="379.28" r="4.68" fill="#008c8c"/>
<text x="1381.67" y="380.32" font-size="8.67" fill="#f0e088" font-family='"Liberation Sans", sans-serif' text-anchor="middle">2</text>
<text x="1381.67" y="389.33" font-size="8.67" fill="#f0e088" font-family='"Liberation Sans", sans-serif' text-anchor="middle">GND21</text>
<text x="1112.67" y="341.33" font-size="10.33" fill="#ffd8d8" font-family='"Liberation Sans", sans-serif' text-anchor="middle">+VCC21</text>
<text x="1112.67" y="376.33" font-size="10.33" fill="#ffd8d8" font-family='"Liberation Sans", sans-serif' text-anchor="middle">GND21</text>
<text x="1282.33" y="341.33" font-size="10.33" fill="#ffd8d8" font-family='"Liberation Sans", sans-serif' text-anchor="middle">+VCC21</text>
<text x="1282.33" y="376.33" font-size="10.33" fill="#ffd8d8" font-family='"Liberation Sans", sans-serif' text-anchor="middle">GND21</text>
<rect x="1413.33" y="304" width="297.33" height="103.33" fill="#000000"/>
<rect x="1416" y="307.33" width="292.33" height="96" fill="#ff0000"/>
<rect x="1413.33" y="350.33" width="297.33" height="9" fill="#000000"/>
<rect x="1549.33" y="330" width="25.67" height="50.67" fill="none" stroke="#ffff00" stroke-width="4"/>
<circle cx="1429.33" cy="336" r="12.33" fill="#c0c0c0"/>
<circle cx="1429.33" cy="335.01" r="3.33" fill="#008c8c"/>
<text x="1429.33" y="342.17" font-size="6" fill="#f0e088" font-family='"Liberation Sans", sans-serif' text-anchor="middle">+VCC51</text>
<circle cx="1429.33" cy="374" r="12.33" fill="#c0c0c0"/>
<circle cx="1429.33" cy="373.01" r="3.33" fill="#008c8c"/>
<text x="1429.33" y="380.17" font-size="6" fill="#f0e088" font-family='"Liberation Sans", sans-serif' text-anchor="middle">GND51</text>
<circle cx="1693.33" cy="336" r="12.33" fill="#c0c0c0"/>
<circle cx="1693.33" cy="335.01" r="3.33" fill="#008c8c"/>
<text x="1693.33" y="342.17" font-size="6" fill="#f0e088" font-family='"Liberation Sans", sans-serif' text-anchor="middle">+VCC51</text>
<circle cx="1693.33" cy="374" r="12.33" fill="#c0c0c0"/>
<circle cx="1693.33" cy="373.01" r="3.33" fill="#008c8c"/>
<text x="1693.33" y="380.17" font-size="6" fill="#f0e088" font-family='"Liberation Sans", sans-serif' text-anchor="middle">GND51</text>
<rect x="994.33" y="418.17" width="262.5" height="160.42" fill="#000000"/>
<rect x="999" y="455.21" width="50.75" height="38.5" fill="#ff0000"/>
<rect x="999" y="501" width="50.75" height="40.25" fill="#ff0000"/>
<rect x="1200.83" y="455.21" width="50.75" height="38.5" fill="#ff0000"/>
<rect x="1200.83" y="501" width="50.75" height="40.25" fill="#ff0000"/>
<circle cx="1013.58" cy="464.83" r="3.21" fill="#c0c0c0"/>
<circle cx="1013.58" cy="464.83" r="1.6" fill="#80600a"/>
<circle cx="1024.96" cy="461.92" r="3.21" fill="#c0c0c0"/>
<circle cx="1024.96" cy="461.92" r="1.6" fill="#80600a"/>
<circle cx="1035.46" cy="464.83" r="3.21" fill="#c0c0c0"/>
<circle cx="1035.46" cy="464.83" r="1.6" fill="#80600a"/>
<circle cx="1006.29" cy="476.5" r="3.21" fill="#c0c0c0"/>
<circle cx="1006.29" cy="476.5" r="1.6" fill="#80600a"/>
<circle cx="1042.46" cy="476.5" r="3.21" fill="#c0c0c0"/>
<circle cx="1042.46" cy="476.5" r="1.6" fill="#80600a"/>
<circle cx="1006.29" cy="489.33" r="3.21" fill="#c0c0c0"/>
<circle cx="1006.29" cy="489.33" r="1.6" fill="#80600a"/>
<circle cx="1042.46" cy="489.33" r="3.21" fill="#c0c0c0"/>
<circle cx="1042.46" cy="489.33" r="1.6" fill="#80600a"/>
<circle cx="1006.29" cy="504.79" r="3.21" fill="#c0c0c0"/>
<circle cx="1006.29" cy="504.79" r="1.6" fill="#80600a"/>
<circle cx="1042.46" cy="504.79" r="3.21" fill="#c0c0c0"/>
<circle cx="1042.46" cy="504.79" r="1.6" fill="#80600a"/>
<circle cx="1006.29" cy="519.96" r="3.21" fill="#c0c0c0"/>
<circle cx="1006.29" cy="519.96" r="1.6" fill="#80600a"/>
<circle cx="1042.46" cy="519.96" r="3.21" fill="#c0c0c0"/>
<circle cx="1042.46" cy="519.96" r="1.6" fill="#80600a"/>
<circle cx="1013.58" cy="530.46" r="3.21" fill="#c0c0c0"/>
<circle cx="1013.58" cy="530.46" r="1.6" fill="#80600a"/>
<circle cx="1024.96" cy="533.96" r="3.21" fill="#c0c0c0"/>
<circle cx="1024.96" cy="533.96" r="1.6" fill="#80600a"/>
<circle cx="1035.46" cy="530.46" r="3.21" fill="#c0c0c0"/>
<circle cx="1035.46" cy="530.46" r="1.6" fill="#80600a"/>
<circle cx="1024.96" cy="482.92" r="9.62" fill="#c0c0c0"/>
<circle cx="1024.96" cy="482.15" r="2.6" fill="#008c8c"/>
<text x="1024.96" y="487.73" font-size="3.79" fill="#f0e088" font-family='"Liberation Sans", sans-serif' text-anchor="middle">+VCC23</text>
<circle cx="1024.96" cy="511.21" r="9.62" fill="#c0c0c0"/>
<circle cx="1024.96" cy="510.44" r="2.6" fill="#008c8c"/>
<text x="1024.96" y="516.02" font-size="3.79" fill="#f0e088" font-family='"Liberation Sans", sans-serif' text-anchor="middle">GND23</text>
<circle cx="1213.66" cy="464.83" r="3.21" fill="#c0c0c0"/>
<circle cx="1213.66" cy="464.83" r="1.6" fill="#80600a"/>
<circle cx="1225.04" cy="461.92" r="3.21" fill="#c0c0c0"/>
<circle cx="1225.04" cy="461.92" r="1.6" fill="#80600a"/>
<circle cx="1235.54" cy="464.83" r="3.21" fill="#c0c0c0"/>
<circle cx="1235.54" cy="464.83" r="1.6" fill="#80600a"/>
<circle cx="1206.37" cy="476.5" r="3.21" fill="#c0c0c0"/>
<circle cx="1206.37" cy="476.5" r="1.6" fill="#80600a"/>
<circle cx="1242.54" cy="476.5" r="3.21" fill="#c0c0c0"/>
<circle cx="1242.54" cy="476.5" r="1.6" fill="#80600a"/>
<circle cx="1206.37" cy="489.33" r="3.21" fill="#c0c0c0"/>
<circle cx="1206.37" cy="489.33" r="1.6" fill="#80600a"/>
<circle cx="1242.54" cy="489.33" r="3.21" fill="#c0c0c0"/>
<circle cx="1242.54" cy="489.33" r="1.6" fill="#80600a"/>
<circle cx="1206.37" cy="504.79" r="3.21" fill="#c0c0c0"/>
<circle cx="1206.37" cy="504.79" r="1.6" fill="#80600a"/>
<circle cx="1242.54" cy="504.79" r="3.21" fill="#c0c0c0"/>
<circle cx="1242.54" cy="504.79" r="1.6" fill="#80600a"/>
<circle cx="1206.37" cy="519.96" r="3.21" fill="#c0c0c0"/>
<circle cx="1206.37" cy="519.96" r="1.6" fill="#80600a"/>
<circle cx="1242.54" cy="519.96" r="3.21" fill="#c0c0c0"/>
<circle cx="1242.54" cy="519.96" r="1.6" fill="#80600a"/>
<circle cx="1213.66" cy="530.46" r="3.21" fill="#c0c0c0"/>
<circle cx="1213.66" cy="530.46" r="1.6" fill="#80600a"/>
<circle cx="1225.04" cy="533.96" r="3.21" fill="#c0c0c0"/>
<circle cx="1225.04" cy="533.96" r="1.6" fill="#80600a"/>
<circle cx="1235.54" cy="530.46" r="3.21" fill="#c0c0c0"/>
<circle cx="1235.54" cy="530.46" r="1.6" fill="#80600a"/>
<circle cx="1225.04" cy="482.92" r="9.62" fill="#c0c0c0"/>
<circle cx="1225.04" cy="482.15" r="2.6" fill="#008c8c"/>
<text x="1225.04" y="487.73" font-size="3.79" fill="#f0e088" font-family='"Liberation Sans", sans-serif' text-anchor="middle">+VCC23</text>
<circle cx="1225.04" cy="511.21" r="9.62" fill="#c0c0c0"/>
<circle cx="1225.04" cy="510.44" r="2.6" fill="#008c8c"/>
<text x="1225.04" y="516.02" font-size="3.79" fill="#f0e088" font-family='"Liberation Sans", sans-serif' text-anchor="middle">GND23</text>
<rect x="1043.19" y="425.02" width="19.83" height="38.21" fill="#000000" stroke="#ffff00" stroke-width="2.62"/>
<rect x="1048.87" y="429.54" width="9.33" height="9.62" fill="#ff0000"/>
<rect x="1048.87" y="449.37" width="9.33" height="9.62" fill="#ff0000"/>
<circle cx="1060.25" cy="440.33" r="3.5" fill="#c0c0c0"/>
<circle cx="1060.25" cy="440.33" r="1.75" fill="#80600a"/>
<circle cx="1045.67" cy="447.62" r="3.5" fill="#c0c0c0"/>
<circle cx="1045.67" cy="447.62" r="1.75" fill="#80600a"/>
<rect x="1043.19" y="533.23" width="19.83" height="38.21" fill="#000000" stroke="#ffff00" stroke-width="2.62"/>
<rect x="1048.87" y="537.75" width="9.33" height="9.62" fill="#ff0000"/>
<rect x="1048.87" y="557.58" width="9.33" height="9.62" fill="#ff0000"/>
<circle cx="1060.25" cy="548.54" r="3.5" fill="#c0c0c0"/>
<circle cx="1060.25" cy="548.54" r="1.75" fill="#80600a"/>
<circle cx="1045.67" cy="555.83" r="3.5" fill="#c0c0c0"/>
<circle cx="1045.67" cy="555.83" r="1.75" fill="#80600a"/>
<rect x="1079.21" y="425.02" width="19.83" height="38.21" fill="#000000" stroke="#ffff00" stroke-width="2.62"/>
<rect x="1084.9" y="429.54" width="9.33" height="9.62" fill="#ff0000"/>
<rect x="1084.9" y="449.37" width="9.33" height="9.62" fill="#ff0000"/>
<circle cx="1096.27" cy="440.33" r="3.5" fill="#c0c0c0"/>
<circle cx="1096.27" cy="440.33" r="1.75" fill="#80600a"/>
<circle cx="1081.69" cy="447.62" r="3.5" fill="#c0c0c0"/>
<circle cx="1081.69" cy="447.62" r="1.75" fill="#80600a"/>
<rect x="1079.21" y="533.23" width="19.83" height="38.21" fill="#000000" stroke="#ffff00" stroke-width="2.62"/>
<rect x="1084.9" y="537.75" width="9.33" height="9.62" fill="#ff0000"/>
<rect x="1084.9" y="557.58" width="9.33" height="9.62" fill="#ff0000"/>
<circle cx="1096.27" cy="548.54" r="3.5" fill="#c0c0c0"/>
<circle cx="1096.27" cy="548.54" r="1.75" fill="#80600a"/>
<circle cx="1081.69" cy="555.83" r="3.5" fill="#c0c0c0"/>
<circle cx="1081.69" cy="555.83" r="1.75" fill="#80600a"/>
<rect x="1115.23" y="425.02" width="19.83" height="38.21" fill="#000000" stroke="#ffff00" stroke-width="2.62"/>
<rect x="1120.92" y="429.54" width="9.33" height="9.62" fill="#ff0000"/>
<rect x="1120.92" y="449.37" width="9.33" height="9.62" fill="#ff0000"/>
<circle cx="1132.29" cy="440.33" r="3.5" fill="#c0c0c0"/>
<circle cx="1132.29" cy="440.33" r="1.75" fill="#80600a"/>
<circle cx="1117.71" cy="447.62" r="3.5" fill="#c0c0c0"/>
<circle cx="1117.71" cy="447.62" r="1.75" fill="#80600a"/>
<rect x="1115.23" y="533.23" width="19.83" height="38.21" fill="#000000" stroke="#ffff00" stroke-width="2.62"/>
<rect x="1120.92" y="537.75" width="9.33" height="9.62" fill="#ff0000"/>
<rect x="1120.92" y="557.58" width="9.33" height="9.62" fill="#ff0000"/>
<circle cx="1132.29" cy="548.54" r="3.5" fill="#c0c0c0"/>
<circle cx="1132.29" cy="548.54" r="1.75" fill="#80600a"/>
<circle cx="1117.71" cy="555.83" r="3.5" fill="#c0c0c0"/>
<circle cx="1117.71" cy="555.83" r="1.75" fill="#80600a"/>
<rect x="1151.1" y="425.02" width="19.83" height="38.21" fill="#000000" stroke="#ffff00" stroke-width="2.62"/>
<rect x="1156.79" y="429.54" width="9.33" height="9.62" fill="#ff0000"/>
<rect x="1156.79" y="449.37" width="9.33" height="9.62" fill="#ff0000"/>
<circle cx="1168.17" cy="440.33" r="3.5" fill="#c0c0c0"/>
<circle cx="1168.17" cy="440.33" r="1.75" fill="#80600a"/>
<circle cx="1153.58" cy="447.62" r="3.5" fill="#c0c0c0"/>
<circle cx="1153.58" cy="447.62" r="1.75" fill="#80600a"/>
<rect x="1151.1" y="533.23" width="19.83" height="38.21" fill="#000000" stroke="#ffff00" stroke-width="2.62"/>
<rect x="1156.79" y="537.75" width="9.33" height="9.62" fill="#ff0000"/>
<rect x="1156.79" y="557.58" width="9.33" height="9.62" fill="#ff0000"/>
<circle cx="1168.17" cy="548.54" r="3.5" fill="#c0c0c0"/>
<circle cx="1168.17" cy="548.54" r="1.75" fill="#80600a"/>
<circle cx="1153.58" cy="555.83" r="3.5" fill="#c0c0c0"/>
<circle cx="1153.58" cy="555.83" r="1.75" fill="#80600a"/>
<rect x="1186.98" y="425.02" width="19.83" height="38.21" fill="#000000" stroke="#ffff00" stroke-width="2.62"/>
<rect x="1192.66" y="429.54" width="9.33" height="9.62" fill="#ff0000"/>
<rect x="1192.66" y="449.37" width="9.33" height="9.62" fill="#ff0000"/>
<circle cx="1204.04" cy="440.33" r="3.5" fill="#c0c0c0"/>
<circle cx="1204.04" cy="440.33" r="1.75" fill="#80600a"/>
<circle cx="1189.46" cy="447.62" r="3.5" fill="#c0c0c0"/>
<circle cx="1189.46" cy="447.62" r="1.75" fill="#80600a"/>
<rect x="1186.98" y="533.23" width="19.83" height="38.21" fill="#000000" stroke="#ffff00" stroke-width="2.62"/>
<rect x="1192.66" y="537.75" width="9.33" height="9.62" fill="#ff0000"/>
<rect x="1192.66" y="557.58" width="9.33" height="9.62" fill="#ff0000"/>
<circle cx="1204.04" cy="548.54" r="3.5" fill="#c0c0c0"/>
<circle cx="1204.04" cy="548.54" r="1.75" fill="#80600a"/>
<circle cx="1189.46" cy="555.83" r="3.5" fill="#c0c0c0"/>
<circle cx="1189.46" cy="555.83" r="1.75" fill="#80600a"/>
<text x="1058.79" y="505.08" font-size="22.17" fill="#ffff00" font-family='"DejaVu Sans", "Liberation Sans", sans-serif' letter-spacing="1.1" xml:space="preserve" stroke="#ffff00" stroke-width="0.35">10x 100nF</text>
<rect x="1262.08" y="415.83" width="269.79" height="162.75" fill="#000000"/>
<rect x="1267.91" y="453.17" width="50.75" height="39.96" fill="#ff0000"/>
<rect x="1267.91" y="500.42" width="50.75" height="41.42" fill="#ff0000"/>
<rect x="1475.29" y="453.17" width="50.75" height="39.96" fill="#ff0000"/>
<rect x="1475.29" y="500.42" width="50.75" height="41.42" fill="#ff0000"/>
<circle cx="1282.5" cy="463.96" r="3.21" fill="#c0c0c0"/>
<circle cx="1282.5" cy="463.96" r="1.6" fill="#80600a"/>
<circle cx="1293.29" cy="461.04" r="3.21" fill="#c0c0c0"/>
<circle cx="1293.29" cy="461.04" r="1.6" fill="#80600a"/>
<circle cx="1304.96" cy="463.96" r="3.21" fill="#c0c0c0"/>
<circle cx="1304.96" cy="463.96" r="1.6" fill="#80600a"/>
<circle cx="1275.21" cy="474.75" r="3.21" fill="#c0c0c0"/>
<circle cx="1275.21" cy="474.75" r="1.6" fill="#80600a"/>
<circle cx="1311.66" cy="474.75" r="3.21" fill="#c0c0c0"/>
<circle cx="1311.66" cy="474.75" r="1.6" fill="#80600a"/>
<circle cx="1275.21" cy="488.75" r="3.21" fill="#c0c0c0"/>
<circle cx="1275.21" cy="488.75" r="1.6" fill="#80600a"/>
<circle cx="1311.66" cy="488.75" r="3.21" fill="#c0c0c0"/>
<circle cx="1311.66" cy="488.75" r="1.6" fill="#80600a"/>
<circle cx="1275.21" cy="504.21" r="3.21" fill="#c0c0c0"/>
<circle cx="1275.21" cy="504.21" r="1.6" fill="#80600a"/>
<circle cx="1311.66" cy="504.21" r="3.21" fill="#c0c0c0"/>
<circle cx="1311.66" cy="504.21" r="1.6" fill="#80600a"/>
<circle cx="1275.21" cy="519.37" r="3.21" fill="#c0c0c0"/>
<circle cx="1275.21" cy="519.37" r="1.6" fill="#80600a"/>
<circle cx="1311.66" cy="519.37" r="3.21" fill="#c0c0c0"/>
<circle cx="1311.66" cy="519.37" r="1.6" fill="#80600a"/>
<circle cx="1282.5" cy="529.58" r="3.21" fill="#c0c0c0"/>
<circle cx="1282.5" cy="529.58" r="1.6" fill="#80600a"/>
<circle cx="1293.29" cy="533.96" r="3.21" fill="#c0c0c0"/>
<circle cx="1293.29" cy="533.96" r="1.6" fill="#80600a"/>
<circle cx="1304.96" cy="529.58" r="3.21" fill="#c0c0c0"/>
<circle cx="1304.96" cy="529.58" r="1.6" fill="#80600a"/>
<circle cx="1293.29" cy="481.46" r="9.62" fill="#c0c0c0"/>
<circle cx="1293.29" cy="480.69" r="2.6" fill="#008c8c"/>
<text x="1293.29" y="486.27" font-size="3.79" fill="#f0e088" font-family='"Liberation Sans", sans-serif' text-anchor="middle">+VCC22</text>
<circle cx="1293.29" cy="511.5" r="9.62" fill="#c0c0c0"/>
<circle cx="1293.29" cy="510.73" r="2.6" fill="#008c8c"/>
<text x="1293.29" y="516.31" font-size="3.79" fill="#f0e088" font-family='"Liberation Sans", sans-serif' text-anchor="middle">GND22</text>
<circle cx="1489.58" cy="463.96" r="3.21" fill="#c0c0c0"/>
<circle cx="1489.58" cy="463.96" r="1.6" fill="#80600a"/>
<circle cx="1500.37" cy="461.04" r="3.21" fill="#c0c0c0"/>
<circle cx="1500.37" cy="461.04" r="1.6" fill="#80600a"/>
<circle cx="1512.04" cy="463.96" r="3.21" fill="#c0c0c0"/>
<circle cx="1512.04" cy="463.96" r="1.6" fill="#80600a"/>
<circle cx="1482.29" cy="474.75" r="3.21" fill="#c0c0c0"/>
<circle cx="1482.29" cy="474.75" r="1.6" fill="#80600a"/>
<circle cx="1518.75" cy="474.75" r="3.21" fill="#c0c0c0"/>
<circle cx="1518.75" cy="474.75" r="1.6" fill="#80600a"/>
<circle cx="1482.29" cy="488.75" r="3.21" fill="#c0c0c0"/>
<circle cx="1482.29" cy="488.75" r="1.6" fill="#80600a"/>
<circle cx="1518.75" cy="488.75" r="3.21" fill="#c0c0c0"/>
<circle cx="1518.75" cy="488.75" r="1.6" fill="#80600a"/>
<circle cx="1482.29" cy="504.21" r="3.21" fill="#c0c0c0"/>
<circle cx="1482.29" cy="504.21" r="1.6" fill="#80600a"/>
<circle cx="1518.75" cy="504.21" r="3.21" fill="#c0c0c0"/>
<circle cx="1518.75" cy="504.21" r="1.6" fill="#80600a"/>
<circle cx="1482.29" cy="519.37" r="3.21" fill="#c0c0c0"/>
<circle cx="1482.29" cy="519.37" r="1.6" fill="#80600a"/>
<circle cx="1518.75" cy="519.37" r="3.21" fill="#c0c0c0"/>
<circle cx="1518.75" cy="519.37" r="1.6" fill="#80600a"/>
<circle cx="1489.58" cy="529.58" r="3.21" fill="#c0c0c0"/>
<circle cx="1489.58" cy="529.58" r="1.6" fill="#80600a"/>
<circle cx="1500.37" cy="533.96" r="3.21" fill="#c0c0c0"/>
<circle cx="1500.37" cy="533.96" r="1.6" fill="#80600a"/>
<circle cx="1512.04" cy="529.58" r="3.21" fill="#c0c0c0"/>
<circle cx="1512.04" cy="529.58" r="1.6" fill="#80600a"/>
<circle cx="1500.37" cy="481.46" r="9.62" fill="#c0c0c0"/>
<circle cx="1500.37" cy="480.69" r="2.6" fill="#008c8c"/>
<text x="1500.37" y="486.27" font-size="3.79" fill="#f0e088" font-family='"Liberation Sans", sans-serif' text-anchor="middle">+VCC22</text>
<circle cx="1500.37" cy="511.5" r="9.62" fill="#c0c0c0"/>
<circle cx="1500.37" cy="510.73" r="2.6" fill="#008c8c"/>
<text x="1500.37" y="516.31" font-size="3.79" fill="#f0e088" font-family='"Liberation Sans", sans-serif' text-anchor="middle">GND22</text>
<rect x="1312.98" y="422.98" width="19.83" height="38.21" fill="#000000" stroke="#ffff00" stroke-width="2.62"/>
<rect x="1318.66" y="427.5" width="9.33" height="9.62" fill="#ff0000"/>
<rect x="1318.66" y="447.33" width="9.33" height="9.62" fill="#ff0000"/>
<circle cx="1330.04" cy="438.29" r="3.5" fill="#c0c0c0"/>
<circle cx="1330.04" cy="438.29" r="1.75" fill="#80600a"/>
<circle cx="1315.46" cy="445.58" r="3.5" fill="#c0c0c0"/>
<circle cx="1315.46" cy="445.58" r="1.75" fill="#80600a"/>
<rect x="1312.98" y="533.23" width="19.83" height="38.21" fill="#000000" stroke="#ffff00" stroke-width="2.62"/>
<rect x="1318.66" y="537.75" width="9.33" height="9.62" fill="#ff0000"/>
<rect x="1318.66" y="557.58" width="9.33" height="9.62" fill="#ff0000"/>
<circle cx="1330.04" cy="548.54" r="3.5" fill="#c0c0c0"/>
<circle cx="1330.04" cy="548.54" r="1.75" fill="#80600a"/>
<circle cx="1315.46" cy="555.83" r="3.5" fill="#c0c0c0"/>
<circle cx="1315.46" cy="555.83" r="1.75" fill="#80600a"/>
<rect x="1350.02" y="422.98" width="19.83" height="38.21" fill="#000000" stroke="#ffff00" stroke-width="2.62"/>
<rect x="1355.71" y="427.5" width="9.33" height="9.62" fill="#ff0000"/>
<rect x="1355.71" y="447.33" width="9.33" height="9.62" fill="#ff0000"/>
<circle cx="1367.08" cy="438.29" r="3.5" fill="#c0c0c0"/>
<circle cx="1367.08" cy="438.29" r="1.75" fill="#80600a"/>
<circle cx="1352.5" cy="445.58" r="3.5" fill="#c0c0c0"/>
<circle cx="1352.5" cy="445.58" r="1.75" fill="#80600a"/>
<rect x="1350.02" y="533.23" width="19.83" height="38.21" fill="#000000" stroke="#ffff00" stroke-width="2.62"/>
<rect x="1355.71" y="537.75" width="9.33" height="9.62" fill="#ff0000"/>
<rect x="1355.71" y="557.58" width="9.33" height="9.62" fill="#ff0000"/>
<circle cx="1367.08" cy="548.54" r="3.5" fill="#c0c0c0"/>
<circle cx="1367.08" cy="548.54" r="1.75" fill="#80600a"/>
<circle cx="1352.5" cy="555.83" r="3.5" fill="#c0c0c0"/>
<circle cx="1352.5" cy="555.83" r="1.75" fill="#80600a"/>
<rect x="1386.77" y="422.98" width="19.83" height="38.21" fill="#000000" stroke="#ffff00" stroke-width="2.62"/>
<rect x="1392.45" y="427.5" width="9.33" height="9.62" fill="#ff0000"/>
<rect x="1392.45" y="447.33" width="9.33" height="9.62" fill="#ff0000"/>
<circle cx="1403.83" cy="438.29" r="3.5" fill="#c0c0c0"/>
<circle cx="1403.83" cy="438.29" r="1.75" fill="#80600a"/>
<circle cx="1389.25" cy="445.58" r="3.5" fill="#c0c0c0"/>
<circle cx="1389.25" cy="445.58" r="1.75" fill="#80600a"/>
<rect x="1386.77" y="533.23" width="19.83" height="38.21" fill="#000000" stroke="#ffff00" stroke-width="2.62"/>
<rect x="1392.45" y="537.75" width="9.33" height="9.62" fill="#ff0000"/>
<rect x="1392.45" y="557.58" width="9.33" height="9.62" fill="#ff0000"/>
<circle cx="1403.83" cy="548.54" r="3.5" fill="#c0c0c0"/>
<circle cx="1403.83" cy="548.54" r="1.75" fill="#80600a"/>
<circle cx="1389.25" cy="555.83" r="3.5" fill="#c0c0c0"/>
<circle cx="1389.25" cy="555.83" r="1.75" fill="#80600a"/>
<rect x="1423.81" y="422.98" width="19.83" height="38.21" fill="#000000" stroke="#ffff00" stroke-width="2.62"/>
<rect x="1429.5" y="427.5" width="9.33" height="9.62" fill="#ff0000"/>
<rect x="1429.5" y="447.33" width="9.33" height="9.62" fill="#ff0000"/>
<circle cx="1440.87" cy="438.29" r="3.5" fill="#c0c0c0"/>
<circle cx="1440.87" cy="438.29" r="1.75" fill="#80600a"/>
<circle cx="1426.29" cy="445.58" r="3.5" fill="#c0c0c0"/>
<circle cx="1426.29" cy="445.58" r="1.75" fill="#80600a"/>
<rect x="1423.81" y="533.23" width="19.83" height="38.21" fill="#000000" stroke="#ffff00" stroke-width="2.62"/>
<rect x="1429.5" y="537.75" width="9.33" height="9.62" fill="#ff0000"/>
<rect x="1429.5" y="557.58" width="9.33" height="9.62" fill="#ff0000"/>
<circle cx="1440.87" cy="548.54" r="3.5" fill="#c0c0c0"/>
<circle cx="1440.87" cy="548.54" r="1.75" fill="#80600a"/>
<circle cx="1426.29" cy="555.83" r="3.5" fill="#c0c0c0"/>
<circle cx="1426.29" cy="555.83" r="1.75" fill="#80600a"/>
<rect x="1460.85" y="422.98" width="19.83" height="38.21" fill="#000000" stroke="#ffff00" stroke-width="2.62"/>
<rect x="1466.54" y="427.5" width="9.33" height="9.62" fill="#ff0000"/>
<rect x="1466.54" y="447.33" width="9.33" height="9.62" fill="#ff0000"/>
<circle cx="1477.91" cy="438.29" r="3.5" fill="#c0c0c0"/>
<circle cx="1477.91" cy="438.29" r="1.75" fill="#80600a"/>
<circle cx="1463.33" cy="445.58" r="3.5" fill="#c0c0c0"/>
<circle cx="1463.33" cy="445.58" r="1.75" fill="#80600a"/>
<rect x="1460.85" y="533.23" width="19.83" height="38.21" fill="#000000" stroke="#ffff00" stroke-width="2.62"/>
<rect x="1466.54" y="537.75" width="9.33" height="9.62" fill="#ff0000"/>
<rect x="1466.54" y="557.58" width="9.33" height="9.62" fill="#ff0000"/>
<circle cx="1477.91" cy="548.54" r="3.5" fill="#c0c0c0"/>
<circle cx="1477.91" cy="548.54" r="1.75" fill="#80600a"/>
<circle cx="1463.33" cy="555.83" r="3.5" fill="#c0c0c0"/>
<circle cx="1463.33" cy="555.83" r="1.75" fill="#80600a"/>
<text x="1337.04" y="505.08" font-size="22.17" fill="#ffff00" font-family='"DejaVu Sans", "Liberation Sans", sans-serif' letter-spacing="1.75" xml:space="preserve" stroke="#ffff00" stroke-width="0.35">10x 10nF</text>
<rect x="1613.33" y="506" width="295" height="297.33" fill="#000000"/>
<rect x="1616.67" y="509.33" width="288.33" height="290.67" fill="#ff0000"/>
<rect x="1613.33" y="651" width="295" height="7.33" fill="#000000"/>
<rect x="1750.5" y="635.5" width="20" height="38.33" fill="none" stroke="#ffff00" stroke-width="2.33"/>
<circle cx="1659" cy="640.67" r="9.33" fill="#c0c0c0"/>
<circle cx="1659" cy="639.92" r="2.52" fill="#008c8c"/>
<text x="1659" y="645.33" font-size="4" fill="#f0e088" font-family='"Liberation Sans", sans-serif' text-anchor="middle">+VCC25</text>
<circle cx="1659" cy="670" r="9.33" fill="#c0c0c0"/>
<circle cx="1659" cy="669.25" r="2.52" fill="#008c8c"/>
<text x="1659" y="674.67" font-size="4" fill="#f0e088" font-family='"Liberation Sans", sans-serif' text-anchor="middle">GND25</text>
<circle cx="1861.67" cy="640.67" r="9.33" fill="#c0c0c0"/>
<circle cx="1861.67" cy="639.92" r="2.52" fill="#008c8c"/>
<text x="1861.67" y="645.33" font-size="4" fill="#f0e088" font-family='"Liberation Sans", sans-serif' text-anchor="middle">+VCC25</text>
<circle cx="1861.67" cy="670" r="9.33" fill="#c0c0c0"/>
<circle cx="1861.67" cy="669.25" r="2.52" fill="#008c8c"/>
<text x="1861.67" y="674.67" font-size="4" fill="#f0e088" font-family='"Liberation Sans", sans-serif' text-anchor="middle">GND25</text>
<text x="1761" y="543.67" font-size="42.67" fill="#ffff00" font-family='"DejaVu Sans", "Liberation Sans", sans-serif' text-anchor="middle" letter-spacing="0.6" stroke="#ffff00" stroke-width="0.5">25</text>
<rect x="1279.67" y="808.91" width="260.65" height="259.13" fill="#000000"/>
<rect x="1282.73" y="811.96" width="254.54" height="253.02" fill="#ff0000"/>
<rect x="1279.67" y="934.14" width="260.65" height="6.36" fill="#000000"/>
<circle cx="1307.67" cy="819.6" r="3.56" fill="#c0c0c0"/>
<circle cx="1307.67" cy="819.6" r="1.78" fill="#80600a"/>
<circle cx="1341.4" cy="819.6" r="3.56" fill="#c0c0c0"/>
<circle cx="1341.4" cy="819.6" r="1.78" fill="#80600a"/>
<circle cx="1375.13" cy="819.6" r="3.56" fill="#c0c0c0"/>
<circle cx="1375.13" cy="819.6" r="1.78" fill="#80600a"/>
<circle cx="1408.85" cy="819.6" r="3.56" fill="#c0c0c0"/>
<circle cx="1408.85" cy="819.6" r="1.78" fill="#80600a"/>
<circle cx="1442.58" cy="819.6" r="3.56" fill="#c0c0c0"/>
<circle cx="1442.58" cy="819.6" r="1.78" fill="#80600a"/>
<circle cx="1476.31" cy="819.6" r="3.56" fill="#c0c0c0"/>
<circle cx="1476.31" cy="819.6" r="1.78" fill="#80600a"/>
<circle cx="1510.03" cy="819.6" r="3.56" fill="#c0c0c0"/>
<circle cx="1510.03" cy="819.6" r="1.78" fill="#80600a"/>
<circle cx="1290.87" cy="836.91" r="3.56" fill="#c0c0c0"/>
<circle cx="1290.87" cy="836.91" r="1.78" fill="#80600a"/>
<circle cx="1324.63" cy="836.91" r="3.56" fill="#c0c0c0"/>
<circle cx="1324.63" cy="836.91" r="1.78" fill="#80600a"/>
<circle cx="1358.38" cy="836.91" r="3.56" fill="#c0c0c0"/>
<circle cx="1358.38" cy="836.91" r="1.78" fill="#80600a"/>
<circle cx="1392.13" cy="836.91" r="3.56" fill="#c0c0c0"/>
<circle cx="1392.13" cy="836.91" r="1.78" fill="#80600a"/>
<circle cx="1425.88" cy="836.91" r="3.56" fill="#c0c0c0"/>
<circle cx="1425.88" cy="836.91" r="1.78" fill="#80600a"/>
<circle cx="1459.63" cy="836.91" r="3.56" fill="#c0c0c0"/>
<circle cx="1459.63" cy="836.91" r="1.78" fill="#80600a"/>
<circle cx="1493.39" cy="836.91" r="3.56" fill="#c0c0c0"/>
<circle cx="1493.39" cy="836.91" r="1.78" fill="#80600a"/>
<circle cx="1527.14" cy="836.91" r="3.56" fill="#c0c0c0"/>
<circle cx="1527.14" cy="836.91" r="1.78" fill="#80600a"/>
<circle cx="1307.67" cy="853.71" r="3.56" fill="#c0c0c0"/>
<circle cx="1307.67" cy="853.71" r="1.78" fill="#80600a"/>
<circle cx="1341.4" cy="853.71" r="3.56" fill="#c0c0c0"/>
<circle cx="1341.4" cy="853.71" r="1.78" fill="#80600a"/>
<circle cx="1375.13" cy="853.71" r="3.56" fill="#c0c0c0"/>
<circle cx="1375.13" cy="853.71" r="1.78" fill="#80600a"/>
<circle cx="1408.85" cy="853.71" r="3.56" fill="#c0c0c0"/>
<circle cx="1408.85" cy="853.71" r="1.78" fill="#80600a"/>
<circle cx="1442.58" cy="853.71" r="3.56" fill="#c0c0c0"/>
<circle cx="1442.58" cy="853.71" r="1.78" fill="#80600a"/>
<circle cx="1476.31" cy="853.71" r="3.56" fill="#c0c0c0"/>
<circle cx="1476.31" cy="853.71" r="1.78" fill="#80600a"/>
<circle cx="1510.03" cy="853.71" r="3.56" fill="#c0c0c0"/>
<circle cx="1510.03" cy="853.71" r="1.78" fill="#80600a"/>
<circle cx="1290.87" cy="870.25" r="3.56" fill="#c0c0c0"/>
<circle cx="1290.87" cy="870.25" r="1.78" fill="#80600a"/>
<circle cx="1324.63" cy="870.25" r="3.56" fill="#c0c0c0"/>
<circle cx="1324.63" cy="870.25" r="1.78" fill="#80600a"/>
<circle cx="1358.38" cy="870.25" r="3.56" fill="#c0c0c0"/>
<circle cx="1358.38" cy="870.25" r="1.78" fill="#80600a"/>
<circle cx="1392.13" cy="870.25" r="3.56" fill="#c0c0c0"/>
<circle cx="1392.13" cy="870.25" r="1.78" fill="#80600a"/>
<circle cx="1425.88" cy="870.25" r="3.56" fill="#c0c0c0"/>
<circle cx="1425.88" cy="870.25" r="1.78" fill="#80600a"/>
<circle cx="1459.63" cy="870.25" r="3.56" fill="#c0c0c0"/>
<circle cx="1459.63" cy="870.25" r="1.78" fill="#80600a"/>
<circle cx="1493.39" cy="870.25" r="3.56" fill="#c0c0c0"/>
<circle cx="1493.39" cy="870.25" r="1.78" fill="#80600a"/>
<circle cx="1527.14" cy="870.25" r="3.56" fill="#c0c0c0"/>
<circle cx="1527.14" cy="870.25" r="1.78" fill="#80600a"/>
<circle cx="1307.67" cy="887.31" r="3.56" fill="#c0c0c0"/>
<circle cx="1307.67" cy="887.31" r="1.78" fill="#80600a"/>
<circle cx="1341.4" cy="887.31" r="3.56" fill="#c0c0c0"/>
<circle cx="1341.4" cy="887.31" r="1.78" fill="#80600a"/>
<circle cx="1375.13" cy="887.31" r="3.56" fill="#c0c0c0"/>
<circle cx="1375.13" cy="887.31" r="1.78" fill="#80600a"/>
<circle cx="1408.85" cy="887.31" r="3.56" fill="#c0c0c0"/>
<circle cx="1408.85" cy="887.31" r="1.78" fill="#80600a"/>
<circle cx="1442.58" cy="887.31" r="3.56" fill="#c0c0c0"/>
<circle cx="1442.58" cy="887.31" r="1.78" fill="#80600a"/>
<circle cx="1476.31" cy="887.31" r="3.56" fill="#c0c0c0"/>
<circle cx="1476.31" cy="887.31" r="1.78" fill="#80600a"/>
<circle cx="1510.03" cy="887.31" r="3.56" fill="#c0c0c0"/>
<circle cx="1510.03" cy="887.31" r="1.78" fill="#80600a"/>
<circle cx="1290.87" cy="904.11" r="3.56" fill="#c0c0c0"/>
<circle cx="1290.87" cy="904.11" r="1.78" fill="#80600a"/>
<circle cx="1324.63" cy="904.11" r="3.56" fill="#c0c0c0"/>
<circle cx="1324.63" cy="904.11" r="1.78" fill="#80600a"/>
<circle cx="1358.38" cy="904.11" r="3.56" fill="#c0c0c0"/>
<circle cx="1358.38" cy="904.11" r="1.78" fill="#80600a"/>
<circle cx="1392.13" cy="904.11" r="3.56" fill="#c0c0c0"/>
<circle cx="1392.13" cy="904.11" r="1.78" fill="#80600a"/>
<circle cx="1425.88" cy="904.11" r="3.56" fill="#c0c0c0"/>
<circle cx="1425.88" cy="904.11" r="1.78" fill="#80600a"/>
<circle cx="1459.63" cy="904.11" r="3.56" fill="#c0c0c0"/>
<circle cx="1459.63" cy="904.11" r="1.78" fill="#80600a"/>
<circle cx="1493.39" cy="904.11" r="3.56" fill="#c0c0c0"/>
<circle cx="1493.39" cy="904.11" r="1.78" fill="#80600a"/>
<circle cx="1527.14" cy="904.11" r="3.56" fill="#c0c0c0"/>
<circle cx="1527.14" cy="904.11" r="1.78" fill="#80600a"/>
<circle cx="1290.87" cy="971.56" r="3.56" fill="#c0c0c0"/>
<circle cx="1290.87" cy="971.56" r="1.78" fill="#80600a"/>
<circle cx="1324.63" cy="971.56" r="3.56" fill="#c0c0c0"/>
<circle cx="1324.63" cy="971.56" r="1.78" fill="#80600a"/>
<circle cx="1358.38" cy="971.56" r="3.56" fill="#c0c0c0"/>
<circle cx="1358.38" cy="971.56" r="1.78" fill="#80600a"/>
<circle cx="1392.13" cy="971.56" r="3.56" fill="#c0c0c0"/>
<circle cx="1392.13" cy="971.56" r="1.78" fill="#80600a"/>
<circle cx="1425.88" cy="971.56" r="3.56" fill="#c0c0c0"/>
<circle cx="1425.88" cy="971.56" r="1.78" fill="#80600a"/>
<circle cx="1459.63" cy="971.56" r="3.56" fill="#c0c0c0"/>
<circle cx="1459.63" cy="971.56" r="1.78" fill="#80600a"/>
<circle cx="1493.39" cy="971.56" r="3.56" fill="#c0c0c0"/>
<circle cx="1493.39" cy="971.56" r="1.78" fill="#80600a"/>
<circle cx="1527.14" cy="971.56" r="3.56" fill="#c0c0c0"/>
<circle cx="1527.14" cy="971.56" r="1.78" fill="#80600a"/>
<circle cx="1307.67" cy="988.36" r="3.56" fill="#c0c0c0"/>
<circle cx="1307.67" cy="988.36" r="1.78" fill="#80600a"/>
<circle cx="1341.4" cy="988.36" r="3.56" fill="#c0c0c0"/>
<circle cx="1341.4" cy="988.36" r="1.78" fill="#80600a"/>
<circle cx="1375.13" cy="988.36" r="3.56" fill="#c0c0c0"/>
<circle cx="1375.13" cy="988.36" r="1.78" fill="#80600a"/>
<circle cx="1408.85" cy="988.36" r="3.56" fill="#c0c0c0"/>
<circle cx="1408.85" cy="988.36" r="1.78" fill="#80600a"/>
<circle cx="1442.58" cy="988.36" r="3.56" fill="#c0c0c0"/>
<circle cx="1442.58" cy="988.36" r="1.78" fill="#80600a"/>
<circle cx="1476.31" cy="988.36" r="3.56" fill="#c0c0c0"/>
<circle cx="1476.31" cy="988.36" r="1.78" fill="#80600a"/>
<circle cx="1510.03" cy="988.36" r="3.56" fill="#c0c0c0"/>
<circle cx="1510.03" cy="988.36" r="1.78" fill="#80600a"/>
<circle cx="1290.87" cy="1004.91" r="3.56" fill="#c0c0c0"/>
<circle cx="1290.87" cy="1004.91" r="1.78" fill="#80600a"/>
<circle cx="1324.63" cy="1004.91" r="3.56" fill="#c0c0c0"/>
<circle cx="1324.63" cy="1004.91" r="1.78" fill="#80600a"/>
<circle cx="1358.38" cy="1004.91" r="3.56" fill="#c0c0c0"/>
<circle cx="1358.38" cy="1004.91" r="1.78" fill="#80600a"/>
<circle cx="1392.13" cy="1004.91" r="3.56" fill="#c0c0c0"/>
<circle cx="1392.13" cy="1004.91" r="1.78" fill="#80600a"/>
<circle cx="1425.88" cy="1004.91" r="3.56" fill="#c0c0c0"/>
<circle cx="1425.88" cy="1004.91" r="1.78" fill="#80600a"/>
<circle cx="1459.63" cy="1004.91" r="3.56" fill="#c0c0c0"/>
<circle cx="1459.63" cy="1004.91" r="1.78" fill="#80600a"/>
<circle cx="1493.39" cy="1004.91" r="3.56" fill="#c0c0c0"/>
<circle cx="1493.39" cy="1004.91" r="1.78" fill="#80600a"/>
<circle cx="1527.14" cy="1004.91" r="3.56" fill="#c0c0c0"/>
<circle cx="1527.14" cy="1004.91" r="1.78" fill="#80600a"/>
<circle cx="1307.67" cy="1021.96" r="3.56" fill="#c0c0c0"/>
<circle cx="1307.67" cy="1021.96" r="1.78" fill="#80600a"/>
<circle cx="1341.4" cy="1021.96" r="3.56" fill="#c0c0c0"/>
<circle cx="1341.4" cy="1021.96" r="1.78" fill="#80600a"/>
<circle cx="1375.13" cy="1021.96" r="3.56" fill="#c0c0c0"/>
<circle cx="1375.13" cy="1021.96" r="1.78" fill="#80600a"/>
<circle cx="1408.85" cy="1021.96" r="3.56" fill="#c0c0c0"/>
<circle cx="1408.85" cy="1021.96" r="1.78" fill="#80600a"/>
<circle cx="1442.58" cy="1021.96" r="3.56" fill="#c0c0c0"/>
<circle cx="1442.58" cy="1021.96" r="1.78" fill="#80600a"/>
<circle cx="1476.31" cy="1021.96" r="3.56" fill="#c0c0c0"/>
<circle cx="1476.31" cy="1021.96" r="1.78" fill="#80600a"/>
<circle cx="1510.03" cy="1021.96" r="3.56" fill="#c0c0c0"/>
<circle cx="1510.03" cy="1021.96" r="1.78" fill="#80600a"/>
<circle cx="1290.87" cy="1038.76" r="3.56" fill="#c0c0c0"/>
<circle cx="1290.87" cy="1038.76" r="1.78" fill="#80600a"/>
<circle cx="1324.63" cy="1038.76" r="3.56" fill="#c0c0c0"/>
<circle cx="1324.63" cy="1038.76" r="1.78" fill="#80600a"/>
<circle cx="1358.38" cy="1038.76" r="3.56" fill="#c0c0c0"/>
<circle cx="1358.38" cy="1038.76" r="1.78" fill="#80600a"/>
<circle cx="1392.13" cy="1038.76" r="3.56" fill="#c0c0c0"/>
<circle cx="1392.13" cy="1038.76" r="1.78" fill="#80600a"/>
<circle cx="1425.88" cy="1038.76" r="3.56" fill="#c0c0c0"/>
<circle cx="1425.88" cy="1038.76" r="1.78" fill="#80600a"/>
<circle cx="1459.63" cy="1038.76" r="3.56" fill="#c0c0c0"/>
<circle cx="1459.63" cy="1038.76" r="1.78" fill="#80600a"/>
<circle cx="1493.39" cy="1038.76" r="3.56" fill="#c0c0c0"/>
<circle cx="1493.39" cy="1038.76" r="1.78" fill="#80600a"/>
<circle cx="1527.14" cy="1038.76" r="3.56" fill="#c0c0c0"/>
<circle cx="1527.14" cy="1038.76" r="1.78" fill="#80600a"/>
<circle cx="1307.67" cy="1055.31" r="3.56" fill="#c0c0c0"/>
<circle cx="1307.67" cy="1055.31" r="1.78" fill="#80600a"/>
<circle cx="1341.4" cy="1055.31" r="3.56" fill="#c0c0c0"/>
<circle cx="1341.4" cy="1055.31" r="1.78" fill="#80600a"/>
<circle cx="1375.13" cy="1055.31" r="3.56" fill="#c0c0c0"/>
<circle cx="1375.13" cy="1055.31" r="1.78" fill="#80600a"/>
<circle cx="1408.85" cy="1055.31" r="3.56" fill="#c0c0c0"/>
<circle cx="1408.85" cy="1055.31" r="1.78" fill="#80600a"/>
<circle cx="1442.58" cy="1055.31" r="3.56" fill="#c0c0c0"/>
<circle cx="1442.58" cy="1055.31" r="1.78" fill="#80600a"/>
<circle cx="1476.31" cy="1055.31" r="3.56" fill="#c0c0c0"/>
<circle cx="1476.31" cy="1055.31" r="1.78" fill="#80600a"/>
<circle cx="1510.03" cy="1055.31" r="3.56" fill="#c0c0c0"/>
<circle cx="1510.03" cy="1055.31" r="1.78" fill="#80600a"/>
<rect x="1323.96" y="920.91" width="170.04" height="34.11" fill="none" stroke="#ffff00" stroke-width="2.55"/>
<line x1="1341.53" y1="920.91" x2="1341.53" y2="955.02" stroke="#ffff00" stroke-width="2.29"/>
<line x1="1358.33" y1="920.91" x2="1358.33" y2="955.02" stroke="#ffff00" stroke-width="2.29"/>
<line x1="1375.13" y1="920.91" x2="1375.13" y2="955.02" stroke="#ffff00" stroke-width="2.29"/>
<line x1="1392.18" y1="920.91" x2="1392.18" y2="955.02" stroke="#ffff00" stroke-width="2.29"/>
<line x1="1408.98" y1="920.91" x2="1408.98" y2="955.02" stroke="#ffff00" stroke-width="2.29"/>
<line x1="1425.78" y1="920.91" x2="1425.78" y2="955.02" stroke="#ffff00" stroke-width="2.29"/>
<line x1="1442.58" y1="920.91" x2="1442.58" y2="955.02" stroke="#ffff00" stroke-width="2.29"/>
<line x1="1459.63" y1="920.91" x2="1459.63" y2="955.02" stroke="#ffff00" stroke-width="2.29"/>
<line x1="1476.43" y1="920.91" x2="1476.43" y2="955.02" stroke="#ffff00" stroke-width="2.29"/>
<circle cx="1320.4" cy="925.24" r="8.15" fill="#c0c0c0"/>
<circle cx="1320.4" cy="924.58" r="2.2" fill="#008c8c"/>
<text x="1320.4" y="929.31" font-size="3.05" fill="#f0e088" font-family='"Liberation Sans", sans-serif' text-anchor="middle">+VCC35</text>
<circle cx="1320.4" cy="950.69" r="8.15" fill="#c0c0c0"/>
<circle cx="1320.4" cy="950.04" r="2.2" fill="#008c8c"/>
<text x="1320.4" y="954.76" font-size="3.05" fill="#f0e088" font-family='"Liberation Sans", sans-serif' text-anchor="middle">GND35</text>
<circle cx="1497.31" cy="925.24" r="8.15" fill="#c0c0c0"/>
<circle cx="1497.31" cy="924.58" r="2.2" fill="#008c8c"/>
<text x="1497.31" y="929.31" font-size="3.05" fill="#f0e088" font-family='"Liberation Sans", sans-serif' text-anchor="middle">+VCC35</text>
<circle cx="1497.31" cy="950.69" r="8.15" fill="#c0c0c0"/>
<circle cx="1497.31" cy="950.04" r="2.2" fill="#008c8c"/>
<text x="1497.31" y="954.76" font-size="3.05" fill="#f0e088" font-family='"Liberation Sans", sans-serif' text-anchor="middle">GND35</text>
<text x="1409.24" y="840.73" font-size="38.69" fill="#ffff00" font-family='"DejaVu Sans", "Liberation Sans", sans-serif' text-anchor="middle" letter-spacing="0.6" stroke="#ffff00" stroke-width="0.5">35</text>
<rect x="1615" y="809.33" width="261" height="259.67" fill="#000000"/>
<rect x="1618.33" y="812.67" width="254.33" height="253" fill="#0000ff"/>
<rect x="1615" y="936" width="261" height="6.33" fill="#000000"/>
<rect x="1660.33" y="922.33" width="170.67" height="34" fill="none" stroke="#807c14" stroke-width="2.67"/>
<line x1="1676.67" y1="922.33" x2="1676.67" y2="956.33" stroke="#807c14" stroke-width="2.67"/>
<line x1="1694" y1="922.33" x2="1694" y2="956.33" stroke="#807c14" stroke-width="2.67"/>
<line x1="1711.33" y1="922.33" x2="1711.33" y2="956.33" stroke="#807c14" stroke-width="2.67"/>
<line x1="1728.67" y1="922.33" x2="1728.67" y2="956.33" stroke="#807c14" stroke-width="2.67"/>
<line x1="1746" y1="922.33" x2="1746" y2="956.33" stroke="#807c14" stroke-width="2.67"/>
<line x1="1763.33" y1="922.33" x2="1763.33" y2="956.33" stroke="#807c14" stroke-width="2.67"/>
<line x1="1780" y1="922.33" x2="1780" y2="956.33" stroke="#807c14" stroke-width="2.67"/>
<line x1="1797.33" y1="922.33" x2="1797.33" y2="956.33" stroke="#807c14" stroke-width="2.67"/>
<line x1="1815" y1="922.33" x2="1815" y2="956.33" stroke="#807c14" stroke-width="2.67"/>
<circle cx="1656" cy="927.33" r="8.67" fill="#c0c0c0"/>
<circle cx="1656" cy="926.64" r="2.34" fill="#008c8c"/>
<text x="1656" y="931.67" font-size="3.33" fill="#f0e088" font-family='"Liberation Sans", sans-serif' text-anchor="middle">+VCC45</text>
<circle cx="1656" cy="951.67" r="8.67" fill="#c0c0c0"/>
<circle cx="1656" cy="950.97" r="2.34" fill="#008c8c"/>
<text x="1656" y="956" font-size="3.33" fill="#f0e088" font-family='"Liberation Sans", sans-serif' text-anchor="middle">GND45</text>
<circle cx="1834.33" cy="927.33" r="8.67" fill="#c0c0c0"/>
<circle cx="1834.33" cy="926.64" r="2.34" fill="#008c8c"/>
<text x="1834.33" y="931.67" font-size="3.33" fill="#f0e088" font-family='"Liberation Sans", sans-serif' text-anchor="middle">+VCC45</text>
<circle cx="1834.33" cy="951.67" r="8.67" fill="#c0c0c0"/>
<circle cx="1834.33" cy="950.97" r="2.34" fill="#008c8c"/>
<text x="1834.33" y="956" font-size="3.33" fill="#f0e088" font-family='"Liberation Sans", sans-serif' text-anchor="middle">GND45</text>
<text x="1746" y="842.33" font-size="39.33" fill="#ffff00" font-family='"DejaVu Sans", "Liberation Sans", sans-serif' text-anchor="middle" letter-spacing="0.6" stroke="#ffff00" stroke-width="0.5">45</text>
<g clip-path="url(#c3d1)">
<rect x="1026.56" y="874.37" width="199.06" height="105" fill="url(#g3d1)"/>
<polygon points="1129.37,919.22 1225.07,915.94 1225.07,946.56 1129.37,946.56" fill="#675c1e"/>
<polygon points="1104.76,895.7 1205.93,874.92 1225.07,874.92 1225.07,915.94 1142.5,940 1133.75,933.44 1115.15,919.22" fill="#c6ad37"/>
<polygon points="1142.5,940 1225.07,915.94 1225.07,919.44 1149.61,940.22" fill="#8e7a24"/>
<path d="M1133.75 933.44 L1142.5 940" fill="none" stroke="#7c6a1e" stroke-width="0.87" stroke-linecap="round" stroke-linejoin="round"/>
<polygon points="1032.58,909.92 1048.44,937.81 1115.15,919.22 1115.15,922.28 1048.98,940.87 1032.58,912.44" fill="#8e7a24"/>
<polygon points="1032.58,909.92 1096.56,892.42 1115.15,919.22 1048.44,937.81" fill="#c4ab35"/>
<polygon points="1026.56,953.67 1051.72,944.37 1055.22,951.15 1026.56,962.09" fill="#3f380f"/>
<polygon points="1051.17,942.19 1071.41,976.64 1115.15,962.42 1115.15,965.37 1071.41,979.59 1051.17,944.81" fill="#97832a"/>
<polygon points="1051.17,942.19 1116.25,922.5 1139.22,940 1115.15,940 1115.15,962.42 1071.41,976.64" fill="#c5ac36"/>
<ellipse cx="1055.55" cy="911.01" rx="2.41" ry="1.31" fill="#8a7620"/>
<ellipse cx="1068.12" cy="905" rx="2.41" ry="1.31" fill="#8a7620"/>
<ellipse cx="1083.98" cy="902.81" rx="2.41" ry="1.31" fill="#8a7620"/>
<ellipse cx="1098.2" cy="906.64" rx="2.41" ry="1.31" fill="#8a7620"/>
<ellipse cx="1050.08" cy="920.53" rx="2.41" ry="1.31" fill="#8a7620"/>
<ellipse cx="1078.51" cy="917.91" rx="3.72" ry="2.08" fill="#8a7620"/>
<ellipse cx="1105.86" cy="915.39" rx="2.41" ry="1.31" fill="#8a7620"/>
<ellipse cx="1056.64" cy="930.16" rx="2.41" ry="1.31" fill="#8a7620"/>
<ellipse cx="1063.2" cy="941.09" rx="2.41" ry="1.31" fill="#8a7620"/>
<ellipse cx="1093.28" cy="937.81" rx="3.72" ry="2.08" fill="#8a7620"/>
<ellipse cx="1113.51" cy="924.69" rx="2.41" ry="1.31" fill="#8a7620"/>
<ellipse cx="1122.26" cy="935.08" rx="2.41" ry="1.31" fill="#8a7620"/>
<ellipse cx="1070.31" cy="952.03" rx="2.41" ry="1.31" fill="#8a7620"/>
<ellipse cx="1087.26" cy="957.5" rx="2.41" ry="1.31" fill="#8a7620"/>
<ellipse cx="1105.86" cy="954.76" rx="2.41" ry="1.31" fill="#8a7620"/>
<ellipse cx="1113.51" cy="897.34" rx="2.41" ry="1.31" fill="#8a7620"/>
<ellipse cx="1135.94" cy="890.78" rx="2.41" ry="1.31" fill="#8a7620"/>
<ellipse cx="1156.72" cy="884.77" rx="2.41" ry="1.31" fill="#8a7620"/>
<ellipse cx="1176.95" cy="879.3" rx="2.41" ry="1.31" fill="#8a7620"/>
<ellipse cx="1147.42" cy="932.89" rx="2.41" ry="1.31" fill="#8a7620"/>
<ellipse cx="1172.03" cy="924.69" rx="2.41" ry="1.31" fill="#8a7620"/>
<ellipse cx="1194.45" cy="917.03" rx="2.41" ry="1.31" fill="#8a7620"/>
<ellipse cx="1216.33" cy="909.92" rx="2.41" ry="1.31" fill="#8a7620"/>
<path d="M1129.37 929.61 L1105.31 905 L1205.93 876.56" fill="none" stroke="#f6faf6" stroke-width="2.62" stroke-linecap="round" stroke-linejoin="round"/>
<path d="M1129.37 929.61 L1225.07 899.31" fill="none" stroke="#f6faf6" stroke-width="2.84" stroke-linecap="round" stroke-linejoin="round"/>
<path d="M1133.75 896.8 L1152.34 921.41" fill="none" stroke="#f6faf6" stroke-width="2.62" stroke-linecap="round" stroke-linejoin="round"/>
<path d="M1161.09 889.47 L1176.4 912.87" fill="none" stroke="#f6faf6" stroke-width="2.62" stroke-linecap="round" stroke-linejoin="round"/>
<path d="M1185.15 882.91 L1199.37 905.55" fill="none" stroke="#f6faf6" stroke-width="2.62" stroke-linecap="round" stroke-linejoin="round"/>
<path d="M1205.93 876.78 L1225.07 896.25" fill="none" stroke="#f6faf6" stroke-width="2.62" stroke-linecap="round" stroke-linejoin="round"/>
<polygon points="1117.89,897.34 1129.37,894.61 1138.67,905 1126.64,907.73" fill="#e9a722"/>
<polygon points="1117.89,897.34 1126.64,907.73 1129.37,920.31 1119.75,908.5" fill="#c98d18"/>
<polygon points="1126.64,907.73 1138.67,905 1140.31,917.03 1129.37,920.31" fill="#8e8e8e"/>
<polygon points="1126.64,907.73 1138.67,905 1139,907.41 1127.19,910.25" fill="#b4b4b4"/>
<polygon points="1141.4,890.78 1152.89,888.05 1162.19,898.44 1150.15,901.17" fill="#e9a722"/>
<polygon points="1141.4,890.78 1150.15,901.17 1152.89,913.75 1143.26,901.94" fill="#c98d18"/>
<polygon points="1150.15,901.17 1162.19,898.44 1163.83,910.47 1152.89,913.75" fill="#8e8e8e"/>
<polygon points="1150.15,901.17 1162.19,898.44 1162.51,900.84 1150.7,903.69" fill="#b4b4b4"/>
<polygon points="1164.37,884.22 1175.86,881.48 1185.15,891.87 1173.12,894.61" fill="#e9a722"/>
<polygon points="1164.37,884.22 1173.12,894.61 1175.86,907.19 1166.23,895.37" fill="#c98d18"/>
<polygon points="1173.12,894.61 1185.15,891.87 1186.79,903.91 1175.86,907.19" fill="#8e8e8e"/>
<polygon points="1173.12,894.61 1185.15,891.87 1185.48,894.28 1173.67,897.12" fill="#b4b4b4"/>
<polygon points="1185.7,877.11 1197.18,874.37 1206.48,884.77 1194.45,887.5" fill="#e9a722"/>
<polygon points="1185.7,877.11 1194.45,887.5 1197.18,900.08 1187.56,888.27" fill="#c98d18"/>
<polygon points="1194.45,887.5 1206.48,884.77 1208.12,896.8 1197.18,900.08" fill="#8e8e8e"/>
<polygon points="1194.45,887.5 1206.48,884.77 1206.81,887.17 1195,890.02" fill="#b4b4b4"/>
<polygon points="1207.03,870.55 1218.51,867.81 1227.81,878.2 1215.78,880.94" fill="#e9a722"/>
<polygon points="1207.03,870.55 1215.78,880.94 1218.51,893.52 1208.89,881.7" fill="#c98d18"/>
<polygon points="1215.78,880.94 1227.81,878.2 1229.45,890.23 1218.51,893.52" fill="#8e8e8e"/>
<polygon points="1215.78,880.94 1227.81,878.2 1228.14,880.61 1216.33,883.45" fill="#b4b4b4"/>
<polygon points="1030.94,874.37 1036.41,874.37 1037.72,890.56" fill="#e0b515"/>
</g>
<g clip-path="url(#c3d2)">
<rect x="1115" y="940.25" width="155" height="126.62" fill="#c2aa33"/>
<polygon points="1157.5,1060 1187.5,1048.12 1270,1010 1270,1066.88 1135,1066.88" fill="url(#g3d2)"/>
<polygon points="1115,1035 1126.88,1066.88 1115,1066.88" fill="#23231a"/>
<polygon points="1139.38,995 1185,978.75 1270,955 1270,1010 1187.5,1047.5 1158.12,1058.75" fill="#c9b23c"/>
<polygon points="1115,1006.25 1139.38,997.5 1158.12,1058.75 1135,1066.88 1126.88,1066.88 1115,1035" fill="#c6ae38"/>
<polygon points="1176.25,963.12 1270,937.5 1270,952.5 1190,976.5" fill="#c8b03a"/>
<path d="M1176.25 963.12 L1190 976.5 L1270 952.5" fill="none" stroke="#a8942e" stroke-width="0.62" stroke-linecap="round" stroke-linejoin="round"/>
<path d="M1115 1006.5 L1139.38 997.25" fill="none" stroke="#9c8828" stroke-width="0.62" stroke-linecap="round" stroke-linejoin="round"/>
<path d="M1138.75 994 L1185 977.75 L1270 954" fill="none" stroke="#9a8628" stroke-width="0.88" stroke-linecap="round" stroke-linejoin="round"/>
<path d="M1157.5 1059.38 L1187.5 1047.75 L1270 1009.75" fill="none" stroke="#a8942e" stroke-width="0.75" stroke-linecap="round" stroke-linejoin="round"/>
<path d="M1121.25 973.75 L1138.75 994" fill="none" stroke="#a8942e" stroke-width="0.5" stroke-linecap="round" stroke-linejoin="round"/>
<line x1="1141.75" y1="995" x2="1157.38" y2="1053.75" stroke="#d6c04a" stroke-width="1.12"/>
<line x1="1140.62" y1="995" x2="1156.25" y2="1053.75" stroke="#917e26" stroke-width="2.38"/>
<line x1="1147.38" y1="997.5" x2="1156.75" y2="1037.5" stroke="#d6c04a" stroke-width="1.12"/>
<line x1="1146.25" y1="997.5" x2="1155.62" y2="1037.5" stroke="#917e26" stroke-width="2.38"/>
<line x1="1157.38" y1="993.75" x2="1164.88" y2="1032.5" stroke="#d6c04a" stroke-width="1.12"/>
<line x1="1156.25" y1="993.75" x2="1163.75" y2="1032.5" stroke="#917e26" stroke-width="2.38"/>
<line x1="1162.38" y1="992.5" x2="1171.12" y2="1043.75" stroke="#d6c04a" stroke-width="1.12"/>
<line x1="1161.25" y1="992.5" x2="1170" y2="1043.75" stroke="#917e26" stroke-width="2.38"/>
<line x1="1167.38" y1="991.25" x2="1174.88" y2="1031.25" stroke="#d6c04a" stroke-width="1.12"/>
<line x1="1166.25" y1="991.25" x2="1173.75" y2="1031.25" stroke="#917e26" stroke-width="2.38"/>
<line x1="1176.12" y1="987.5" x2="1183.62" y2="1035" stroke="#d6c04a" stroke-width="1.12"/>
<line x1="1175" y1="987.5" x2="1182.5" y2="1035" stroke="#917e26" stroke-width="2.38"/>
<line x1="1181.12" y1="985" x2="1188.62" y2="1045" stroke="#d6c04a" stroke-width="1.12"/>
<line x1="1180" y1="985" x2="1187.5" y2="1045" stroke="#917e26" stroke-width="2.38"/>
<line x1="1187.38" y1="983.75" x2="1193" y2="1026.25" stroke="#d6c04a" stroke-width="1.12"/>
<line x1="1186.25" y1="983.75" x2="1191.88" y2="1026.25" stroke="#917e26" stroke-width="2.38"/>
<line x1="1198.62" y1="980" x2="1203.62" y2="1027.5" stroke="#d6c04a" stroke-width="1.12"/>
<line x1="1197.5" y1="980" x2="1202.5" y2="1027.5" stroke="#917e26" stroke-width="2.38"/>
<line x1="1203.62" y1="978.75" x2="1207.38" y2="1021.25" stroke="#d6c04a" stroke-width="1.12"/>
<line x1="1202.5" y1="978.75" x2="1206.25" y2="1021.25" stroke="#917e26" stroke-width="2.38"/>
<line x1="1214.88" y1="976.25" x2="1217.38" y2="1022.5" stroke="#d6c04a" stroke-width="1.12"/>
<line x1="1213.75" y1="976.25" x2="1216.25" y2="1022.5" stroke="#917e26" stroke-width="2.38"/>
<line x1="1218.62" y1="975" x2="1221.12" y2="1015" stroke="#d6c04a" stroke-width="1.12"/>
<line x1="1217.5" y1="975" x2="1220" y2="1015" stroke="#917e26" stroke-width="2.38"/>
<line x1="1229.88" y1="971.25" x2="1230.5" y2="1017.5" stroke="#d6c04a" stroke-width="1.12"/>
<line x1="1228.75" y1="971.25" x2="1229.38" y2="1017.5" stroke="#917e26" stroke-width="2.38"/>
<line x1="1233" y1="970" x2="1234.25" y2="1010" stroke="#d6c04a" stroke-width="1.12"/>
<line x1="1231.88" y1="970" x2="1233.12" y2="1010" stroke="#917e26" stroke-width="2.38"/>
<line x1="1243.62" y1="966.25" x2="1243" y2="1012.5" stroke="#d6c04a" stroke-width="1.12"/>
<line x1="1242.5" y1="966.25" x2="1241.88" y2="1012.5" stroke="#917e26" stroke-width="2.38"/>
<line x1="1246.12" y1="965.62" x2="1246.75" y2="1005" stroke="#d6c04a" stroke-width="1.12"/>
<line x1="1245" y1="965.62" x2="1245.62" y2="1005" stroke="#917e26" stroke-width="2.38"/>
<line x1="1256.12" y1="962.5" x2="1255.5" y2="1007.5" stroke="#d6c04a" stroke-width="1.12"/>
<line x1="1255" y1="962.5" x2="1254.38" y2="1007.5" stroke="#917e26" stroke-width="2.38"/>
<line x1="1259.25" y1="961.88" x2="1259.25" y2="1000" stroke="#d6c04a" stroke-width="1.12"/>
<line x1="1258.12" y1="961.88" x2="1258.12" y2="1000" stroke="#917e26" stroke-width="2.38"/>
<line x1="1267.38" y1="959.38" x2="1266.75" y2="1002.5" stroke="#d6c04a" stroke-width="1.12"/>
<line x1="1266.25" y1="959.38" x2="1265.62" y2="1002.5" stroke="#917e26" stroke-width="2.38"/>
<ellipse cx="1135" cy="981" rx="1.75" ry="1.12" fill="#8a7620"/>
<ellipse cx="1139.38" cy="973.75" rx="1.75" ry="1.12" fill="#8a7620"/>
<ellipse cx="1148.75" cy="968.75" rx="1.75" ry="1.12" fill="#8a7620"/>
<ellipse cx="1160" cy="967.75" rx="1.75" ry="1.12" fill="#8a7620"/>
<ellipse cx="1171.25" cy="970.62" rx="1.75" ry="1.12" fill="#8a7620"/>
<ellipse cx="1156.25" cy="978.75" rx="1.75" ry="1.12" fill="#8a7620"/>
<ellipse cx="1177.5" cy="976.88" rx="1.75" ry="1.12" fill="#8a7620"/>
<ellipse cx="1138.75" cy="988.12" rx="1.75" ry="1.12" fill="#8a7620"/>
<ellipse cx="1182.5" cy="963.5" rx="1.75" ry="1.12" fill="#8a7620"/>
<ellipse cx="1195" cy="964.75" rx="1.75" ry="1.12" fill="#8a7620"/>
<ellipse cx="1199.38" cy="958.5" rx="1.75" ry="1.12" fill="#8a7620"/>
<ellipse cx="1211.88" cy="960" rx="1.75" ry="1.12" fill="#8a7620"/>
<ellipse cx="1215" cy="954" rx="1.75" ry="1.12" fill="#8a7620"/>
<ellipse cx="1227.5" cy="955.25" rx="1.75" ry="1.12" fill="#8a7620"/>
<ellipse cx="1230.62" cy="949.75" rx="1.75" ry="1.12" fill="#8a7620"/>
<ellipse cx="1242.5" cy="951" rx="1.75" ry="1.12" fill="#8a7620"/>
<ellipse cx="1245.62" cy="946" rx="1.75" ry="1.12" fill="#8a7620"/>
<ellipse cx="1256.88" cy="947" rx="1.75" ry="1.12" fill="#8a7620"/>
<ellipse cx="1258.75" cy="941.88" rx="1.75" ry="1.12" fill="#8a7620"/>
<ellipse cx="1268.75" cy="942.75" rx="1.75" ry="1.12" fill="#8a7620"/>
</g>
<path d="M683.75 168.75C688.96 167.29 703.54 162.08 715 160C726.46 157.92 740 156.67 752.5 156.25C765 155.83 777.5 156.67 790 157.5C802.5 158.33 817.71 160.21 827.5 161.25C837.29 162.29 845.21 163.33 848.75 163.75" fill="none" stroke="#ff0000" stroke-width="3.5" stroke-linecap="round" stroke-linejoin="round"/>
<path d="M831.25 148L848.75 163" fill="none" stroke="#ff0000" stroke-width="3.5" stroke-linecap="round"/>
<path d="M822 180.75L849.5 165" fill="none" stroke="#ff0000" stroke-width="3.5" stroke-linecap="round"/>
<path d="M1053 134.25C1050 135.21 1042.17 136.12 1035 140C1027.83 143.88 1018.33 150.83 1010 157.5C1001.67 164.17 993.33 172.08 985 180C976.67 187.92 968.33 196.67 960 205C951.67 213.33 943.33 222.5 935 230C926.67 237.5 918.33 242.5 910 250C901.67 257.5 892.5 266.67 885 275C877.5 283.33 870.62 293.12 865 300C859.38 306.88 853.54 313.54 851.25 316.25" fill="none" stroke="#ff0000" stroke-width="3.5" stroke-linecap="round" stroke-linejoin="round"/>
<path d="M858.75 290L850.5 316.25" fill="none" stroke="#ff0000" stroke-width="3.5" stroke-linecap="round"/>
<path d="M877.5 299.5L851.25 315.5" fill="none" stroke="#ff0000" stroke-width="3.5" stroke-linecap="round"/>
<path d="M1185 144.25C1183.33 146.46 1179.17 153.62 1175 157.5C1170.83 161.38 1166.67 164.58 1160 167.5C1153.33 170.42 1143.33 172.5 1135 175C1126.67 177.5 1120.42 179.17 1110 182.5C1099.58 185.83 1085 190.42 1072.5 195C1060 199.58 1047.5 204.58 1035 210C1022.5 215.42 1007.92 221.67 997.5 227.5C987.08 233.33 980.83 237.92 972.5 245C964.17 252.08 955.83 260.83 947.5 270C939.17 279.17 930.83 290.83 922.5 300C914.17 309.17 905.83 317.08 897.5 325C889.17 332.92 880.21 341.04 872.5 347.5C864.79 353.96 854.79 361.04 851.25 363.75" fill="none" stroke="#ff0000" stroke-width="3.5" stroke-linecap="round" stroke-linejoin="round"/>
<path d="M860 345L850.5 363.75" fill="none" stroke="#ff0000" stroke-width="3.5" stroke-linecap="round"/>
<path d="M881.25 352.5L851.25 363.75" fill="none" stroke="#ff0000" stroke-width="3.5" stroke-linecap="round"/>
<path d="M1115 245C1110 245.42 1096.25 247.08 1085 247.5C1073.75 247.92 1056.67 246.67 1047.5 247.5C1038.33 248.33 1036.25 249.58 1030 252.5C1023.75 255.42 1015.83 260.42 1010 265C1004.17 269.58 1000 275.83 995 280C990 284.17 986.67 286.25 980 290C973.33 293.75 962.5 298.33 955 302.5C947.5 306.67 941.67 310.42 935 315C928.33 319.58 920.83 323.33 915 330C909.17 336.67 904 346.67 900 355C896 363.33 893.22 373.05 891 380C888.78 386.95 887.98 391.15 886.7 396.7C885.42 402.25 884.42 406.92 883.3 413.3C882.18 419.68 880.97 428.05 880 435C879.03 441.95 878.33 447.5 877.5 455C876.67 462.5 875.83 471.67 875 480C874.17 488.33 873.2 496.67 872.5 505C871.8 513.33 871.13 520.83 870.8 530C870.47 539.17 870.35 549.5 870.5 560C870.65 570.5 871.78 581.88 871.7 593C871.62 604.12 870.57 615.53 870 626.7C869.43 637.87 869.42 650 868.3 660C867.18 670 865.52 678.92 863.3 686.7C861.08 694.48 857.3 701.82 855 706.7C852.7 711.58 850.42 714.45 849.5 716" fill="none" stroke="#ff0000" stroke-width="3.5" stroke-linecap="round" stroke-linejoin="round"/>
<path d="M868.3 699L850 715" fill="none" stroke="#ff0000" stroke-width="3.5" stroke-linecap="round"/>
<path d="M841 700L849 715" fill="none" stroke="#ff0000" stroke-width="3.5" stroke-linecap="round"/>
<path d="M1007.5 353.3C1003.75 352.75 992.92 350.75 985 350C977.08 349.25 967.5 348.38 960 348.8C952.5 349.22 945.83 349.8 940 352.5C934.17 355.2 928.83 360.42 925 365C921.17 369.58 918.53 374.72 917 380C915.47 385.28 916.27 391.15 915.8 396.7C915.33 402.25 914.75 406.92 914.2 413.3C913.65 419.68 913.33 428.05 912.5 435C911.67 441.95 910.32 447.5 909.2 455C908.08 462.5 907.2 471.67 905.8 480C904.4 488.33 902.32 496.67 900.8 505C899.28 513.33 897.95 523.05 896.7 530C895.45 536.95 894.5 541.7 893.3 546.7C892.1 551.7 890.88 552.28 889.5 560C888.12 567.72 885.37 581.88 885 593C884.63 604.12 887.13 615.53 887.3 626.7C887.47 637.87 886.05 649.45 886 660C885.95 670.55 886.47 682.22 887 690C887.53 697.78 888.7 701.15 889.2 706.7C889.7 712.25 890 717.75 890 723.3C890 728.85 890.03 734.43 889.2 740C888.37 745.57 887.08 751.98 885 756.7C882.92 761.42 880.03 765.25 876.7 768.3C873.37 771.35 869.03 773.75 865 775C860.97 776.25 854.58 775.67 852.5 775.8" fill="none" stroke="#ff0000" stroke-width="3.5" stroke-linecap="round" stroke-linejoin="round"/>
<path d="M866 766.5L852 775.5" fill="none" stroke="#ff0000" stroke-width="3.5" stroke-linecap="round"/>
<path d="M866 782.5L853 776.5" fill="none" stroke="#ff0000" stroke-width="3.5" stroke-linecap="round"/>
<path d="M1016.7 556.7C1012.8 557.25 1000.53 559.45 993.3 560C986.07 560.55 982.18 561.38 973.3 560C964.42 558.62 947.77 551.7 940 551.7C932.23 551.7 930.03 554.17 926.7 560C923.37 565.83 921.78 575.58 920 586.7C918.22 597.82 916.33 614.48 916 626.7C915.67 638.92 917.62 649.45 918 660C918.38 670.55 917.83 682.22 918.3 690C918.77 697.78 920.38 701.15 920.8 706.7C921.22 712.25 921.07 717.75 920.8 723.3C920.53 728.85 920.45 734.43 919.2 740C917.95 745.57 916.22 751.15 913.3 756.7C910.38 762.25 906.13 768.58 901.7 773.3C897.27 778.02 891.98 781.93 886.7 785C881.42 788.07 875.57 790.03 870 791.7C864.43 793.37 856.08 794.45 853.3 795" fill="none" stroke="#ff0000" stroke-width="3.5" stroke-linecap="round" stroke-linejoin="round"/>
<path d="M862 786L853 795" fill="none" stroke="#ff0000" stroke-width="3.5" stroke-linecap="round"/>
<path d="M869 803L853.5 796" fill="none" stroke="#ff0000" stroke-width="3.5" stroke-linecap="round"/>
<path d="M1300 560C1299.72 562.22 1300.52 568.85 1298.3 573.3C1296.08 577.75 1293.08 583.37 1286.7 586.7C1280.32 590.03 1274.45 591.08 1260 593.3C1245.55 595.52 1221.12 597.77 1200 600C1178.88 602.23 1152.75 605.32 1133.3 606.7C1113.85 608.08 1102.73 608.58 1083.3 608.3C1063.87 608.02 1032.8 604.72 1016.7 605C1000.6 605.28 995.03 607.5 986.7 610C978.37 612.5 971.98 615.55 966.7 620C961.42 624.45 957.5 627.25 955 636.7C952.5 646.15 952.7 666.15 951.7 676.7C950.7 687.25 949.42 695 949 700C948.58 705 949.45 702.82 949.2 706.7C948.95 710.58 948.2 717.75 947.5 723.3C946.8 728.85 946.25 733.88 945 740C943.75 746.12 942.5 753.33 940 760C937.5 766.67 933.88 773.88 930 780C926.12 786.12 921.7 791.7 916.7 796.7C911.7 801.7 905.57 806.95 900 810C894.43 813.05 888.85 814.72 883.3 815C877.75 815.28 871.7 813.08 866.7 811.7C861.7 810.32 855.53 807.53 853.3 806.7" fill="none" stroke="#ff0000" stroke-width="3.5" stroke-linecap="round" stroke-linejoin="round"/>
<path d="M881.7 808L853.5 806.5" fill="none" stroke="#ff0000" stroke-width="3.5" stroke-linecap="round"/>
<path d="M873 823L854 808" fill="none" stroke="#ff0000" stroke-width="3.5" stroke-linecap="round"/>
<path d="M1585 402.7C1585.83 407.75 1588.05 421.78 1590 433C1591.95 444.22 1594.75 458.33 1596.7 470C1598.65 481.67 1600.87 493.55 1601.7 503C1602.53 512.45 1603.15 518.87 1601.7 526.7C1600.25 534.53 1597.17 542.28 1593 550C1588.83 557.72 1584.42 566.33 1576.7 573C1568.98 579.67 1560.03 585.22 1546.7 590C1533.37 594.78 1513.37 599.53 1496.7 601.7C1480.03 603.87 1465.65 602.17 1446.7 603C1427.75 603.83 1401.95 604.42 1383 606.7C1364.05 608.98 1352.38 613.37 1333 616.7C1313.62 620.03 1288.87 623.65 1266.7 626.7C1244.53 629.75 1222.28 634.17 1200 635C1177.72 635.83 1152.5 631.7 1133 631.7C1113.5 631.7 1096.83 633.12 1083 635C1069.17 636.88 1059.38 640.5 1050 643C1040.62 645.5 1033.92 647.17 1026.7 650C1019.48 652.83 1011.7 655.55 1006.7 660C1001.7 664.45 999.48 670.03 996.7 676.7C993.92 683.37 991.4 695 990 700C988.6 705 988.85 702.82 988.3 706.7C987.75 710.58 987.38 717.75 986.7 723.3C986.02 728.85 985.32 733.88 984.2 740C983.08 746.12 981.82 753.33 980 760C978.18 766.67 976.08 773.88 973.3 780C970.52 786.12 967.18 791.7 963.3 796.7C959.42 801.7 955.83 805.57 950 810C944.17 814.43 936.08 819.42 928.3 823.3C920.52 827.18 910.8 831.22 903.3 833.3C895.8 835.38 889.4 836.35 883.3 835.8C877.2 835.25 871.97 833.05 866.7 830C861.43 826.95 854.2 819.58 851.7 817.5" fill="none" stroke="#ff0000" stroke-width="3.5" stroke-linecap="round" stroke-linejoin="round"/>
<path d="M861 815.5L851.7 817.5" fill="none" stroke="#ff0000" stroke-width="3.5" stroke-linecap="round"/>
<path d="M858 838L852 818.5" fill="none" stroke="#ff0000" stroke-width="3.5" stroke-linecap="round"/>
<path d="M1615 608C1606.33 609.45 1580 613.58 1563 616.7C1546 619.82 1532.38 624.37 1513 626.7C1493.62 629.03 1468.87 630.03 1446.7 630.7C1424.53 631.37 1404.45 629.43 1380 630.7C1355.55 631.97 1324.5 635.08 1300 638.3C1275.5 641.52 1255.22 646.38 1233 650C1210.78 653.62 1186.08 658.62 1166.7 660C1147.32 661.38 1130.65 658.3 1116.7 658.3C1102.75 658.3 1092.45 658.05 1083 660C1073.55 661.95 1067.17 665.55 1060 670C1052.83 674.45 1045.17 681.7 1040 686.7C1034.83 691.7 1032.33 695.28 1029 700C1025.67 704.72 1021.92 708.33 1020 715C1018.08 721.67 1018.62 732.5 1017.5 740C1016.38 747.5 1014.83 753.88 1013.3 760C1011.77 766.12 1010.52 771.15 1008.3 776.7C1006.08 782.25 1003.6 787.75 1000 793.3C996.4 798.85 991.7 805 986.7 810C981.7 815 976.95 818.85 970 823.3C963.05 827.75 953.33 832.53 945 836.7C936.67 840.87 928.33 844.97 920 848.3C911.67 851.63 902.5 855.17 895 856.7C887.5 858.23 881.12 858.62 875 857.5C868.88 856.38 862.75 852.63 858.3 850C853.85 847.37 849.97 843.08 848.3 841.7" fill="none" stroke="#ff0000" stroke-width="3.5" stroke-linecap="round" stroke-linejoin="round"/>
<path d="M866 843L848.5 841" fill="none" stroke="#ff0000" stroke-width="3.5" stroke-linecap="round"/>
<path d="M852.5 861.5L848.5 842" fill="none" stroke="#ff0000" stroke-width="3.5" stroke-linecap="round"/>
<path d="M1643.3 856.7C1638.3 855.58 1622.73 854.45 1613.3 850C1603.87 845.55 1594.47 838.88 1586.7 830C1578.93 821.12 1573.37 809.48 1566.7 796.7C1560.03 783.92 1553.37 764.42 1546.7 753.3C1540.03 742.18 1533.37 735.88 1526.7 730C1520.03 724.12 1514.48 721.88 1506.7 718C1498.92 714.12 1490 710.7 1480 706.7C1470 702.7 1463.37 696.7 1446.7 694C1430.03 691.3 1404.45 690.62 1380 690.5C1355.55 690.38 1324.5 692.83 1300 693.3C1275.5 693.77 1255.22 691.68 1233 693.3C1210.78 694.92 1182.2 700.77 1166.7 703C1151.2 705.23 1147.78 704.98 1140 706.7C1132.22 708.42 1127.5 710.53 1120 713.3C1112.5 716.07 1101.95 719.68 1095 723.3C1088.05 726.92 1083.85 730.83 1078.3 735C1072.75 739.17 1066.42 743.3 1061.7 748.3C1056.98 753.3 1054.17 759.17 1050 765C1045.83 770.83 1041.42 777.47 1036.7 783.3C1031.98 789.13 1026.7 795 1021.7 800C1016.7 805 1011.98 808.3 1006.7 813.3C1001.42 818.3 995.57 824.43 990 830C984.43 835.57 979.42 841.7 973.3 846.7C967.18 851.7 960.23 856.4 953.3 860C946.37 863.6 939.47 865.8 931.7 868.3C923.93 870.8 914.77 872.77 906.7 875C898.63 877.23 889.7 879.48 883.3 881.7C876.9 883.92 872.47 885.25 868.3 888.3C864.13 891.35 861.07 895.83 858.3 900C855.53 904.17 852.8 911.08 851.7 913.3" fill="none" stroke="#ff0000" stroke-width="3.5" stroke-linecap="round" stroke-linejoin="round"/>
<path d="M856.7 885.8L850 915" fill="none" stroke="#ff0000" stroke-width="3.5" stroke-linecap="round"/>
<path d="M876.7 898.3L851 915" fill="none" stroke="#ff0000" stroke-width="3.5" stroke-linecap="round"/>
<path d="M1280 836.7C1272.17 836.92 1251.88 836.95 1233 838C1214.12 839.05 1187.2 840.58 1166.7 843C1146.2 845.42 1122.78 850.22 1110 852.5C1097.22 854.78 1097.5 854.62 1090 856.7C1082.5 858.78 1073.33 862.23 1065 865C1056.67 867.77 1048.33 869.97 1040 873.3C1031.67 876.63 1023.33 881.1 1015 885C1006.67 888.9 998.33 893.08 990 896.7C981.67 900.32 973.33 903.65 965 906.7C956.67 909.75 948.33 912.5 940 915C931.67 917.5 923.33 919.9 915 921.7C906.67 923.5 898.33 925.12 890 925.8C881.67 926.48 871.67 926.22 865 925.8C858.33 925.38 852.5 923.72 850 923.3" fill="none" stroke="#ff0000" stroke-width="3.5" stroke-linecap="round" stroke-linejoin="round"/>
<path d="M868.3 916.7L850 923" fill="none" stroke="#ff0000" stroke-width="3.5" stroke-linecap="round"/>
<path d="M863.3 932.5L850.5 924" fill="none" stroke="#ff0000" stroke-width="3.5" stroke-linecap="round"/>
<path d="M831.7 980C831.13 975 829.7 960.55 828.3 950C826.9 939.45 824.68 927.82 823.3 916.7C821.92 905.58 820.97 891.63 820 883.3C819.03 874.97 818.05 871.42 817.5 866.7C816.95 861.98 816 858.9 816.7 855C817.4 851.1 819.48 846.5 821.7 843.3C823.92 840.1 826.95 837.73 830 835.8C833.05 833.87 838.33 832.38 840 831.7" fill="none" stroke="#ff0000" stroke-width="3.5" stroke-linecap="round" stroke-linejoin="round"/>
<path d="M825.8 827.5L840 831.3" fill="none" stroke="#ff0000" stroke-width="3.5" stroke-linecap="round"/>
<path d="M830 845L840 832" fill="none" stroke="#ff0000" stroke-width="3.5" stroke-linecap="round"/>
<path d="M280 833.33C285 830.28 300.56 819.44 310 815C319.44 810.56 324.44 808.33 336.67 806.67C348.89 805 367.22 805 383.33 805C399.44 805 416.67 806.67 433.33 806.67C450 806.67 466.67 804.72 483.33 805C500 805.28 516.67 808.33 533.33 808.33C550 808.33 566.67 806.94 583.33 805C600 803.06 616.67 800 633.33 796.67C650 793.33 669.44 788.89 683.33 785C697.22 781.11 705.56 778.33 716.67 773.33C727.78 768.33 738.89 760.56 750 755C761.11 749.44 772.22 743.89 783.33 740C794.44 736.11 806.11 733.33 816.67 731.67C827.22 730 841.67 730.28 846.67 730" fill="none" stroke="#ff0000" stroke-width="3.5" stroke-linecap="round" stroke-linejoin="round"/>
<path d="M823.33 716.67L846.67 729.33" fill="none" stroke="#ff0000" stroke-width="3.5" stroke-linecap="round"/>
<path d="M820 743.33L846.67 731.67" fill="none" stroke="#ff0000" stroke-width="3.5" stroke-linecap="round"/>
<path d="M318.33 870C322.5 866.11 335.28 852.78 343.33 846.67C351.39 840.56 357.22 836.11 366.67 833.33C376.11 830.56 386.11 830.28 400 830C413.89 829.72 433.33 831.11 450 831.67C466.67 832.22 483.33 833.06 500 833.33C516.67 833.61 533.33 834.44 550 833.33C566.67 832.22 583.33 828.89 600 826.67C616.67 824.44 633.33 824.44 650 820C666.67 815.56 686.11 805.56 700 800C713.89 794.44 722.22 791.67 733.33 786.67C744.44 781.67 755.56 774.17 766.67 770C777.78 765.83 790 763.06 800 761.67C810 760.28 819.44 760.28 826.67 761.67C833.89 763.06 840.56 768.61 843.33 770" fill="none" stroke="#ff0000" stroke-width="3.5" stroke-linecap="round" stroke-linejoin="round"/>
<path d="M830.1 759.33Q835.78 765.83 843.33 770" fill="none" stroke="#ff0000" stroke-width="3.5" stroke-linecap="round"/>
<path d="M826.68 776.43Q834.47 771.82 843.33 770" fill="none" stroke="#ff0000" stroke-width="3.5" stroke-linecap="round"/>
<path d="M666.67 880C670.56 876.11 681.67 863.89 690 856.67C698.33 849.44 706.67 843.33 716.67 836.67C726.67 830 738.89 823.33 750 816.67C761.11 810 772.22 802.78 783.33 796.67C794.44 790.56 806.67 783.89 816.67 780C826.67 776.11 838.89 774.44 843.33 773.33" fill="none" stroke="#ff0000" stroke-width="3.5" stroke-linecap="round" stroke-linejoin="round"/>
<path d="M826.45 771.34Q834.72 773.82 843.33 773.33" fill="none" stroke="#ff0000" stroke-width="3.5" stroke-linecap="round"/>
<path d="M832.65 787.64Q836.79 779.59 843.33 773.33" fill="none" stroke="#ff0000" stroke-width="3.5" stroke-linecap="round"/>
<path d="M256.35 401.77C260.59 405.48 272.24 416.6 281.77 424.01C291.3 431.42 300.3 438.84 313.54 446.25C326.78 453.66 345.31 461.61 361.2 468.49C377.08 475.37 392.97 480.67 408.86 487.55C424.74 494.44 440.63 501.85 456.51 509.79C472.4 517.74 488.28 528.33 504.17 535.21C520.06 542.09 535.94 546.33 551.83 551.1C567.71 555.86 583.6 560.1 599.48 563.8C615.37 567.51 631.25 568.57 647.14 573.34C663.03 578.1 681.56 586.04 694.8 592.4C708.04 598.75 715.98 605.64 726.57 611.46C737.16 617.29 747.75 622.58 758.34 627.35C768.93 632.11 779.52 636.35 790.11 640.06C800.7 643.76 812.88 646.94 821.88 649.59C830.88 652.23 840.42 654.88 844.12 655.94" fill="none" stroke="#ff0000" stroke-width="3.5" stroke-linecap="round" stroke-linejoin="round"/>
<path d="M831.26 643.35Q836.64 650.72 844.12 655.94" fill="none" stroke="#ff0000" stroke-width="3.5" stroke-linecap="round"/>
<path d="M825.92 661.03Q834.62 657.04 844.12 655.94" fill="none" stroke="#ff0000" stroke-width="3.5" stroke-linecap="round"/>
<path d="M246.7 283C250.03 283.62 261.7 283.87 266.7 286.7C271.7 289.53 274.48 292.28 276.7 300C278.92 307.72 279.17 323 280 333C280.83 343 281.25 352.77 281.7 360C282.15 367.23 282.08 371.51 282.72 376.35C283.37 381.2 282.57 383.77 285.58 389.06C288.6 394.36 293.53 401.77 300.83 408.13C308.14 414.48 319.37 420.3 329.43 427.19C339.49 434.07 350.61 443.07 361.2 449.43C371.79 455.78 382.38 461.61 392.97 465.31C403.56 469.02 414.15 470.08 424.74 471.67C435.33 473.26 445.92 472.73 456.51 474.85C467.1 476.96 477.69 480.67 488.28 484.38C498.87 488.08 509.47 492.85 520.06 497.08C530.65 501.32 538.59 506.09 551.83 509.79C565.06 513.5 583.6 516.15 599.48 519.32C615.37 522.5 631.25 525.15 647.14 528.86C663.03 532.56 681.56 536.8 694.8 541.56C708.04 546.33 715.98 552.16 726.57 557.45C737.16 562.75 747.75 569.1 758.34 573.34C768.93 577.57 779.52 580.75 790.11 582.87C800.7 584.99 812.77 585.62 821.88 586.04C830.99 586.47 840.95 585.51 844.76 585.41" fill="none" stroke="#ff0000" stroke-width="3.5" stroke-linecap="round" stroke-linejoin="round"/>
<path d="M829.27 576.23Q836.25 582.11 844.76 585.41" fill="none" stroke="#ff0000" stroke-width="3.5" stroke-linecap="round"/>
<path d="M828.28 594.67Q835.78 588.73 844.76 585.41" fill="none" stroke="#ff0000" stroke-width="3.5" stroke-linecap="round"/>
<path d="M313 219C310.33 222.5 300.83 232 297 240C293.17 248 291.5 257 290 267C288.5 277 288 289 288 300C288 311 289.17 323 290 333C290.83 343 292.25 352.77 293 360C293.75 367.23 293.44 372.3 294.48 376.35C295.52 380.4 294.48 381.12 299.25 384.3C304.01 387.47 313.81 391.98 323.07 395.42C332.34 398.86 344.25 400.71 354.85 404.95C365.44 409.18 377.61 414.48 386.62 420.83C395.62 427.19 400.91 437.25 408.86 443.07C416.8 448.9 423.68 453.13 434.27 455.78C444.86 458.43 460.75 457.9 472.4 458.96C484.05 460.02 490.93 460.55 504.17 462.14C517.41 463.73 535.94 466.37 551.83 468.49C567.71 470.61 583.6 473.26 599.48 474.85C615.37 476.43 631.25 476.96 647.14 478.02C663.03 479.08 681.56 479.61 694.8 481.2C708.04 482.79 715.98 484.38 726.57 487.55C737.16 490.73 747.75 494.97 758.34 500.26C768.93 505.56 779.52 514.03 790.11 519.32C800.7 524.62 812.77 529.65 821.88 532.03C830.99 534.42 840.95 533.36 844.76 533.62" fill="none" stroke="#ff0000" stroke-width="3.5" stroke-linecap="round" stroke-linejoin="round"/>
<path d="M831.52 521.42Q837.12 528.63 844.76 533.62" fill="none" stroke="#ff0000" stroke-width="3.5" stroke-linecap="round"/>
<path d="M826.72 539.25Q835.29 535.01 844.76 533.62" fill="none" stroke="#ff0000" stroke-width="3.5" stroke-linecap="round"/>
<path d="M369.2 360.8C368.92 362.5 367.14 367.88 367.5 371C367.86 374.12 368.71 377.05 371.37 379.53C374.02 382.01 377.19 383.77 383.44 385.89C389.69 388 400.38 389.06 408.86 392.24C417.33 395.42 426.33 400.18 434.27 404.95C442.22 409.71 449.1 416.6 456.51 420.83C463.93 425.07 469.75 428.25 478.75 430.37C487.75 432.48 498.35 433.01 510.52 433.54C522.7 434.07 539.65 432.48 551.83 433.54C564.01 434.6 573.01 437.25 583.6 439.9C594.19 442.54 604.78 447.31 615.37 449.43C625.96 451.55 633.9 451.55 647.14 452.61C660.38 453.66 678.91 454.19 694.8 455.78C710.68 457.37 729.22 460.02 742.45 462.14C755.69 464.25 763.64 466.64 774.23 468.49C784.82 470.34 794.24 473.26 806 473.26C817.75 473.26 838.3 469.29 844.76 468.49" fill="none" stroke="#ff0000" stroke-width="3.5" stroke-linecap="round" stroke-linejoin="round"/>
<path d="M828.86 460.04Q836.11 465.59 844.76 468.49" fill="none" stroke="#ff0000" stroke-width="3.5" stroke-linecap="round"/>
<path d="M828.73 478.51Q835.95 472.23 844.76 468.49" fill="none" stroke="#ff0000" stroke-width="3.5" stroke-linecap="round"/>
<path d="M425.8 365C426.68 366.26 428.62 370.12 431.1 372.54C433.57 374.96 434.8 376.25 440.63 379.53C446.45 382.81 457.57 388.53 466.04 392.24C474.52 395.95 482.46 399.92 491.46 401.77C500.46 403.62 509.99 403.36 520.06 403.36C530.12 403.36 541.24 401.51 551.83 401.77C562.42 402.04 573.01 402.3 583.6 404.95C594.19 407.6 604.78 413.42 615.37 417.66C625.96 421.89 636.55 427.19 647.14 430.37C657.73 433.54 668.32 435.66 678.91 436.72C689.5 437.78 700.09 436.45 710.68 436.72C721.27 436.98 731.86 437.25 742.45 438.31C753.04 439.37 763.64 440.96 774.23 443.07C784.82 445.19 794.77 449 806 451.02C817.22 453.03 835.65 454.46 841.58 455.15" fill="none" stroke="#ff0000" stroke-width="3.5" stroke-linecap="round" stroke-linejoin="round"/>
<path d="M827.43 444.02Q833.58 450.77 841.58 455.15" fill="none" stroke="#ff0000" stroke-width="3.5" stroke-linecap="round"/>
<path d="M824.04 462.18Q832.25 457.27 841.58 455.15" fill="none" stroke="#ff0000" stroke-width="3.5" stroke-linecap="round"/>
<path d="M555.8 372.5C556.73 374.2 556.73 379.95 561.36 382.71C565.99 385.47 574.6 386.42 583.6 389.06C592.6 391.71 604.78 394.89 615.37 398.59C625.96 402.3 636.55 408.13 647.14 411.3C657.73 414.48 668.32 416.33 678.91 417.66C689.5 418.98 697.45 419.25 710.68 419.25C723.92 419.25 742.45 417.92 758.34 417.66C774.23 417.39 793.82 418.19 806 417.66C818.18 417.13 824.27 416.33 831.41 414.48C838.56 412.63 845.98 407.86 848.89 406.54" fill="none" stroke="#ff0000" stroke-width="3.5" stroke-linecap="round" stroke-linejoin="round"/>
<path d="M831.38 402.35Q839.79 405.9 848.89 406.54" fill="none" stroke="#ff0000" stroke-width="3.5" stroke-linecap="round"/>
<path d="M835.89 420.25Q841.3 412.36 848.89 406.54" fill="none" stroke="#ff0000" stroke-width="3.5" stroke-linecap="round"/>
<path d="M655.8 358.3C656.08 360.25 656.25 365.83 657.5 370C658.75 374.17 660.1 379.97 663.3 383.3C666.5 386.63 670.3 388.05 676.7 390C683.1 391.95 693.37 394.45 701.7 395C710.03 395.55 718.37 393.72 726.7 393.3C735.03 392.88 743.37 392.08 751.7 392.5C760.03 392.92 768.37 394.83 776.7 395.8C785.03 396.77 793.37 398.02 801.7 398.3C810.03 398.58 819.2 397.92 826.7 397.5C834.2 397.08 843.37 396.08 846.7 395.8" fill="none" stroke="#ff0000" stroke-width="3.5" stroke-linecap="round" stroke-linejoin="round"/>
<path d="M830.36 388.24Q837.9 393.38 846.7 395.8" fill="none" stroke="#ff0000" stroke-width="3.5" stroke-linecap="round"/>
<path d="M831.25 406.69Q838.11 400.02 846.7 395.8" fill="none" stroke="#ff0000" stroke-width="3.5" stroke-linecap="round"/>
<path d="M750 349.2C754.45 349.62 768.08 350.45 776.7 351.7C785.32 352.95 794.48 354.2 801.7 356.7C808.92 359.2 814.73 362.53 820 366.7C825.27 370.87 829.42 377.27 833.3 381.7C837.18 386.13 840.8 390.8 843.3 393.3C845.8 395.8 847.47 396.13 848.3 396.7" fill="none" stroke="#ff0000" stroke-width="3.5" stroke-linecap="round" stroke-linejoin="round"/>
<path d="M845 375L848.5 396.5" fill="none" stroke="#ff0000" stroke-width="3.5" stroke-linecap="round"/>
<path d="M830 392L848 397" fill="none" stroke="#ff0000" stroke-width="3.5" stroke-linecap="round"/>
<path d="M289.71 490.1C296.33 489.78 317.51 488.08 329.43 488.19C341.34 488.29 350.61 488.19 361.2 490.73C371.79 493.27 382.38 498.67 392.97 503.44C403.56 508.2 414.15 514.03 424.74 519.32C435.33 524.62 445.92 530.44 456.51 535.21C467.1 539.98 475.05 544.21 488.28 547.92C501.52 551.63 520.06 555.33 535.94 557.45C551.83 559.57 567.71 558.51 583.6 560.63C599.48 562.75 618.02 565.92 631.25 570.16C644.49 574.4 652.44 581.28 663.03 586.04C673.62 590.81 684.21 595.58 694.8 598.75C705.39 601.93 715.98 601.4 726.57 605.11C737.16 608.81 747.75 615.17 758.34 620.99C768.93 626.82 779.52 635.18 790.11 640.06C800.7 644.93 812.99 648.63 821.88 650.22C830.78 651.81 839.89 649.69 843.49 649.59" fill="none" stroke="#ff0000" stroke-width="3.5" stroke-linecap="round" stroke-linejoin="round"/>
<path d="M829.33 638.47Q835.48 645.21 843.49 649.59" fill="none" stroke="#ff0000" stroke-width="3.5" stroke-linecap="round"/>
<path d="M825.95 656.63Q834.16 651.72 843.49 649.59" fill="none" stroke="#ff0000" stroke-width="3.5" stroke-linecap="round"/>
<path d="M604.25 627.35C608.75 626.82 622.52 623.64 631.25 624.17C639.99 624.7 648.73 627.35 656.67 630.52C664.61 633.7 672.56 638.47 678.91 643.23C685.27 648 689.5 654.35 694.8 659.12C700.09 663.88 702.74 668.38 710.68 671.83C718.63 675.27 729.22 678.18 742.45 679.77C755.69 681.36 776.87 681.36 790.11 681.36C803.35 681.36 812.88 680.3 821.88 679.77C830.88 679.24 840.42 678.45 844.12 678.18" fill="none" stroke="#ff0000" stroke-width="3.5" stroke-linecap="round" stroke-linejoin="round"/>
<path d="M827.76 670.68Q835.32 675.79 844.12 678.18" fill="none" stroke="#ff0000" stroke-width="3.5" stroke-linecap="round"/>
<path d="M828.71 689.12Q835.55 682.43 844.12 678.18" fill="none" stroke="#ff0000" stroke-width="3.5" stroke-linecap="round"/>
<text transform="translate(1563 45) rotate(-3.6) skewX(-5)" font-size="38" fill="#0000ee" stroke="#0000ee" stroke-width="1.6" stroke-linejoin="round" font-family='"DejaVu Sans Light","DejaVu Sans","Liberation Sans",sans-serif' textLength="236" lengthAdjust="spacingAndGlyphs">BY FEDEVEL</text>
<text transform="translate(1631 76) rotate(-7.2) skewX(-12)" font-size="41" fill="#0000ee" stroke="#0000ee" stroke-width="1.6" stroke-linejoin="round" font-family='"DejaVu Sans Light","DejaVu Sans","Liberation Sans",sans-serif' textLength="205" lengthAdjust="spacingAndGlyphs">ACADEMY</text>
<ellipse cx="1869" cy="28" rx="24" ry="18" fill="none" stroke="#0000ee" stroke-width="3.2" transform="rotate(-12 1869 28)"/>
<path d="M1852 28C1853 29.33 1855.33 34.5 1858 36C1860.67 37.5 1864.67 37.67 1868 37C1871.33 36.33 1876.33 32.83 1878 32" fill="none" stroke="#0000ee" stroke-width="3" stroke-linecap="round" stroke-linejoin="round"/>
<path d="M1860 20 L1860.5 23" fill="none" stroke="#0000ee" stroke-width="3.4" stroke-linecap="round" stroke-linejoin="round"/>
<path d="M1874 22 L1875 24" fill="none" stroke="#0000ee" stroke-width="3.4" stroke-linecap="round" stroke-linejoin="round"/>
<text transform="translate(1551 150.5) rotate(-1) skewX(-3)" font-size="26.5" fill="#0000ee" stroke="#0000ee" stroke-width="1.6" stroke-linejoin="round" font-family='"DejaVu Sans Light","DejaVu Sans","Liberation Sans",sans-serif' textLength="165" lengthAdjust="spacingAndGlyphs">OUR GRAPH</text>
<text transform="translate(1582 183) rotate(-2) skewX(-3)" font-size="29" fill="#0000ee" stroke="#0000ee" stroke-width="1.6" stroke-linejoin="round" font-family='"DejaVu Sans Light","DejaVu Sans","Liberation Sans",sans-serif' textLength="118" lengthAdjust="spacingAndGlyphs">100 MHz</text>
<path d="M1611.5 189.5C1612.25 191.25 1614.33 196.42 1616 200C1617.67 203.58 1620.58 209.17 1621.5 211" fill="none" stroke="#0000ee" stroke-width="3" stroke-linecap="round" stroke-linejoin="round"/>
<path d="M1612 203 L1621.5 211.5 L1625 199" fill="none" stroke="#0000ee" stroke-width="3" stroke-linecap="round" stroke-linejoin="round"/>
<ellipse cx="1624.3" cy="229.5" rx="9.5" ry="18" fill="none" stroke="#0000ee" stroke-width="3.2"/>
<text transform="translate(783 125.5) rotate(-1.5) skewX(-4)" font-size="37" fill="#0000ee" stroke="#0000ee" stroke-width="1.6" stroke-linejoin="round" font-family='"DejaVu Sans Light","DejaVu Sans","Liberation Sans",sans-serif' textLength="134" lengthAdjust="spacingAndGlyphs">3 OHMS</text>
<text transform="translate(819 247) rotate(-9) skewX(-6)" font-size="42" fill="#0000ee" stroke="#0000ee" stroke-width="1.7" stroke-linejoin="round" font-family='"DejaVu Sans Light","DejaVu Sans","Liberation Sans",sans-serif' textLength="58" lengthAdjust="spacingAndGlyphs">2.5</text>
<text transform="translate(825 371) rotate(4)" font-size="33" fill="#0000ee" stroke="#0000ee" stroke-width="2" stroke-linejoin="round" font-family='"DejaVu Sans Light","DejaVu Sans","Liberation Sans",sans-serif'>2</text>
<text transform="translate(821 518) rotate(-8) skewX(-8)" font-size="36" fill="#0000ee" stroke="#0000ee" stroke-width="2.2" stroke-linejoin="round" font-family='"DejaVu Sans Light","DejaVu Sans","Liberation Sans",sans-serif' textLength="47" lengthAdjust="spacingAndGlyphs">1.5</text>
<text transform="translate(851 643) rotate(3) skewX(-6)" font-size="33" fill="#0000ee" stroke="#0000ee" stroke-width="2.2" stroke-linejoin="round" font-family='"DejaVu Sans Light","DejaVu Sans","Liberation Sans",sans-serif'>1</text>
<text transform="translate(853 760) rotate(-11) skewX(-4)" font-size="34" fill="#0000ee" stroke="#0000ee" stroke-width="1.9" stroke-linejoin="round" font-family='"DejaVu Sans Light","DejaVu Sans","Liberation Sans",sans-serif' textLength="36" lengthAdjust="spacingAndGlyphs">0.5</text>
<text transform="translate(828 921) rotate(2) skewX(-6)" font-size="36" fill="#0000ee" stroke="#0000ee" stroke-width="2" stroke-linejoin="round" font-family='"DejaVu Sans Light","DejaVu Sans","Liberation Sans",sans-serif' textLength="17" lengthAdjust="spacingAndGlyphs">0</text>
<text transform="translate(86 1038) rotate(-1.2)" font-size="31" fill="#0000ee" stroke="#0000ee" stroke-width="1.6" stroke-linejoin="round" font-family='"DejaVu Sans Light","DejaVu Sans","Liberation Sans",sans-serif' textLength="188" lengthAdjust="spacingAndGlyphs" xml:space="preserve">CAPS ARE</text>
<text transform="translate(121 1076) rotate(-1.5)" font-size="33" fill="#0000ee" stroke="#0000ee" stroke-width="1.6" stroke-linejoin="round" font-family='"DejaVu Sans Light","DejaVu Sans","Liberation Sans",sans-serif' textLength="174" lengthAdjust="spacingAndGlyphs">ROTATED</text>
<text transform="translate(568 1035) rotate(-2.5)" font-size="34" fill="#0000ee" stroke="#0000ee" stroke-width="1.6" stroke-linejoin="round" font-family='"DejaVu Sans Light","DejaVu Sans","Liberation Sans",sans-serif' textLength="168" lengthAdjust="spacingAndGlyphs">4LAYERS</text>
<text transform="translate(545 1079) rotate(-6.5)" font-size="36" fill="#0000ee" stroke="#0000ee" stroke-width="1.6" stroke-linejoin="round" font-family='"DejaVu Sans Light","DejaVu Sans","Liberation Sans",sans-serif' textLength="228" lengthAdjust="spacingAndGlyphs">IN PARALLEL</text>
<path d="M293.33 1031.67C300 1029.44 318.33 1021.11 333.33 1018.33C348.33 1015.56 366.67 1016.11 383.33 1015C400 1013.89 419.44 1014.72 433.33 1011.67C447.22 1008.61 458.33 1002.5 466.67 996.67C475 990.83 478.89 983.33 483.33 976.67C487.78 970 489.17 962.22 493.33 956.67C497.5 951.11 505.83 945.56 508.33 943.33" fill="none" stroke="#0000ee" stroke-width="3.4" stroke-linecap="round" stroke-linejoin="round"/>
<path d="M491.67 936.67 L510 941.67 L498.33 960.67" fill="none" stroke="#0000ee" stroke-width="3.4" stroke-linecap="round" stroke-linejoin="round"/>
<path d="M767.5 1032.29C770.97 1031.08 781.04 1026.74 788.33 1025C795.62 1023.26 807.43 1022.4 811.25 1021.88" fill="none" stroke="#0000ee" stroke-width="3.4" stroke-linecap="round" stroke-linejoin="round"/>
<path d="M790.42 1011.46 L812.29 1021.88 L800.83 1035.42" fill="none" stroke="#0000ee" stroke-width="3.4" stroke-linecap="round" stroke-linejoin="round"/>
<path d="M524.79 916.25 L535.21 916.25" fill="none" stroke="#0000ee" stroke-width="3" stroke-linecap="round" stroke-linejoin="round"/>
<path d="M530 910.42 L530 918.75" fill="none" stroke="#0000ee" stroke-width="3" stroke-linecap="round" stroke-linejoin="round"/>
<path d="M552.92 914.58 L561.25 914.58" fill="none" stroke="#0000ee" stroke-width="3" stroke-linecap="round" stroke-linejoin="round"/>
<path d="M578.96 916.25 L590 915" fill="none" stroke="#0000ee" stroke-width="3" stroke-linecap="round" stroke-linejoin="round"/>
<path d="M582.71 908.33 L583.12 931.25" fill="none" stroke="#0000ee" stroke-width="3" stroke-linecap="round" stroke-linejoin="round"/>
<path d="M522.71 943.75 L532.08 944.79" fill="none" stroke="#0000ee" stroke-width="3" stroke-linecap="round" stroke-linejoin="round"/>
<path d="M548.75 943.75 L562.29 943.75" fill="none" stroke="#0000ee" stroke-width="3" stroke-linecap="round" stroke-linejoin="round"/>
<path d="M555 935.42 L555 953.12" fill="none" stroke="#0000ee" stroke-width="3" stroke-linecap="round" stroke-linejoin="round"/>
<path d="M577.92 942.71 L587.29 942.71" fill="none" stroke="#0000ee" stroke-width="3" stroke-linecap="round" stroke-linejoin="round"/>
<path d="M1010 985C1011.67 983.83 1016.69 980.12 1020 978C1023.31 975.88 1026.29 974.5 1029.84 972.26C1033.4 970.03 1039.41 965.88 1041.33 964.61" fill="none" stroke="#0000ee" stroke-width="3.6" stroke-linecap="round" stroke-linejoin="round"/>
<path d="M1031.48 960.78C1032.67 960.14 1036.17 957.77 1038.59 956.95C1041.02 956.13 1044.75 954.67 1046.03 955.86C1047.31 957.04 1046.43 961.24 1046.25 964.06C1046.07 966.89 1045.16 971.35 1044.94 972.81" fill="none" stroke="#0000ee" stroke-width="3.6" stroke-linecap="round" stroke-linejoin="round"/>
<path d="M1091.09 955.31C1094.74 957.13 1105.68 962.69 1112.97 966.25C1120.26 969.8 1132.21 975.28 1134.84 976.64C1137.47 977.99 1126.43 973.5 1128.75 974.38C1131.07 975.25 1145.42 980.62 1148.75 981.88" fill="none" stroke="#0000ee" stroke-width="3.6" stroke-linecap="round" stroke-linejoin="round"/>
<path d="M1142.25 965.62C1143.12 967.4 1144.65 972.71 1147.5 976.25C1150.35 979.79 1159.38 984.69 1159.38 986.88C1159.38 989.06 1150.9 988.69 1147.5 989.38C1144.1 990.06 1140.42 990.73 1139 991" fill="none" stroke="#0000ee" stroke-width="3.6" stroke-linecap="round" stroke-linejoin="round"/>
</svg></body></html>
